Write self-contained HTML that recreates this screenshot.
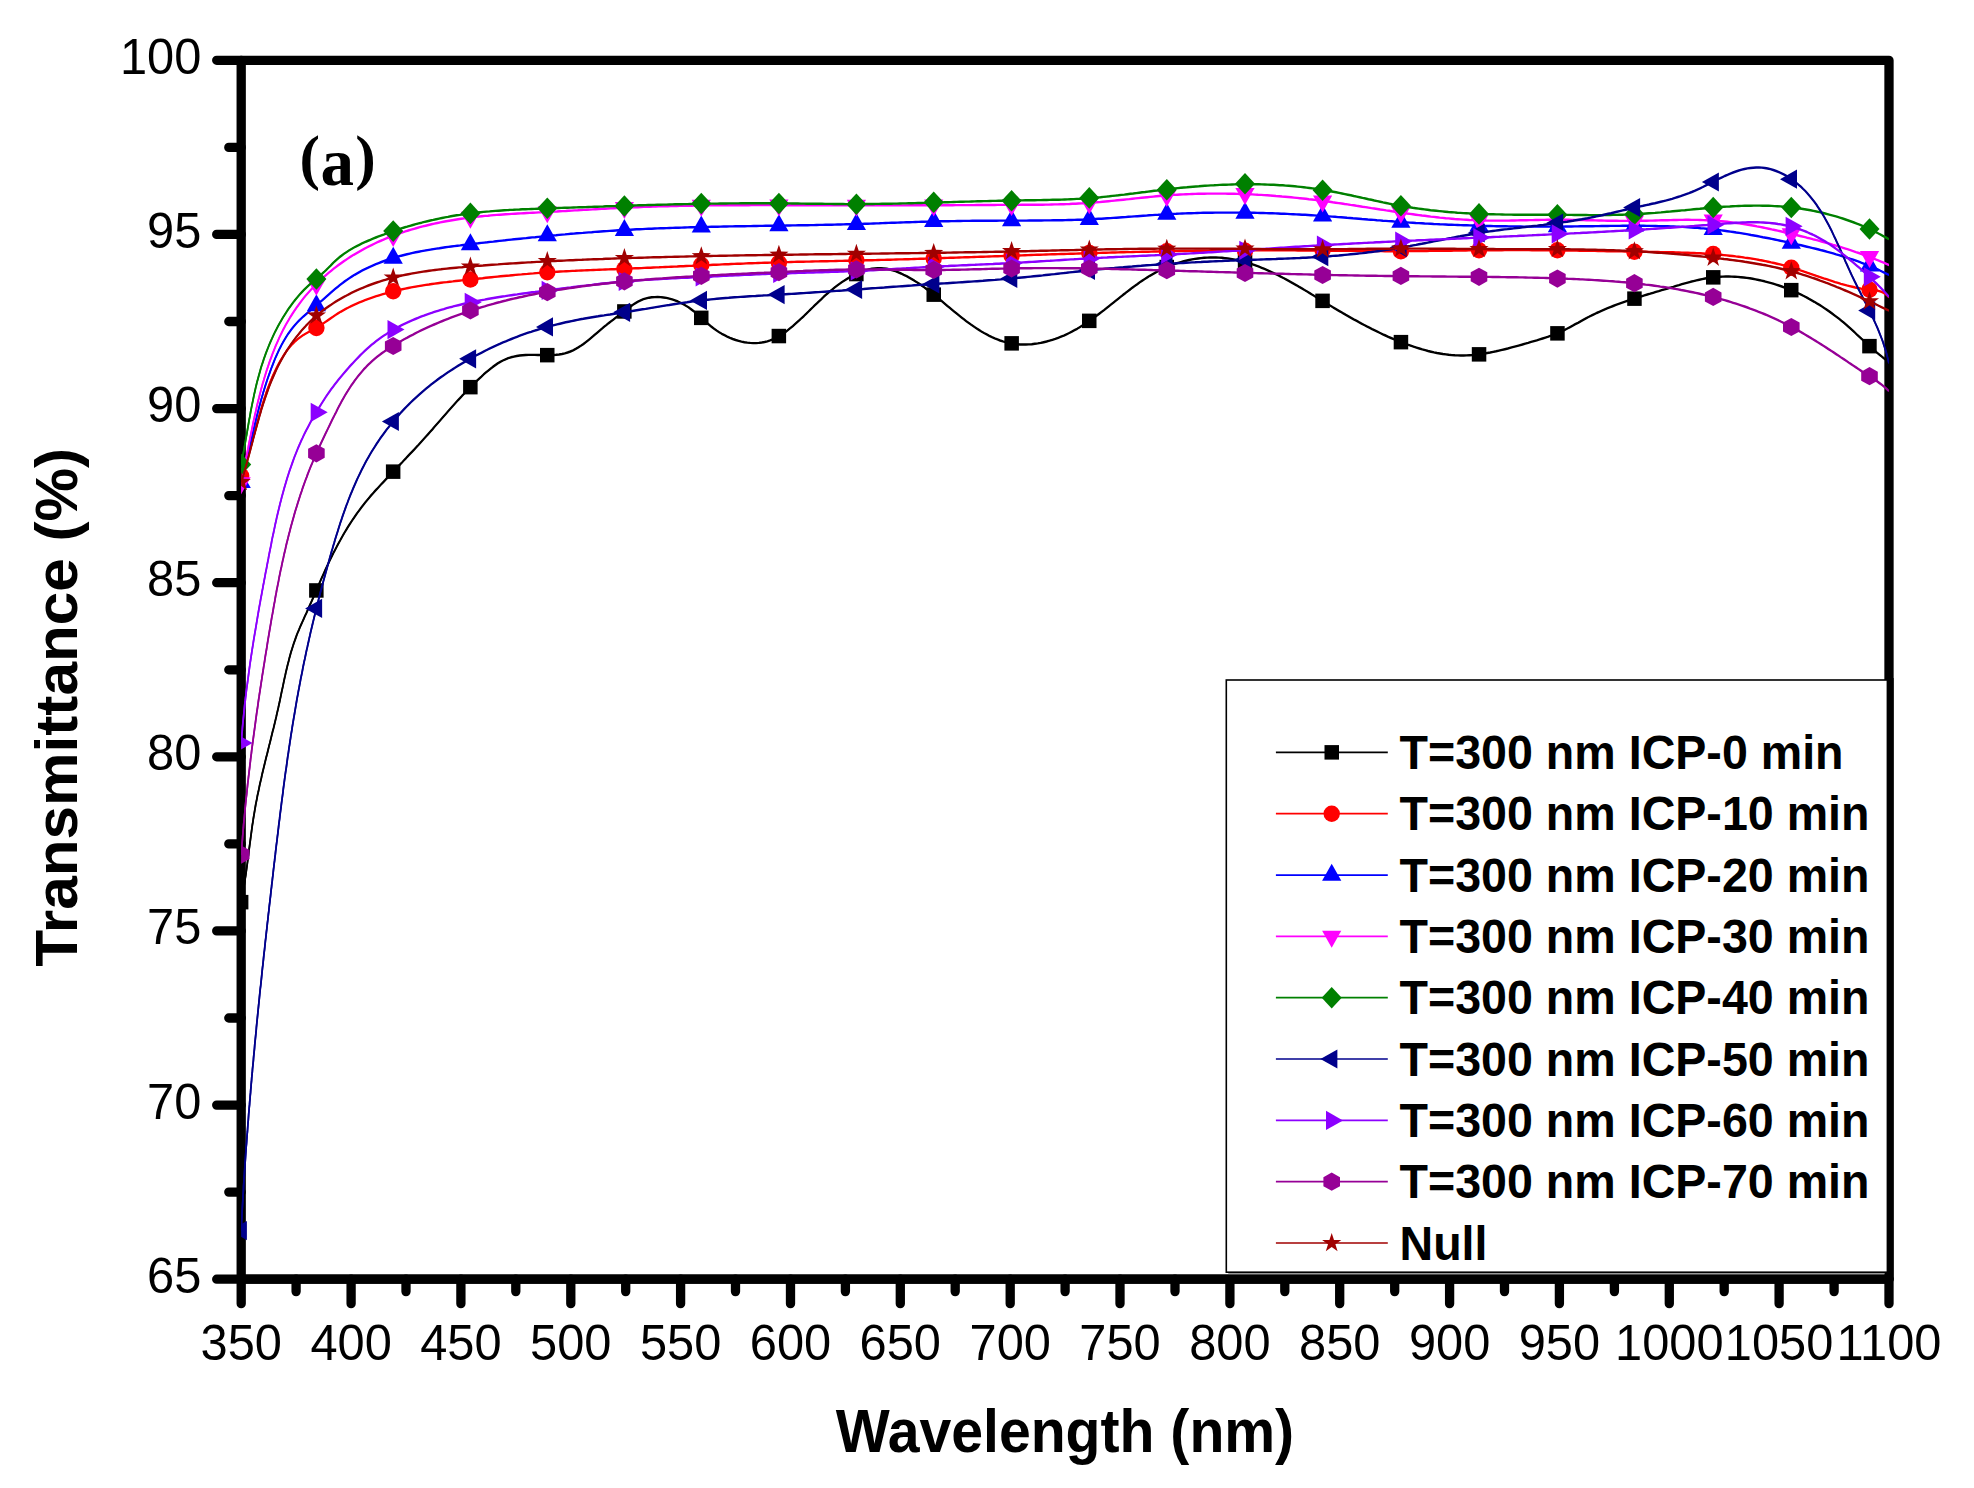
<!DOCTYPE html>
<html lang="en">
<head>
<meta charset="utf-8">
<title>Transmittance vs Wavelength (a)</title>
<style>
html,body{margin:0;padding:0;background:#fff;}
body{width:1974px;height:1488px;overflow:hidden;}
svg{display:block;}
</style>
</head>
<body>
<svg width="1974" height="1488" viewBox="0 0 1974 1488">
<rect width="1974" height="1488" fill="#fff"/>
<defs><clipPath id="cp"><rect x="241.1" y="60.3" width="1647.9" height="1218.9"/></clipPath></defs>
<g stroke="#000" stroke-width="9.3" stroke-linecap="round" fill="none">
<path d="M241.2,60.3 H1889 V1279.2 H241.2 Z" stroke-linejoin="round"/>
<path d="M241.2,60.3H216.7M241.2,147.4H228.8M241.2,234.4H216.7M241.2,321.5H228.8M241.2,408.6H216.7M241.2,495.6H228.8M241.2,582.7H216.7M241.2,669.8H228.8M241.2,756.8H216.7M241.2,843.9H228.8M241.2,930.9H216.7M241.2,1018H228.8M241.2,1105.1H216.7M241.2,1192.1H228.8M241.2,1279.2H216.7M241.2,1279.2V1303.7M296.1,1279.2V1291.6M351.1,1279.2V1303.7M406,1279.2V1291.6M460.9,1279.2V1303.7M515.8,1279.2V1291.6M570.8,1279.2V1303.7M625.7,1279.2V1291.6M680.6,1279.2V1303.7M735.5,1279.2V1291.6M790.5,1279.2V1303.7M845.4,1279.2V1291.6M900.3,1279.2V1303.7M955.2,1279.2V1291.6M1010.2,1279.2V1303.7M1065.1,1279.2V1291.6M1120,1279.2V1303.7M1175,1279.2V1291.6M1229.9,1279.2V1303.7M1284.8,1279.2V1291.6M1339.7,1279.2V1303.7M1394.7,1279.2V1291.6M1449.6,1279.2V1303.7M1504.5,1279.2V1291.6M1559.4,1279.2V1303.7M1614.4,1279.2V1291.6M1669.3,1279.2V1303.7M1724.2,1279.2V1291.6M1779.1,1279.2V1303.7M1834.1,1279.2V1291.6M1889,1279.2V1303.7"/>
</g>
<g font-family="'Liberation Sans', sans-serif" font-size="50" fill="#000">
<text transform="translate(201.3,73.8) scale(0.976,1)" text-anchor="end">100</text>
<text transform="translate(201.3,247.9) scale(0.976,1)" text-anchor="end">95</text>
<text transform="translate(201.3,422.1) scale(0.976,1)" text-anchor="end">90</text>
<text transform="translate(201.3,596.2) scale(0.976,1)" text-anchor="end">85</text>
<text transform="translate(201.3,770.3) scale(0.976,1)" text-anchor="end">80</text>
<text transform="translate(201.3,944.4) scale(0.976,1)" text-anchor="end">75</text>
<text transform="translate(201.3,1118.6) scale(0.976,1)" text-anchor="end">70</text>
<text transform="translate(201.3,1292.7) scale(0.976,1)" text-anchor="end">65</text>
<text transform="translate(241.2,1359.7) scale(0.976,1)" text-anchor="middle">350</text>
<text transform="translate(351.1,1359.7) scale(0.976,1)" text-anchor="middle">400</text>
<text transform="translate(460.9,1359.7) scale(0.976,1)" text-anchor="middle">450</text>
<text transform="translate(570.8,1359.7) scale(0.976,1)" text-anchor="middle">500</text>
<text transform="translate(680.6,1359.7) scale(0.976,1)" text-anchor="middle">550</text>
<text transform="translate(790.5,1359.7) scale(0.976,1)" text-anchor="middle">600</text>
<text transform="translate(900.3,1359.7) scale(0.976,1)" text-anchor="middle">650</text>
<text transform="translate(1010.2,1359.7) scale(0.976,1)" text-anchor="middle">700</text>
<text transform="translate(1120,1359.7) scale(0.976,1)" text-anchor="middle">750</text>
<text transform="translate(1229.9,1359.7) scale(0.976,1)" text-anchor="middle">800</text>
<text transform="translate(1339.7,1359.7) scale(0.976,1)" text-anchor="middle">850</text>
<text transform="translate(1449.6,1359.7) scale(0.976,1)" text-anchor="middle">900</text>
<text transform="translate(1559.4,1359.7) scale(0.976,1)" text-anchor="middle">950</text>
<text transform="translate(1669.3,1359.7) scale(0.976,1)" text-anchor="middle">1000</text>
<text transform="translate(1779.1,1359.7) scale(0.976,1)" text-anchor="middle">1050</text>
<text transform="translate(1889,1359.7) scale(0.976,1)" text-anchor="middle">1100</text>
</g>
<g font-family="'Liberation Sans', sans-serif" font-weight="bold" fill="#000">
<text transform="translate(1065,1452.2) scale(0.945,1)" text-anchor="middle" font-size="60.5">Wavelength (nm)</text>
<text transform="translate(77,707.3) rotate(-90) scale(1.004,1)" font-size="60" text-anchor="middle">Transmittance (%)</text>
</g>
<text font-family="'Liberation Serif', serif" font-weight="bold" fill="#000"><tspan x="299.6" y="177.8" font-size="61.5">(</tspan><tspan x="320.6" y="184.6" font-size="67">a</tspan><tspan x="355.3" y="177.8" font-size="61.5">)</tspan></text>
<g clip-path="url(#cp)">
<path d="M241.2,902.1L241.8,899.2L242.3,896.2L242.8,893.3L243.4,890.3L243.8,887.4L244.3,884.4L244.8,881.5L245.2,878.5L245.7,875.5L246.1,872.5L246.5,869.6L246.9,866.6L247.3,863.6L247.7,860.6L248.1,857.6L248.5,854.7L248.8,851.7L249.2,848.7L249.6,845.7L250,842.7L250.4,839.7L250.8,836.8L251.2,833.8L251.6,830.8L252,827.8L252.4,824.8L252.9,821.9L253.3,818.9L253.8,815.9L254.3,813L254.8,810L255.3,807.1L255.8,804.1L256.4,801.2L257,798.2L257.5,795.3L258.2,792.4L258.8,789.5L259.4,786.5L260,783.6L260.7,780.7L261.4,777.8L262,774.8L262.7,771.9L263.4,769L264.1,766.1L264.8,763.2L265.5,760.3L266.2,757.4L267,754.5L267.7,751.6L268.4,748.7L269.1,745.8L269.9,742.8L270.6,739.9L271.3,737L272,734.1L272.7,731.2L273.5,728.3L274.2,725.4L274.9,722.5L275.6,719.5L276.3,716.6L276.9,713.7L277.6,710.8L278.3,707.8L278.9,704.9L279.6,701.9L280.2,699L280.8,696.1L281.4,693.1L282,690.2L282.7,687.2L283.3,684.3L283.9,681.3L284.5,678.4L285.2,675.5L285.8,672.5L286.5,669.6L287.2,666.7L287.9,663.8L288.7,660.9L289.4,658L290.2,655.1L291,652.2L291.9,649.3L292.8,646.5L293.7,643.6L294.7,640.8L295.7,638L296.7,635.2L297.8,632.4L299,629.7L300.1,626.9L301.3,624.2L302.6,621.4L303.8,618.7L305,615.9L306.3,613.2L307.5,610.5L308.7,607.7L309.9,605L311.2,602.2L312.4,599.5L313.6,596.7L314.7,594L315.9,591.2L317.1,588.5L318.3,585.7L319.5,583L320.7,580.2L321.9,577.5L323.2,574.7L324.4,572L325.6,569.3L326.9,566.5L328.2,563.8L329.5,561.1L330.8,558.4L332.1,555.7L333.4,553L334.8,550.4L336.2,547.7L337.6,545.1L339,542.4L340.5,539.8L341.9,537.2L343.4,534.6L344.9,532L346.5,529.4L348,526.9L349.6,524.4L351.3,521.8L352.9,519.3L354.6,516.9L356.3,514.4L358,512L359.8,509.6L361.6,507.2L363.4,504.8L365.3,502.4L367.2,500.1L369.1,497.8L371,495.5L373,493.3L375,491L377.1,488.8L379.1,486.6L381.1,484.4L383.2,482.2L385.3,480L387.4,477.8L389.4,475.6L391.5,473.5L393.6,471.3L395.6,469.1L397.7,466.9L399.8,464.7L401.9,462.6L403.9,460.4L406,458.2L408,456L410.1,453.8L412.1,451.7L414.2,449.5L416.2,447.3L418.3,445.1L420.3,442.8L422.3,440.6L424.3,438.4L426.3,436.2L428.3,434L430.3,431.7L432.3,429.5L434.2,427.2L436.2,424.9L438.2,422.7L440.2,420.4L442.1,418.2L444.1,415.9L446.1,413.6L448,411.4L450,409.1L452,406.9L454,404.7L456,402.4L458,400.2L460.1,398L462.1,395.8L464.2,393.6L466.2,391.4L468.3,389.3L470.4,387.1L472.6,385L474.7,382.9L476.9,380.8L479.1,378.7L481.3,376.7L483.5,374.6L485.8,372.6L488.1,370.7L490.5,368.7L492.8,366.9L495.3,365.1L497.7,363.4L500.3,361.9L502.9,360.5L505.5,359.3L508.2,358.2L511,357.3L513.9,356.6L516.7,356L519.7,355.5L522.6,355.2L525.6,355L528.7,354.9L531.7,354.9L534.8,354.9L537.9,355L540.9,355L544,355.1L547.1,355.1L550.1,355.1L553.1,355L556.1,354.8L559.1,354.5L562,354L564.8,353.4L567.6,352.5L570.4,351.5L573.1,350.3L575.7,348.9L578.3,347.4L580.8,345.8L583.3,344.1L585.7,342.3L588,340.4L590.4,338.5L592.7,336.6L595,334.6L597.2,332.7L599.5,330.7L601.8,328.8L604.1,326.8L606.4,325L608.7,323.1L611.1,321.3L613.5,319.5L615.9,317.6L618.3,315.8L620.7,314L623.2,312.2L625.6,310.3L628,308.4L630.5,306.6L632.9,304.8L635.5,303.1L638,301.6L640.7,300.3L643.4,299.2L646.2,298.4L649,297.7L651.8,297.3L654.7,297.1L657.6,297L660.6,297.1L663.5,297.5L666.4,297.9L669.3,298.6L672.2,299.4L675,300.4L677.9,301.5L680.6,302.8L683.3,304.1L685.9,305.7L688.5,307.3L690.9,309.1L693.3,310.9L695.7,312.8L698,314.8L700.2,316.8L702.5,318.9L704.8,320.9L707.1,322.9L709.4,324.9L711.7,326.9L714.1,328.7L716.6,330.5L719.2,332.2L721.8,333.8L724.5,335.2L727.2,336.6L730,337.9L732.8,339L735.7,340L738.6,340.8L741.5,341.6L744.4,342.2L747.3,342.6L750.2,342.9L753.1,343.1L756,343.1L758.9,342.9L761.8,342.5L764.6,342L767.4,341.3L770.1,340.4L772.8,339.4L775.4,338.2L778,336.8L780.6,335.3L783.1,333.6L785.6,331.9L788,330L790.4,328.1L792.7,326.2L795.1,324.1L797.3,322.1L799.6,320L801.8,317.9L804,315.9L806.2,313.8L808.4,311.6L810.5,309.5L812.7,307.4L814.8,305.3L817,303.3L819.1,301.2L821.3,299.2L823.4,297.1L825.6,295.1L827.8,293.2L830,291.3L832.3,289.4L834.6,287.5L836.9,285.7L839.3,284L841.7,282.3L844.1,280.7L846.6,279.1L849.2,277.6L851.8,276.1L854.5,274.8L857.3,273.5L860.1,272.3L863,271.2L865.9,270.3L868.9,269.5L871.8,268.8L874.8,268.4L877.8,268.2L880.8,268.2L883.8,268.4L886.8,268.8L889.7,269.5L892.6,270.3L895.5,271.2L898.3,272.3L901.1,273.5L903.8,274.9L906.6,276.2L909.2,277.7L911.8,279.2L914.4,280.7L916.9,282.3L919.4,283.9L921.8,285.6L924.2,287.3L926.6,289.1L928.9,290.9L931.3,292.7L933.6,294.5L935.9,296.4L938.2,298.2L940.5,300.1L942.8,302L945.1,303.9L947.4,305.9L949.7,307.8L952,309.7L954.4,311.7L956.7,313.6L959.1,315.5L961.5,317.4L963.9,319.3L966.3,321.2L968.8,323L971.3,324.8L973.8,326.5L976.3,328.2L978.9,329.9L981.4,331.5L984,333L986.7,334.4L989.3,335.8L992,337.1L994.7,338.3L997.4,339.4L1000.1,340.5L1002.9,341.4L1005.7,342.2L1008.5,342.9L1011.4,343.5L1014.2,343.9L1017.1,344.2L1020,344.5L1023,344.5L1025.9,344.5L1028.9,344.4L1031.8,344.2L1034.8,343.8L1037.8,343.4L1040.7,342.9L1043.7,342.2L1046.6,341.5L1049.5,340.7L1052.4,339.8L1055.3,338.9L1058.2,337.8L1061,336.7L1063.8,335.6L1066.5,334.3L1069.2,333L1071.9,331.6L1074.5,330.2L1077.1,328.8L1079.7,327.2L1082.2,325.7L1084.8,324L1087.3,322.4L1089.7,320.7L1092.2,319L1094.6,317.2L1097,315.4L1099.4,313.6L1101.8,311.8L1104.2,310L1106.6,308.1L1108.9,306.2L1111.3,304.3L1113.6,302.5L1116,300.6L1118.3,298.7L1120.7,296.8L1123,294.9L1125.4,293.1L1127.8,291.2L1130.2,289.4L1132.5,287.6L1135,285.8L1137.4,284.1L1139.8,282.3L1142.3,280.6L1144.8,279L1147.3,277.4L1149.8,275.8L1152.4,274.3L1155,272.8L1157.6,271.4L1160.3,270L1163,268.7L1165.8,267.5L1168.5,266.3L1171.4,265.2L1174.2,264.1L1177.1,263.2L1180.1,262.3L1183,261.5L1186,260.7L1189,260L1192,259.4L1195,258.9L1198,258.5L1201,258.1L1204.1,257.8L1207.1,257.6L1210.1,257.5L1213.1,257.4L1216.1,257.5L1219,257.6L1222,257.8L1224.9,258.1L1227.8,258.4L1230.7,258.9L1233.6,259.4L1236.5,259.9L1239.3,260.6L1242.2,261.3L1245,262L1247.8,262.9L1250.6,263.7L1253.4,264.7L1256.2,265.7L1259,266.7L1261.7,267.8L1264.5,268.9L1267.2,270.1L1269.9,271.3L1272.6,272.6L1275.3,273.9L1278,275.2L1280.7,276.6L1283.4,278L1286,279.4L1288.7,280.9L1291.3,282.3L1294,283.8L1296.6,285.3L1299.2,286.9L1301.9,288.4L1304.5,290L1307.1,291.5L1309.7,293.1L1312.3,294.7L1314.9,296.3L1317.5,297.8L1320.1,299.4L1322.7,301L1325.2,302.6L1327.8,304.1L1330.4,305.7L1333,307.3L1335.6,308.8L1338.1,310.3L1340.7,311.8L1343.3,313.4L1345.9,314.9L1348.5,316.3L1351.1,317.8L1353.7,319.3L1356.3,320.7L1358.9,322.2L1361.5,323.6L1364.2,325L1366.8,326.4L1369.4,327.7L1372.1,329.1L1374.8,330.4L1377.4,331.7L1380.1,333L1382.8,334.3L1385.5,335.5L1388.3,336.8L1391,338L1393.8,339.2L1396.6,340.3L1399.4,341.4L1402.2,342.6L1405,343.6L1407.8,344.7L1410.7,345.7L1413.6,346.7L1416.5,347.6L1419.4,348.5L1422.3,349.4L1425.2,350.2L1428.1,351L1431.1,351.7L1434,352.4L1437,353L1439.9,353.5L1442.9,354L1445.9,354.4L1448.8,354.8L1451.8,355.1L1454.8,355.3L1457.8,355.4L1460.7,355.5L1463.7,355.5L1466.6,355.4L1469.6,355.2L1472.6,355L1475.5,354.7L1478.5,354.4L1481.4,354L1484.4,353.5L1487.3,353L1490.2,352.5L1493.2,351.9L1496.1,351.3L1499,350.6L1502,349.9L1504.9,349.2L1507.8,348.5L1510.7,347.7L1513.6,346.9L1516.6,346.1L1519.5,345.3L1522.4,344.5L1525.3,343.6L1528.2,342.8L1531.1,341.9L1534,341.1L1536.8,340.3L1539.7,339.4L1542.6,338.5L1545.4,337.6L1548.3,336.7L1551.1,335.7L1553.9,334.6L1556.6,333.5L1559.4,332.4L1562.1,331.1L1564.8,329.8L1567.4,328.5L1570.1,327.1L1572.7,325.7L1575.3,324.2L1578,322.8L1580.6,321.3L1583.2,319.9L1585.9,318.4L1588.5,317L1591.2,315.7L1593.9,314.3L1596.6,313L1599.3,311.8L1602,310.6L1604.8,309.4L1607.6,308.2L1610.3,307.1L1613.1,306L1615.9,304.9L1618.7,303.9L1621.5,302.9L1624.4,301.9L1627.2,300.9L1630.1,300L1632.9,299L1635.8,298.1L1638.7,297.2L1641.5,296.3L1644.4,295.4L1647.3,294.5L1650.2,293.7L1653.1,292.8L1655.9,291.9L1658.8,291.1L1661.7,290.2L1664.6,289.4L1667.5,288.5L1670.4,287.6L1673.3,286.8L1676.1,285.9L1679,285.1L1681.9,284.2L1684.8,283.4L1687.7,282.6L1690.6,281.8L1693.5,281.1L1696.4,280.4L1699.3,279.7L1702.2,279.1L1705.1,278.5L1708,278L1711,277.6L1713.9,277.2L1716.9,277L1719.9,276.7L1722.8,276.6L1725.8,276.5L1728.8,276.5L1731.8,276.6L1734.8,276.7L1737.8,276.9L1740.8,277.2L1743.8,277.5L1746.8,277.9L1749.8,278.3L1752.7,278.8L1755.7,279.4L1758.7,280L1761.6,280.6L1764.5,281.3L1767.4,282.1L1770.3,282.9L1773.2,283.7L1776.1,284.6L1778.9,285.5L1781.8,286.5L1784.6,287.6L1787.4,288.6L1790.2,289.8L1792.9,290.9L1795.7,292.2L1798.4,293.4L1801.1,294.7L1803.8,296L1806.5,297.4L1809.1,298.9L1811.7,300.3L1814.3,301.8L1816.9,303.4L1819.5,304.9L1822,306.5L1824.5,308.2L1827,309.9L1829.5,311.6L1831.9,313.4L1834.3,315.2L1836.7,317L1839.1,318.8L1841.4,320.7L1843.7,322.6L1846,324.6L1848.2,326.6L1850.5,328.6L1852.7,330.6L1854.9,332.6L1857.1,334.7L1859.3,336.7L1861.5,338.8L1863.7,340.8L1865.9,342.8L1868.1,344.9L1870.4,346.9L1872.6,348.9L1874.9,350.8L1877.1,352.8L1879.5,354.7L1881.8,356.6L1884.1,358.4L1886.5,360.2L1889,362" fill="none" stroke="#000000" stroke-width="1.7" stroke-linejoin="round" transform="translate(0,-0.35)"/>
<path d="M241.2,902.1L241.8,899.2L242.3,896.2L242.8,893.3L243.4,890.3L243.8,887.4L244.3,884.4L244.8,881.5L245.2,878.5L245.7,875.5L246.1,872.5L246.5,869.6L246.9,866.6L247.3,863.6L247.7,860.6L248.1,857.6L248.5,854.7L248.8,851.7L249.2,848.7L249.6,845.7L250,842.7L250.4,839.7L250.8,836.8L251.2,833.8L251.6,830.8L252,827.8L252.4,824.8L252.9,821.9L253.3,818.9L253.8,815.9L254.3,813L254.8,810L255.3,807.1L255.8,804.1L256.4,801.2L257,798.2L257.5,795.3L258.2,792.4L258.8,789.5L259.4,786.5L260,783.6L260.7,780.7L261.4,777.8L262,774.8L262.7,771.9L263.4,769L264.1,766.1L264.8,763.2L265.5,760.3L266.2,757.4L267,754.5L267.7,751.6L268.4,748.7L269.1,745.8L269.9,742.8L270.6,739.9L271.3,737L272,734.1L272.7,731.2L273.5,728.3L274.2,725.4L274.9,722.5L275.6,719.5L276.3,716.6L276.9,713.7L277.6,710.8L278.3,707.8L278.9,704.9L279.6,701.9L280.2,699L280.8,696.1L281.4,693.1L282,690.2L282.7,687.2L283.3,684.3L283.9,681.3L284.5,678.4L285.2,675.5L285.8,672.5L286.5,669.6L287.2,666.7L287.9,663.8L288.7,660.9L289.4,658L290.2,655.1L291,652.2L291.9,649.3L292.8,646.5L293.7,643.6L294.7,640.8L295.7,638L296.7,635.2L297.8,632.4L299,629.7L300.1,626.9L301.3,624.2L302.6,621.4L303.8,618.7L305,615.9L306.3,613.2L307.5,610.5L308.7,607.7L309.9,605L311.2,602.2L312.4,599.5L313.6,596.7L314.7,594L315.9,591.2L317.1,588.5L318.3,585.7L319.5,583L320.7,580.2L321.9,577.5L323.2,574.7L324.4,572L325.6,569.3L326.9,566.5L328.2,563.8L329.5,561.1L330.8,558.4L332.1,555.7L333.4,553L334.8,550.4L336.2,547.7L337.6,545.1L339,542.4L340.5,539.8L341.9,537.2L343.4,534.6L344.9,532L346.5,529.4L348,526.9L349.6,524.4L351.3,521.8L352.9,519.3L354.6,516.9L356.3,514.4L358,512L359.8,509.6L361.6,507.2L363.4,504.8L365.3,502.4L367.2,500.1L369.1,497.8L371,495.5L373,493.3L375,491L377.1,488.8L379.1,486.6L381.1,484.4L383.2,482.2L385.3,480L387.4,477.8L389.4,475.6L391.5,473.5L393.6,471.3L395.6,469.1L397.7,466.9L399.8,464.7L401.9,462.6L403.9,460.4L406,458.2L408,456L410.1,453.8L412.1,451.7L414.2,449.5L416.2,447.3L418.3,445.1L420.3,442.8L422.3,440.6L424.3,438.4L426.3,436.2L428.3,434L430.3,431.7L432.3,429.5L434.2,427.2L436.2,424.9L438.2,422.7L440.2,420.4L442.1,418.2L444.1,415.9L446.1,413.6L448,411.4L450,409.1L452,406.9L454,404.7L456,402.4L458,400.2L460.1,398L462.1,395.8L464.2,393.6L466.2,391.4L468.3,389.3L470.4,387.1L472.6,385L474.7,382.9L476.9,380.8L479.1,378.7L481.3,376.7L483.5,374.6L485.8,372.6L488.1,370.7L490.5,368.7L492.8,366.9L495.3,365.1L497.7,363.4L500.3,361.9L502.9,360.5L505.5,359.3L508.2,358.2L511,357.3L513.9,356.6L516.7,356L519.7,355.5L522.6,355.2L525.6,355L528.7,354.9L531.7,354.9L534.8,354.9L537.9,355L540.9,355L544,355.1L547.1,355.1L550.1,355.1L553.1,355L556.1,354.8L559.1,354.5L562,354L564.8,353.4L567.6,352.5L570.4,351.5L573.1,350.3L575.7,348.9L578.3,347.4L580.8,345.8L583.3,344.1L585.7,342.3L588,340.4L590.4,338.5L592.7,336.6L595,334.6L597.2,332.7L599.5,330.7L601.8,328.8L604.1,326.8L606.4,325L608.7,323.1L611.1,321.3L613.5,319.5L615.9,317.6L618.3,315.8L620.7,314L623.2,312.2L625.6,310.3L628,308.4L630.5,306.6L632.9,304.8L635.5,303.1L638,301.6L640.7,300.3L643.4,299.2L646.2,298.4L649,297.7L651.8,297.3L654.7,297.1L657.6,297L660.6,297.1L663.5,297.5L666.4,297.9L669.3,298.6L672.2,299.4L675,300.4L677.9,301.5L680.6,302.8L683.3,304.1L685.9,305.7L688.5,307.3L690.9,309.1L693.3,310.9L695.7,312.8L698,314.8L700.2,316.8L702.5,318.9L704.8,320.9L707.1,322.9L709.4,324.9L711.7,326.9L714.1,328.7L716.6,330.5L719.2,332.2L721.8,333.8L724.5,335.2L727.2,336.6L730,337.9L732.8,339L735.7,340L738.6,340.8L741.5,341.6L744.4,342.2L747.3,342.6L750.2,342.9L753.1,343.1L756,343.1L758.9,342.9L761.8,342.5L764.6,342L767.4,341.3L770.1,340.4L772.8,339.4L775.4,338.2L778,336.8L780.6,335.3L783.1,333.6L785.6,331.9L788,330L790.4,328.1L792.7,326.2L795.1,324.1L797.3,322.1L799.6,320L801.8,317.9L804,315.9L806.2,313.8L808.4,311.6L810.5,309.5L812.7,307.4L814.8,305.3L817,303.3L819.1,301.2L821.3,299.2L823.4,297.1L825.6,295.1L827.8,293.2L830,291.3L832.3,289.4L834.6,287.5L836.9,285.7L839.3,284L841.7,282.3L844.1,280.7L846.6,279.1L849.2,277.6L851.8,276.1L854.5,274.8L857.3,273.5L860.1,272.3L863,271.2L865.9,270.3L868.9,269.5L871.8,268.8L874.8,268.4L877.8,268.2L880.8,268.2L883.8,268.4L886.8,268.8L889.7,269.5L892.6,270.3L895.5,271.2L898.3,272.3L901.1,273.5L903.8,274.9L906.6,276.2L909.2,277.7L911.8,279.2L914.4,280.7L916.9,282.3L919.4,283.9L921.8,285.6L924.2,287.3L926.6,289.1L928.9,290.9L931.3,292.7L933.6,294.5L935.9,296.4L938.2,298.2L940.5,300.1L942.8,302L945.1,303.9L947.4,305.9L949.7,307.8L952,309.7L954.4,311.7L956.7,313.6L959.1,315.5L961.5,317.4L963.9,319.3L966.3,321.2L968.8,323L971.3,324.8L973.8,326.5L976.3,328.2L978.9,329.9L981.4,331.5L984,333L986.7,334.4L989.3,335.8L992,337.1L994.7,338.3L997.4,339.4L1000.1,340.5L1002.9,341.4L1005.7,342.2L1008.5,342.9L1011.4,343.5L1014.2,343.9L1017.1,344.2L1020,344.5L1023,344.5L1025.9,344.5L1028.9,344.4L1031.8,344.2L1034.8,343.8L1037.8,343.4L1040.7,342.9L1043.7,342.2L1046.6,341.5L1049.5,340.7L1052.4,339.8L1055.3,338.9L1058.2,337.8L1061,336.7L1063.8,335.6L1066.5,334.3L1069.2,333L1071.9,331.6L1074.5,330.2L1077.1,328.8L1079.7,327.2L1082.2,325.7L1084.8,324L1087.3,322.4L1089.7,320.7L1092.2,319L1094.6,317.2L1097,315.4L1099.4,313.6L1101.8,311.8L1104.2,310L1106.6,308.1L1108.9,306.2L1111.3,304.3L1113.6,302.5L1116,300.6L1118.3,298.7L1120.7,296.8L1123,294.9L1125.4,293.1L1127.8,291.2L1130.2,289.4L1132.5,287.6L1135,285.8L1137.4,284.1L1139.8,282.3L1142.3,280.6L1144.8,279L1147.3,277.4L1149.8,275.8L1152.4,274.3L1155,272.8L1157.6,271.4L1160.3,270L1163,268.7L1165.8,267.5L1168.5,266.3L1171.4,265.2L1174.2,264.1L1177.1,263.2L1180.1,262.3L1183,261.5L1186,260.7L1189,260L1192,259.4L1195,258.9L1198,258.5L1201,258.1L1204.1,257.8L1207.1,257.6L1210.1,257.5L1213.1,257.4L1216.1,257.5L1219,257.6L1222,257.8L1224.9,258.1L1227.8,258.4L1230.7,258.9L1233.6,259.4L1236.5,259.9L1239.3,260.6L1242.2,261.3L1245,262L1247.8,262.9L1250.6,263.7L1253.4,264.7L1256.2,265.7L1259,266.7L1261.7,267.8L1264.5,268.9L1267.2,270.1L1269.9,271.3L1272.6,272.6L1275.3,273.9L1278,275.2L1280.7,276.6L1283.4,278L1286,279.4L1288.7,280.9L1291.3,282.3L1294,283.8L1296.6,285.3L1299.2,286.9L1301.9,288.4L1304.5,290L1307.1,291.5L1309.7,293.1L1312.3,294.7L1314.9,296.3L1317.5,297.8L1320.1,299.4L1322.7,301L1325.2,302.6L1327.8,304.1L1330.4,305.7L1333,307.3L1335.6,308.8L1338.1,310.3L1340.7,311.8L1343.3,313.4L1345.9,314.9L1348.5,316.3L1351.1,317.8L1353.7,319.3L1356.3,320.7L1358.9,322.2L1361.5,323.6L1364.2,325L1366.8,326.4L1369.4,327.7L1372.1,329.1L1374.8,330.4L1377.4,331.7L1380.1,333L1382.8,334.3L1385.5,335.5L1388.3,336.8L1391,338L1393.8,339.2L1396.6,340.3L1399.4,341.4L1402.2,342.6L1405,343.6L1407.8,344.7L1410.7,345.7L1413.6,346.7L1416.5,347.6L1419.4,348.5L1422.3,349.4L1425.2,350.2L1428.1,351L1431.1,351.7L1434,352.4L1437,353L1439.9,353.5L1442.9,354L1445.9,354.4L1448.8,354.8L1451.8,355.1L1454.8,355.3L1457.8,355.4L1460.7,355.5L1463.7,355.5L1466.6,355.4L1469.6,355.2L1472.6,355L1475.5,354.7L1478.5,354.4L1481.4,354L1484.4,353.5L1487.3,353L1490.2,352.5L1493.2,351.9L1496.1,351.3L1499,350.6L1502,349.9L1504.9,349.2L1507.8,348.5L1510.7,347.7L1513.6,346.9L1516.6,346.1L1519.5,345.3L1522.4,344.5L1525.3,343.6L1528.2,342.8L1531.1,341.9L1534,341.1L1536.8,340.3L1539.7,339.4L1542.6,338.5L1545.4,337.6L1548.3,336.7L1551.1,335.7L1553.9,334.6L1556.6,333.5L1559.4,332.4L1562.1,331.1L1564.8,329.8L1567.4,328.5L1570.1,327.1L1572.7,325.7L1575.3,324.2L1578,322.8L1580.6,321.3L1583.2,319.9L1585.9,318.4L1588.5,317L1591.2,315.7L1593.9,314.3L1596.6,313L1599.3,311.8L1602,310.6L1604.8,309.4L1607.6,308.2L1610.3,307.1L1613.1,306L1615.9,304.9L1618.7,303.9L1621.5,302.9L1624.4,301.9L1627.2,300.9L1630.1,300L1632.9,299L1635.8,298.1L1638.7,297.2L1641.5,296.3L1644.4,295.4L1647.3,294.5L1650.2,293.7L1653.1,292.8L1655.9,291.9L1658.8,291.1L1661.7,290.2L1664.6,289.4L1667.5,288.5L1670.4,287.6L1673.3,286.8L1676.1,285.9L1679,285.1L1681.9,284.2L1684.8,283.4L1687.7,282.6L1690.6,281.8L1693.5,281.1L1696.4,280.4L1699.3,279.7L1702.2,279.1L1705.1,278.5L1708,278L1711,277.6L1713.9,277.2L1716.9,277L1719.9,276.7L1722.8,276.6L1725.8,276.5L1728.8,276.5L1731.8,276.6L1734.8,276.7L1737.8,276.9L1740.8,277.2L1743.8,277.5L1746.8,277.9L1749.8,278.3L1752.7,278.8L1755.7,279.4L1758.7,280L1761.6,280.6L1764.5,281.3L1767.4,282.1L1770.3,282.9L1773.2,283.7L1776.1,284.6L1778.9,285.5L1781.8,286.5L1784.6,287.6L1787.4,288.6L1790.2,289.8L1792.9,290.9L1795.7,292.2L1798.4,293.4L1801.1,294.7L1803.8,296L1806.5,297.4L1809.1,298.9L1811.7,300.3L1814.3,301.8L1816.9,303.4L1819.5,304.9L1822,306.5L1824.5,308.2L1827,309.9L1829.5,311.6L1831.9,313.4L1834.3,315.2L1836.7,317L1839.1,318.8L1841.4,320.7L1843.7,322.6L1846,324.6L1848.2,326.6L1850.5,328.6L1852.7,330.6L1854.9,332.6L1857.1,334.7L1859.3,336.7L1861.5,338.8L1863.7,340.8L1865.9,342.8L1868.1,344.9L1870.4,346.9L1872.6,348.9L1874.9,350.8L1877.1,352.8L1879.5,354.7L1881.8,356.6L1884.1,358.4L1886.5,360.2L1889,362" fill="none" stroke="#000000" stroke-width="1.7" stroke-linejoin="round" transform="translate(0,0.35)"/>
<rect x="233.9" y="894.9" width="14.5" height="14.5" fill="#000000"/>
<rect x="309.1" y="583.2" width="14.5" height="14.5" fill="#000000"/>
<rect x="385.9" y="464.4" width="14.5" height="14.5" fill="#000000"/>
<rect x="463.1" y="379.9" width="14.5" height="14.5" fill="#000000"/>
<rect x="540" y="347.9" width="14.5" height="14.5" fill="#000000"/>
<rect x="617.1" y="304.2" width="14.5" height="14.5" fill="#000000"/>
<rect x="694" y="310.6" width="14.5" height="14.5" fill="#000000"/>
<rect x="771.6" y="328.8" width="14.5" height="14.5" fill="#000000"/>
<rect x="849.1" y="266.8" width="14.5" height="14.5" fill="#000000"/>
<rect x="926.5" y="287.4" width="14.5" height="14.5" fill="#000000"/>
<rect x="1004.4" y="336.1" width="14.5" height="14.5" fill="#000000"/>
<rect x="1082" y="313.6" width="14.5" height="14.5" fill="#000000"/>
<rect x="1159.5" y="259.8" width="14.5" height="14.5" fill="#000000"/>
<rect x="1237.8" y="254.8" width="14.5" height="14.5" fill="#000000"/>
<rect x="1315.3" y="293.6" width="14.5" height="14.5" fill="#000000"/>
<rect x="1393.7" y="334.9" width="14.5" height="14.5" fill="#000000"/>
<rect x="1471.8" y="347.1" width="14.5" height="14.5" fill="#000000"/>
<rect x="1550.2" y="326.1" width="14.5" height="14.5" fill="#000000"/>
<rect x="1627.2" y="291.4" width="14.5" height="14.5" fill="#000000"/>
<rect x="1706" y="270.1" width="14.5" height="14.5" fill="#000000"/>
<rect x="1784" y="282.9" width="14.5" height="14.5" fill="#000000"/>
<rect x="1862.2" y="338.9" width="14.5" height="14.5" fill="#000000"/>
<path d="M241.2,476L242.3,473.2L243.3,470.4L244.3,467.6L245.3,464.7L246.2,461.9L247.1,459L248,456.2L248.8,453.3L249.7,450.4L250.5,447.5L251.3,444.6L252.1,441.8L252.9,438.9L253.7,436L254.5,433.1L255.3,430.2L256,427.3L256.8,424.4L257.6,421.5L258.4,418.6L259.2,415.7L260,412.8L260.8,409.9L261.7,407L262.5,404.1L263.4,401.3L264.3,398.4L265.3,395.6L266.2,392.7L267.2,389.9L268.2,387.1L269.3,384.3L270.4,381.5L271.6,378.7L272.7,376L274,373.2L275.3,370.5L276.6,367.8L278,365.1L279.4,362.4L280.9,359.8L282.5,357.2L284.1,354.6L285.8,352.1L287.6,349.7L289.5,347.4L291.4,345.1L293.5,343L295.6,340.9L297.8,339L300.2,337.2L302.6,335.5L305.1,334L307.7,332.5L310.4,331.1L313,329.7L315.7,328.2L318.2,326.7L320.8,325.1L323.2,323.5L325.7,321.8L328.1,320.1L330.6,318.4L333,316.7L335.5,315L338,313.4L340.6,311.8L343.2,310.3L345.8,308.9L348.5,307.5L351.2,306.2L353.9,304.9L356.7,303.6L359.4,302.4L362.2,301.3L365,300.2L367.8,299.1L370.7,298.1L373.5,297.1L376.3,296.2L379.2,295.3L382.1,294.4L384.9,293.6L387.8,292.8L390.7,292L393.6,291.3L396.5,290.6L399.4,289.9L402.3,289.2L405.3,288.6L408.2,288L411.2,287.4L414.1,286.9L417,286.4L420,285.9L423,285.4L425.9,284.9L428.9,284.5L431.9,284L434.8,283.6L437.8,283.2L440.8,282.8L443.8,282.4L446.8,282.1L449.8,281.7L452.8,281.4L455.7,281L458.7,280.7L461.7,280.4L464.7,280.1L467.7,279.7L470.7,279.4L473.7,279.1L476.7,278.8L479.7,278.5L482.7,278.2L485.7,277.8L488.6,277.5L491.6,277.2L494.6,276.9L497.6,276.6L500.6,276.3L503.6,276L506.6,275.7L509.5,275.5L512.5,275.2L515.5,274.9L518.5,274.6L521.5,274.4L524.5,274.1L527.4,273.9L530.4,273.6L533.4,273.4L536.4,273.1L539.4,272.9L542.4,272.7L545.4,272.5L548.4,272.3L551.4,272.1L554.3,271.9L557.3,271.7L560.3,271.5L563.3,271.4L566.3,271.2L569.3,271.1L572.3,270.9L575.3,270.8L578.3,270.6L581.3,270.5L584.3,270.4L587.3,270.2L590.3,270.1L593.3,270L596.3,269.9L599.3,269.7L602.3,269.6L605.3,269.5L608.3,269.4L611.3,269.3L614.3,269.2L617.3,269L620.3,268.9L623.3,268.8L626.3,268.7L629.3,268.6L632.3,268.4L635.3,268.3L638.3,268.2L641.3,268.1L644.3,267.9L647.3,267.8L650.3,267.7L653.3,267.5L656.3,267.4L659.2,267.3L662.2,267.1L665.2,267L668.2,266.9L671.2,266.7L674.2,266.6L677.2,266.5L680.2,266.3L683.2,266.2L686.2,266L689.2,265.9L692.2,265.8L695.2,265.6L698.2,265.5L701.2,265.4L704.2,265.2L707.2,265.1L710.2,265L713.2,264.8L716.2,264.7L719.2,264.6L722.2,264.4L725.2,264.3L728.2,264.2L731.2,264L734.2,263.9L737.2,263.8L740.2,263.7L743.2,263.6L746.2,263.4L749.1,263.3L752.1,263.2L755.1,263.1L758.1,263L761.1,262.9L764.1,262.8L767.1,262.7L770.1,262.6L773.1,262.5L776.1,262.4L779.1,262.3L782.1,262.2L785.1,262.1L788.1,262.1L791.1,262L794.1,261.9L797.1,261.8L800.1,261.8L803.1,261.7L806.1,261.6L809.1,261.6L812.1,261.5L815.1,261.4L818.1,261.4L821.1,261.3L824.1,261.2L827.1,261.2L830.1,261.1L833.1,261.1L836.1,261L839.1,260.9L842.1,260.9L845.1,260.8L848.1,260.7L851.1,260.7L854.1,260.6L857.1,260.5L860.1,260.5L863.1,260.4L866.1,260.3L869.1,260.3L872.1,260.2L875.1,260.1L878.1,260L881.1,259.9L884.1,259.9L887.1,259.8L890.1,259.7L893.1,259.6L896.1,259.5L899.1,259.4L902.1,259.4L905.1,259.3L908.1,259.2L911.1,259.1L914.1,259L917.1,258.9L920.1,258.8L923.1,258.7L926.1,258.6L929.1,258.5L932.1,258.4L935.1,258.3L938.1,258.2L941.1,258.1L944.1,258L947.1,257.9L950.1,257.8L953.1,257.7L956.1,257.6L959.1,257.5L962.1,257.4L965.1,257.3L968.1,257.2L971.1,257.1L974.1,257L977,256.9L980,256.8L983,256.7L986,256.6L989,256.5L992,256.4L995,256.3L998,256.2L1001,256.1L1004,256L1007,255.9L1010,255.8L1013,255.7L1016,255.6L1019,255.5L1022,255.4L1025,255.2L1028,255.1L1031,255L1034,254.9L1037,254.8L1040,254.7L1043,254.6L1046,254.5L1049,254.4L1052,254.3L1055,254.2L1058,254.1L1061,254L1064,254L1067,253.9L1070,253.8L1073,253.7L1076,253.6L1079,253.5L1082,253.4L1085,253.3L1088,253.2L1091,253.1L1094,253L1097,253L1100,252.9L1103,252.8L1106,252.7L1109,252.6L1112,252.5L1115,252.5L1118,252.4L1121,252.3L1124,252.2L1127,252.1L1130,252.1L1133,252L1136,251.9L1139,251.9L1142,251.8L1145,251.7L1148,251.7L1151,251.6L1154,251.5L1157,251.5L1159.9,251.4L1162.9,251.4L1165.9,251.3L1168.9,251.2L1171.9,251.2L1174.9,251.1L1177.9,251.1L1180.9,251L1183.9,251L1186.9,251L1189.9,250.9L1192.9,250.9L1195.9,250.8L1198.9,250.8L1201.9,250.8L1204.9,250.7L1207.9,250.7L1210.9,250.7L1213.9,250.6L1216.9,250.6L1219.9,250.6L1222.9,250.6L1225.9,250.5L1228.9,250.5L1231.9,250.5L1234.9,250.5L1237.9,250.5L1240.9,250.5L1243.9,250.4L1246.9,250.4L1249.9,250.4L1252.9,250.4L1255.9,250.4L1258.9,250.4L1261.9,250.4L1264.9,250.4L1267.9,250.4L1270.9,250.4L1273.9,250.4L1276.9,250.4L1279.9,250.4L1282.9,250.4L1285.9,250.4L1288.9,250.4L1291.9,250.4L1294.9,250.4L1297.9,250.5L1300.9,250.5L1303.9,250.5L1306.9,250.5L1309.9,250.5L1312.9,250.6L1315.9,250.6L1318.9,250.6L1321.9,250.6L1324.9,250.6L1327.9,250.7L1330.9,250.7L1333.9,250.7L1336.9,250.8L1339.9,250.8L1342.9,250.8L1345.9,250.9L1348.9,250.9L1351.9,250.9L1354.9,250.9L1357.9,251L1360.9,251L1363.9,251L1366.9,251L1369.9,251.1L1372.9,251.1L1375.9,251.1L1378.9,251.1L1381.9,251.1L1384.9,251.2L1387.9,251.2L1390.9,251.2L1393.9,251.2L1396.9,251.2L1399.9,251.2L1402.9,251.2L1405.9,251.1L1408.9,251.1L1411.9,251.1L1414.9,251.1L1417.9,251.1L1420.9,251L1423.9,251L1426.9,251L1429.9,250.9L1432.9,250.9L1435.9,250.9L1438.9,250.8L1441.9,250.8L1444.9,250.7L1447.9,250.7L1450.9,250.7L1453.9,250.6L1456.9,250.6L1459.9,250.5L1462.9,250.5L1465.9,250.5L1468.9,250.4L1471.9,250.4L1474.9,250.4L1477.9,250.3L1480.9,250.3L1483.9,250.3L1486.9,250.2L1489.9,250.2L1492.9,250.2L1495.9,250.2L1498.9,250.2L1501.9,250.2L1504.9,250.1L1507.9,250.1L1510.9,250.1L1513.9,250.1L1516.9,250.1L1519.9,250.1L1522.9,250.1L1525.9,250.1L1528.9,250.1L1531.9,250.2L1534.9,250.2L1537.9,250.2L1540.9,250.2L1543.9,250.2L1546.9,250.2L1549.9,250.3L1552.9,250.3L1555.9,250.3L1558.9,250.4L1561.9,250.4L1564.9,250.5L1567.9,250.5L1570.9,250.5L1573.9,250.6L1576.9,250.6L1579.9,250.7L1582.9,250.7L1585.9,250.8L1588.9,250.8L1591.9,250.9L1594.9,250.9L1597.9,251L1600.9,251.1L1603.9,251.1L1606.9,251.2L1609.9,251.2L1612.9,251.3L1615.9,251.3L1618.9,251.4L1621.9,251.4L1624.9,251.5L1627.9,251.5L1630.9,251.6L1633.9,251.6L1636.9,251.7L1639.9,251.7L1642.9,251.8L1645.9,251.8L1648.9,251.9L1651.9,251.9L1654.9,252L1657.9,252L1660.9,252.1L1663.9,252.1L1666.9,252.2L1669.9,252.2L1672.9,252.3L1675.9,252.4L1678.9,252.5L1681.9,252.6L1684.9,252.7L1687.9,252.8L1690.9,252.9L1693.9,253L1696.9,253.2L1699.9,253.3L1702.9,253.5L1705.9,253.7L1708.9,253.9L1711.9,254.1L1714.8,254.3L1717.8,254.6L1720.8,254.8L1723.8,255.1L1726.8,255.4L1729.7,255.7L1732.7,256L1735.7,256.4L1738.7,256.7L1741.6,257.1L1744.6,257.6L1747.5,258L1750.5,258.4L1753.5,258.9L1756.4,259.4L1759.4,260L1762.3,260.5L1765.3,261.1L1768.2,261.7L1771.2,262.4L1774.1,263L1777,263.7L1780,264.4L1782.9,265.2L1785.8,266L1788.8,266.8L1791.7,267.7L1794.6,268.5L1797.5,269.4L1800.4,270.4L1803.3,271.3L1806.2,272.3L1809.1,273.3L1812,274.3L1814.9,275.3L1817.8,276.3L1820.7,277.3L1823.6,278.3L1826.5,279.2L1829.4,280.2L1832.3,281.1L1835.1,282.1L1838,282.9L1840.9,283.8L1843.8,284.6L1846.7,285.4L1849.5,286.1L1852.4,286.8L1855.3,287.5L1858.1,288L1861,288.6L1863.9,289L1866.8,289.4L1869.6,289.7L1872.5,290L1875.4,290.3L1878.2,290.8L1881,291.7L1883.7,292.9L1886.4,294.8L1889,297.3" fill="none" stroke="#ff0000" stroke-width="1.7" stroke-linejoin="round" transform="translate(0,-0.35)"/>
<path d="M241.2,476L242.3,473.2L243.3,470.4L244.3,467.6L245.3,464.7L246.2,461.9L247.1,459L248,456.2L248.8,453.3L249.7,450.4L250.5,447.5L251.3,444.6L252.1,441.8L252.9,438.9L253.7,436L254.5,433.1L255.3,430.2L256,427.3L256.8,424.4L257.6,421.5L258.4,418.6L259.2,415.7L260,412.8L260.8,409.9L261.7,407L262.5,404.1L263.4,401.3L264.3,398.4L265.3,395.6L266.2,392.7L267.2,389.9L268.2,387.1L269.3,384.3L270.4,381.5L271.6,378.7L272.7,376L274,373.2L275.3,370.5L276.6,367.8L278,365.1L279.4,362.4L280.9,359.8L282.5,357.2L284.1,354.6L285.8,352.1L287.6,349.7L289.5,347.4L291.4,345.1L293.5,343L295.6,340.9L297.8,339L300.2,337.2L302.6,335.5L305.1,334L307.7,332.5L310.4,331.1L313,329.7L315.7,328.2L318.2,326.7L320.8,325.1L323.2,323.5L325.7,321.8L328.1,320.1L330.6,318.4L333,316.7L335.5,315L338,313.4L340.6,311.8L343.2,310.3L345.8,308.9L348.5,307.5L351.2,306.2L353.9,304.9L356.7,303.6L359.4,302.4L362.2,301.3L365,300.2L367.8,299.1L370.7,298.1L373.5,297.1L376.3,296.2L379.2,295.3L382.1,294.4L384.9,293.6L387.8,292.8L390.7,292L393.6,291.3L396.5,290.6L399.4,289.9L402.3,289.2L405.3,288.6L408.2,288L411.2,287.4L414.1,286.9L417,286.4L420,285.9L423,285.4L425.9,284.9L428.9,284.5L431.9,284L434.8,283.6L437.8,283.2L440.8,282.8L443.8,282.4L446.8,282.1L449.8,281.7L452.8,281.4L455.7,281L458.7,280.7L461.7,280.4L464.7,280.1L467.7,279.7L470.7,279.4L473.7,279.1L476.7,278.8L479.7,278.5L482.7,278.2L485.7,277.8L488.6,277.5L491.6,277.2L494.6,276.9L497.6,276.6L500.6,276.3L503.6,276L506.6,275.7L509.5,275.5L512.5,275.2L515.5,274.9L518.5,274.6L521.5,274.4L524.5,274.1L527.4,273.9L530.4,273.6L533.4,273.4L536.4,273.1L539.4,272.9L542.4,272.7L545.4,272.5L548.4,272.3L551.4,272.1L554.3,271.9L557.3,271.7L560.3,271.5L563.3,271.4L566.3,271.2L569.3,271.1L572.3,270.9L575.3,270.8L578.3,270.6L581.3,270.5L584.3,270.4L587.3,270.2L590.3,270.1L593.3,270L596.3,269.9L599.3,269.7L602.3,269.6L605.3,269.5L608.3,269.4L611.3,269.3L614.3,269.2L617.3,269L620.3,268.9L623.3,268.8L626.3,268.7L629.3,268.6L632.3,268.4L635.3,268.3L638.3,268.2L641.3,268.1L644.3,267.9L647.3,267.8L650.3,267.7L653.3,267.5L656.3,267.4L659.2,267.3L662.2,267.1L665.2,267L668.2,266.9L671.2,266.7L674.2,266.6L677.2,266.5L680.2,266.3L683.2,266.2L686.2,266L689.2,265.9L692.2,265.8L695.2,265.6L698.2,265.5L701.2,265.4L704.2,265.2L707.2,265.1L710.2,265L713.2,264.8L716.2,264.7L719.2,264.6L722.2,264.4L725.2,264.3L728.2,264.2L731.2,264L734.2,263.9L737.2,263.8L740.2,263.7L743.2,263.6L746.2,263.4L749.1,263.3L752.1,263.2L755.1,263.1L758.1,263L761.1,262.9L764.1,262.8L767.1,262.7L770.1,262.6L773.1,262.5L776.1,262.4L779.1,262.3L782.1,262.2L785.1,262.1L788.1,262.1L791.1,262L794.1,261.9L797.1,261.8L800.1,261.8L803.1,261.7L806.1,261.6L809.1,261.6L812.1,261.5L815.1,261.4L818.1,261.4L821.1,261.3L824.1,261.2L827.1,261.2L830.1,261.1L833.1,261.1L836.1,261L839.1,260.9L842.1,260.9L845.1,260.8L848.1,260.7L851.1,260.7L854.1,260.6L857.1,260.5L860.1,260.5L863.1,260.4L866.1,260.3L869.1,260.3L872.1,260.2L875.1,260.1L878.1,260L881.1,259.9L884.1,259.9L887.1,259.8L890.1,259.7L893.1,259.6L896.1,259.5L899.1,259.4L902.1,259.4L905.1,259.3L908.1,259.2L911.1,259.1L914.1,259L917.1,258.9L920.1,258.8L923.1,258.7L926.1,258.6L929.1,258.5L932.1,258.4L935.1,258.3L938.1,258.2L941.1,258.1L944.1,258L947.1,257.9L950.1,257.8L953.1,257.7L956.1,257.6L959.1,257.5L962.1,257.4L965.1,257.3L968.1,257.2L971.1,257.1L974.1,257L977,256.9L980,256.8L983,256.7L986,256.6L989,256.5L992,256.4L995,256.3L998,256.2L1001,256.1L1004,256L1007,255.9L1010,255.8L1013,255.7L1016,255.6L1019,255.5L1022,255.4L1025,255.2L1028,255.1L1031,255L1034,254.9L1037,254.8L1040,254.7L1043,254.6L1046,254.5L1049,254.4L1052,254.3L1055,254.2L1058,254.1L1061,254L1064,254L1067,253.9L1070,253.8L1073,253.7L1076,253.6L1079,253.5L1082,253.4L1085,253.3L1088,253.2L1091,253.1L1094,253L1097,253L1100,252.9L1103,252.8L1106,252.7L1109,252.6L1112,252.5L1115,252.5L1118,252.4L1121,252.3L1124,252.2L1127,252.1L1130,252.1L1133,252L1136,251.9L1139,251.9L1142,251.8L1145,251.7L1148,251.7L1151,251.6L1154,251.5L1157,251.5L1159.9,251.4L1162.9,251.4L1165.9,251.3L1168.9,251.2L1171.9,251.2L1174.9,251.1L1177.9,251.1L1180.9,251L1183.9,251L1186.9,251L1189.9,250.9L1192.9,250.9L1195.9,250.8L1198.9,250.8L1201.9,250.8L1204.9,250.7L1207.9,250.7L1210.9,250.7L1213.9,250.6L1216.9,250.6L1219.9,250.6L1222.9,250.6L1225.9,250.5L1228.9,250.5L1231.9,250.5L1234.9,250.5L1237.9,250.5L1240.9,250.5L1243.9,250.4L1246.9,250.4L1249.9,250.4L1252.9,250.4L1255.9,250.4L1258.9,250.4L1261.9,250.4L1264.9,250.4L1267.9,250.4L1270.9,250.4L1273.9,250.4L1276.9,250.4L1279.9,250.4L1282.9,250.4L1285.9,250.4L1288.9,250.4L1291.9,250.4L1294.9,250.4L1297.9,250.5L1300.9,250.5L1303.9,250.5L1306.9,250.5L1309.9,250.5L1312.9,250.6L1315.9,250.6L1318.9,250.6L1321.9,250.6L1324.9,250.6L1327.9,250.7L1330.9,250.7L1333.9,250.7L1336.9,250.8L1339.9,250.8L1342.9,250.8L1345.9,250.9L1348.9,250.9L1351.9,250.9L1354.9,250.9L1357.9,251L1360.9,251L1363.9,251L1366.9,251L1369.9,251.1L1372.9,251.1L1375.9,251.1L1378.9,251.1L1381.9,251.1L1384.9,251.2L1387.9,251.2L1390.9,251.2L1393.9,251.2L1396.9,251.2L1399.9,251.2L1402.9,251.2L1405.9,251.1L1408.9,251.1L1411.9,251.1L1414.9,251.1L1417.9,251.1L1420.9,251L1423.9,251L1426.9,251L1429.9,250.9L1432.9,250.9L1435.9,250.9L1438.9,250.8L1441.9,250.8L1444.9,250.7L1447.9,250.7L1450.9,250.7L1453.9,250.6L1456.9,250.6L1459.9,250.5L1462.9,250.5L1465.9,250.5L1468.9,250.4L1471.9,250.4L1474.9,250.4L1477.9,250.3L1480.9,250.3L1483.9,250.3L1486.9,250.2L1489.9,250.2L1492.9,250.2L1495.9,250.2L1498.9,250.2L1501.9,250.2L1504.9,250.1L1507.9,250.1L1510.9,250.1L1513.9,250.1L1516.9,250.1L1519.9,250.1L1522.9,250.1L1525.9,250.1L1528.9,250.1L1531.9,250.2L1534.9,250.2L1537.9,250.2L1540.9,250.2L1543.9,250.2L1546.9,250.2L1549.9,250.3L1552.9,250.3L1555.9,250.3L1558.9,250.4L1561.9,250.4L1564.9,250.5L1567.9,250.5L1570.9,250.5L1573.9,250.6L1576.9,250.6L1579.9,250.7L1582.9,250.7L1585.9,250.8L1588.9,250.8L1591.9,250.9L1594.9,250.9L1597.9,251L1600.9,251.1L1603.9,251.1L1606.9,251.2L1609.9,251.2L1612.9,251.3L1615.9,251.3L1618.9,251.4L1621.9,251.4L1624.9,251.5L1627.9,251.5L1630.9,251.6L1633.9,251.6L1636.9,251.7L1639.9,251.7L1642.9,251.8L1645.9,251.8L1648.9,251.9L1651.9,251.9L1654.9,252L1657.9,252L1660.9,252.1L1663.9,252.1L1666.9,252.2L1669.9,252.2L1672.9,252.3L1675.9,252.4L1678.9,252.5L1681.9,252.6L1684.9,252.7L1687.9,252.8L1690.9,252.9L1693.9,253L1696.9,253.2L1699.9,253.3L1702.9,253.5L1705.9,253.7L1708.9,253.9L1711.9,254.1L1714.8,254.3L1717.8,254.6L1720.8,254.8L1723.8,255.1L1726.8,255.4L1729.7,255.7L1732.7,256L1735.7,256.4L1738.7,256.7L1741.6,257.1L1744.6,257.6L1747.5,258L1750.5,258.4L1753.5,258.9L1756.4,259.4L1759.4,260L1762.3,260.5L1765.3,261.1L1768.2,261.7L1771.2,262.4L1774.1,263L1777,263.7L1780,264.4L1782.9,265.2L1785.8,266L1788.8,266.8L1791.7,267.7L1794.6,268.5L1797.5,269.4L1800.4,270.4L1803.3,271.3L1806.2,272.3L1809.1,273.3L1812,274.3L1814.9,275.3L1817.8,276.3L1820.7,277.3L1823.6,278.3L1826.5,279.2L1829.4,280.2L1832.3,281.1L1835.1,282.1L1838,282.9L1840.9,283.8L1843.8,284.6L1846.7,285.4L1849.5,286.1L1852.4,286.8L1855.3,287.5L1858.1,288L1861,288.6L1863.9,289L1866.8,289.4L1869.6,289.7L1872.5,290L1875.4,290.3L1878.2,290.8L1881,291.7L1883.7,292.9L1886.4,294.8L1889,297.3" fill="none" stroke="#ff0000" stroke-width="1.7" stroke-linejoin="round" transform="translate(0,0.35)"/>
<circle cx="241.2" cy="476" r="8.2" fill="#ff0000"/>
<circle cx="316.4" cy="328" r="8.2" fill="#ff0000"/>
<circle cx="393.2" cy="291.3" r="8.2" fill="#ff0000"/>
<circle cx="470.4" cy="279.5" r="8.2" fill="#ff0000"/>
<circle cx="547.3" cy="272.2" r="8.2" fill="#ff0000"/>
<circle cx="624.4" cy="269.1" r="8.2" fill="#ff0000"/>
<circle cx="701.3" cy="264.9" r="8.2" fill="#ff0000"/>
<circle cx="778.9" cy="262.7" r="8.2" fill="#ff0000"/>
<circle cx="856.4" cy="260.3" r="8.2" fill="#ff0000"/>
<circle cx="933.7" cy="258.5" r="8.2" fill="#ff0000"/>
<circle cx="1011.6" cy="255.8" r="8.2" fill="#ff0000"/>
<circle cx="1089.3" cy="253" r="8.2" fill="#ff0000"/>
<circle cx="1166.8" cy="251.2" r="8.2" fill="#ff0000"/>
<circle cx="1245" cy="250.8" r="8.2" fill="#ff0000"/>
<circle cx="1322.6" cy="250.3" r="8.2" fill="#ff0000"/>
<circle cx="1400.9" cy="251.3" r="8.2" fill="#ff0000"/>
<circle cx="1479" cy="250.3" r="8.2" fill="#ff0000"/>
<circle cx="1557.4" cy="250.3" r="8.2" fill="#ff0000"/>
<circle cx="1634.4" cy="251.8" r="8.2" fill="#ff0000"/>
<circle cx="1713.2" cy="254" r="8.2" fill="#ff0000"/>
<circle cx="1791.3" cy="267.7" r="8.2" fill="#ff0000"/>
<circle cx="1869.5" cy="289.6" r="8.2" fill="#ff0000"/>
<path d="M241.2,482.3L241.9,479.4L242.6,476.5L243.4,473.6L244.1,470.7L244.8,467.8L245.5,464.9L246.1,462L246.8,459L247.5,456.1L248.2,453.2L248.8,450.3L249.5,447.3L250.2,444.4L250.8,441.5L251.5,438.6L252.2,435.6L252.9,432.7L253.6,429.8L254.3,426.8L255,423.9L255.7,421L256.4,418.1L257.1,415.2L257.9,412.2L258.6,409.3L259.4,406.4L260.2,403.5L260.9,400.6L261.8,397.7L262.6,394.8L263.4,392L264.3,389.1L265.2,386.2L266.1,383.3L267,380.5L268,377.6L269,374.8L270,372L271,369.1L272.1,366.3L273.2,363.5L274.3,360.7L275.4,357.9L276.6,355.2L277.9,352.4L279.1,349.7L280.5,347.1L281.8,344.4L283.3,341.8L284.8,339.2L286.3,336.7L287.9,334.2L289.6,331.8L291.4,329.4L293.2,327.1L295.1,324.8L297.1,322.6L299.1,320.5L301.3,318.4L303.4,316.4L305.7,314.4L308,312.4L310.2,310.5L312.6,308.5L314.9,306.6L317.2,304.6L319.4,302.6L321.7,300.7L324,298.7L326.2,296.7L328.5,294.7L330.7,292.7L333,290.7L335.3,288.8L337.6,286.9L339.9,285L342.3,283.2L344.7,281.4L347.1,279.7L349.6,278L352.1,276.4L354.6,274.8L357.2,273.3L359.8,271.8L362.4,270.4L365,269.1L367.7,267.8L370.4,266.6L373.2,265.4L375.9,264.2L378.7,263.1L381.4,262L384.2,261L387,260L389.8,259.1L392.7,258.2L395.5,257.4L398.4,256.5L401.2,255.7L404.1,255L407,254.3L409.9,253.6L412.8,252.9L415.7,252.3L418.7,251.7L421.6,251.1L424.6,250.6L427.5,250.1L430.5,249.6L433.4,249.1L436.4,248.6L439.4,248.2L442.4,247.7L445.4,247.3L448.3,246.9L451.3,246.5L454.3,246.1L457.3,245.7L460.3,245.4L463.3,245L466.3,244.7L469.3,244.3L472.3,244L475.3,243.6L478.3,243.3L481.3,242.9L484.3,242.6L487.3,242.3L490.3,241.9L493.3,241.6L496.3,241.2L499.3,240.9L502.3,240.6L505.3,240.3L508.2,239.9L511.2,239.6L514.2,239.3L517.2,239L520.2,238.7L523.2,238.4L526.2,238.1L529.2,237.7L532.1,237.4L535.1,237.2L538.1,236.9L541.1,236.6L544.1,236.3L547.1,236L550,235.7L553,235.4L556,235.2L559,234.9L562,234.6L565,234.4L567.9,234.1L570.9,233.8L573.9,233.6L576.9,233.3L579.9,233.1L582.9,232.9L585.9,232.6L588.8,232.4L591.8,232.2L594.8,231.9L597.8,231.7L600.8,231.5L603.8,231.3L606.7,231.1L609.7,230.9L612.7,230.7L615.7,230.5L618.7,230.3L621.7,230.2L624.7,230L627.7,229.8L630.7,229.7L633.6,229.5L636.6,229.3L639.6,229.2L642.6,229.1L645.6,228.9L648.6,228.8L651.6,228.7L654.6,228.5L657.6,228.4L660.6,228.3L663.6,228.2L666.6,228.1L669.6,228L672.6,227.9L675.6,227.8L678.6,227.7L681.6,227.6L684.6,227.5L687.6,227.4L690.6,227.3L693.6,227.2L696.5,227.1L699.5,227.1L702.5,227L705.5,226.9L708.5,226.9L711.5,226.8L714.5,226.7L717.5,226.7L720.5,226.6L723.6,226.5L726.6,226.5L729.6,226.4L732.6,226.4L735.6,226.3L738.6,226.3L741.6,226.2L744.6,226.2L747.6,226.1L750.6,226.1L753.6,226L756.6,226L759.6,225.9L762.6,225.9L765.6,225.8L768.6,225.8L771.6,225.7L774.6,225.7L777.6,225.7L780.6,225.6L783.6,225.6L786.6,225.5L789.6,225.5L792.6,225.4L795.6,225.4L798.6,225.3L801.6,225.3L804.6,225.2L807.6,225.2L810.6,225.1L813.6,225.1L816.6,225L819.6,224.9L822.6,224.9L825.6,224.8L828.6,224.7L831.6,224.7L834.6,224.6L837.6,224.5L840.6,224.5L843.6,224.4L846.6,224.3L849.6,224.2L852.6,224.1L855.6,224L858.6,224L861.6,223.9L864.6,223.8L867.6,223.7L870.6,223.6L873.5,223.5L876.5,223.4L879.5,223.3L882.5,223.1L885.5,223L888.5,222.9L891.5,222.8L894.5,222.7L897.5,222.6L900.5,222.5L903.5,222.4L906.5,222.3L909.5,222.2L912.5,222.1L915.5,222L918.5,221.9L921.5,221.8L924.4,221.7L927.4,221.6L930.4,221.6L933.4,221.5L936.4,221.4L939.4,221.3L942.4,221.3L945.4,221.2L948.4,221.2L951.4,221.1L954.4,221.1L957.4,221L960.4,221L963.4,220.9L966.4,220.9L969.4,220.9L972.4,220.8L975.4,220.8L978.4,220.8L981.4,220.8L984.4,220.7L987.4,220.7L990.4,220.7L993.4,220.7L996.4,220.7L999.4,220.6L1002.4,220.6L1005.4,220.6L1008.4,220.6L1011.4,220.6L1014.4,220.6L1017.4,220.6L1020.4,220.6L1023.4,220.6L1026.4,220.6L1029.4,220.5L1032.4,220.5L1035.4,220.5L1038.4,220.5L1041.4,220.5L1044.4,220.4L1047.4,220.4L1050.4,220.4L1053.4,220.3L1056.4,220.3L1059.4,220.2L1062.4,220.2L1065.4,220.1L1068.4,220L1071.4,220L1074.4,219.9L1077.4,219.8L1080.4,219.7L1083.4,219.6L1086.4,219.4L1089.4,219.3L1092.4,219.2L1095.4,219L1098.4,218.8L1101.4,218.7L1104.4,218.5L1107.4,218.3L1110.3,218.1L1113.3,217.9L1116.3,217.7L1119.3,217.5L1122.3,217.3L1125.3,217.1L1128.3,216.8L1131.3,216.6L1134.3,216.4L1137.3,216.2L1140.3,216L1143.2,215.8L1146.2,215.6L1149.2,215.3L1152.2,215.1L1155.2,214.9L1158.2,214.8L1161.2,214.6L1164.2,214.4L1167.2,214.2L1170.2,214.1L1173.2,213.9L1176.2,213.8L1179.2,213.6L1182.2,213.5L1185.2,213.4L1188.2,213.3L1191.2,213.2L1194.2,213.1L1197.2,213L1200.2,212.9L1203.2,212.8L1206.2,212.8L1209.1,212.7L1212.1,212.7L1215.1,212.6L1218.1,212.6L1221.1,212.6L1224.1,212.6L1227.1,212.6L1230.1,212.6L1233.2,212.6L1236.2,212.6L1239.2,212.6L1242.2,212.6L1245.2,212.7L1248.2,212.7L1251.2,212.8L1254.2,212.8L1257.2,212.9L1260.2,213L1263.2,213L1266.2,213.1L1269.2,213.2L1272.2,213.3L1275.2,213.4L1278.1,213.5L1281.1,213.7L1284.1,213.8L1287.1,213.9L1290.1,214.1L1293.1,214.2L1296.1,214.4L1299.1,214.5L1302.1,214.7L1305.1,214.8L1308.1,215L1311.1,215.2L1314.1,215.4L1317.1,215.6L1320.1,215.8L1323.1,216L1326.1,216.2L1329.1,216.4L1332.1,216.6L1335,216.8L1338,217.1L1341,217.3L1344,217.5L1347,217.8L1350,218L1353,218.3L1356,218.5L1359,218.7L1361.9,219L1364.9,219.2L1367.9,219.5L1370.9,219.7L1373.9,219.9L1376.9,220.2L1379.9,220.4L1382.9,220.7L1385.8,220.9L1388.8,221.1L1391.8,221.3L1394.8,221.6L1397.8,221.8L1400.8,222L1403.8,222.2L1406.8,222.4L1409.8,222.6L1412.8,222.8L1415.8,223L1418.8,223.1L1421.7,223.3L1424.7,223.5L1427.7,223.6L1430.7,223.8L1433.7,224L1436.7,224.1L1439.7,224.3L1442.7,224.4L1445.7,224.5L1448.7,224.7L1451.7,224.8L1454.7,224.9L1457.7,225L1460.7,225.1L1463.7,225.2L1466.7,225.3L1469.7,225.4L1472.7,225.5L1475.7,225.6L1478.7,225.7L1481.7,225.8L1484.7,225.9L1487.7,226L1490.7,226L1493.7,226.1L1496.7,226.2L1499.7,226.2L1502.7,226.3L1505.7,226.3L1508.7,226.4L1511.7,226.4L1514.7,226.5L1517.7,226.5L1520.7,226.5L1523.7,226.6L1526.7,226.6L1529.7,226.6L1532.7,226.6L1535.7,226.6L1538.7,226.6L1541.7,226.6L1544.7,226.6L1547.7,226.6L1550.7,226.6L1553.7,226.6L1556.7,226.6L1559.7,226.6L1562.7,226.6L1565.7,226.5L1568.7,226.5L1571.6,226.5L1574.6,226.4L1577.6,226.4L1580.6,226.3L1583.6,226.3L1586.6,226.3L1589.6,226.2L1592.6,226.2L1595.6,226.1L1598.6,226.1L1601.6,226L1604.6,226L1607.6,226L1610.6,225.9L1613.6,225.9L1616.6,225.9L1619.6,225.9L1622.6,225.8L1625.6,225.8L1628.6,225.8L1631.6,225.8L1634.6,225.8L1637.6,225.8L1640.6,225.8L1643.6,225.8L1646.6,225.9L1649.6,225.9L1652.7,225.9L1655.7,226L1658.7,226.1L1661.7,226.1L1664.7,226.2L1667.7,226.3L1670.7,226.4L1673.7,226.5L1676.7,226.6L1679.7,226.8L1682.7,226.9L1685.6,227.1L1688.6,227.3L1691.6,227.5L1694.6,227.7L1697.6,227.9L1700.6,228.2L1703.6,228.4L1706.6,228.7L1709.6,229L1712.5,229.3L1715.5,229.7L1718.5,230L1721.5,230.4L1724.4,230.8L1727.4,231.2L1730.4,231.6L1733.3,232L1736.3,232.5L1739.2,232.9L1742.2,233.4L1745.2,233.9L1748.1,234.4L1751.1,235L1754,235.5L1757,236L1759.9,236.6L1762.9,237.2L1765.8,237.7L1768.8,238.3L1771.7,238.9L1774.6,239.5L1777.6,240.1L1780.5,240.8L1783.5,241.4L1786.4,242L1789.3,242.7L1792.3,243.3L1795.2,244L1798.2,244.6L1801.1,245.3L1804,246L1807,246.7L1809.9,247.4L1812.8,248.1L1815.7,248.8L1818.7,249.5L1821.6,250.3L1824.5,251L1827.4,251.8L1830.3,252.6L1833.2,253.4L1836.1,254.3L1838.9,255.1L1841.8,256L1844.7,256.9L1847.5,257.8L1850.4,258.8L1853.2,259.7L1856,260.7L1858.8,261.7L1861.6,262.8L1864.4,263.9L1867.2,265L1870,266.1L1872.7,267.3L1875.5,268.5L1878.2,269.7L1880.9,271L1883.6,272.3L1886.3,273.6L1889,275" fill="none" stroke="#0000ff" stroke-width="1.7" stroke-linejoin="round" transform="translate(0,-0.35)"/>
<path d="M241.2,482.3L241.9,479.4L242.6,476.5L243.4,473.6L244.1,470.7L244.8,467.8L245.5,464.9L246.1,462L246.8,459L247.5,456.1L248.2,453.2L248.8,450.3L249.5,447.3L250.2,444.4L250.8,441.5L251.5,438.6L252.2,435.6L252.9,432.7L253.6,429.8L254.3,426.8L255,423.9L255.7,421L256.4,418.1L257.1,415.2L257.9,412.2L258.6,409.3L259.4,406.4L260.2,403.5L260.9,400.6L261.8,397.7L262.6,394.8L263.4,392L264.3,389.1L265.2,386.2L266.1,383.3L267,380.5L268,377.6L269,374.8L270,372L271,369.1L272.1,366.3L273.2,363.5L274.3,360.7L275.4,357.9L276.6,355.2L277.9,352.4L279.1,349.7L280.5,347.1L281.8,344.4L283.3,341.8L284.8,339.2L286.3,336.7L287.9,334.2L289.6,331.8L291.4,329.4L293.2,327.1L295.1,324.8L297.1,322.6L299.1,320.5L301.3,318.4L303.4,316.4L305.7,314.4L308,312.4L310.2,310.5L312.6,308.5L314.9,306.6L317.2,304.6L319.4,302.6L321.7,300.7L324,298.7L326.2,296.7L328.5,294.7L330.7,292.7L333,290.7L335.3,288.8L337.6,286.9L339.9,285L342.3,283.2L344.7,281.4L347.1,279.7L349.6,278L352.1,276.4L354.6,274.8L357.2,273.3L359.8,271.8L362.4,270.4L365,269.1L367.7,267.8L370.4,266.6L373.2,265.4L375.9,264.2L378.7,263.1L381.4,262L384.2,261L387,260L389.8,259.1L392.7,258.2L395.5,257.4L398.4,256.5L401.2,255.7L404.1,255L407,254.3L409.9,253.6L412.8,252.9L415.7,252.3L418.7,251.7L421.6,251.1L424.6,250.6L427.5,250.1L430.5,249.6L433.4,249.1L436.4,248.6L439.4,248.2L442.4,247.7L445.4,247.3L448.3,246.9L451.3,246.5L454.3,246.1L457.3,245.7L460.3,245.4L463.3,245L466.3,244.7L469.3,244.3L472.3,244L475.3,243.6L478.3,243.3L481.3,242.9L484.3,242.6L487.3,242.3L490.3,241.9L493.3,241.6L496.3,241.2L499.3,240.9L502.3,240.6L505.3,240.3L508.2,239.9L511.2,239.6L514.2,239.3L517.2,239L520.2,238.7L523.2,238.4L526.2,238.1L529.2,237.7L532.1,237.4L535.1,237.2L538.1,236.9L541.1,236.6L544.1,236.3L547.1,236L550,235.7L553,235.4L556,235.2L559,234.9L562,234.6L565,234.4L567.9,234.1L570.9,233.8L573.9,233.6L576.9,233.3L579.9,233.1L582.9,232.9L585.9,232.6L588.8,232.4L591.8,232.2L594.8,231.9L597.8,231.7L600.8,231.5L603.8,231.3L606.7,231.1L609.7,230.9L612.7,230.7L615.7,230.5L618.7,230.3L621.7,230.2L624.7,230L627.7,229.8L630.7,229.7L633.6,229.5L636.6,229.3L639.6,229.2L642.6,229.1L645.6,228.9L648.6,228.8L651.6,228.7L654.6,228.5L657.6,228.4L660.6,228.3L663.6,228.2L666.6,228.1L669.6,228L672.6,227.9L675.6,227.8L678.6,227.7L681.6,227.6L684.6,227.5L687.6,227.4L690.6,227.3L693.6,227.2L696.5,227.1L699.5,227.1L702.5,227L705.5,226.9L708.5,226.9L711.5,226.8L714.5,226.7L717.5,226.7L720.5,226.6L723.6,226.5L726.6,226.5L729.6,226.4L732.6,226.4L735.6,226.3L738.6,226.3L741.6,226.2L744.6,226.2L747.6,226.1L750.6,226.1L753.6,226L756.6,226L759.6,225.9L762.6,225.9L765.6,225.8L768.6,225.8L771.6,225.7L774.6,225.7L777.6,225.7L780.6,225.6L783.6,225.6L786.6,225.5L789.6,225.5L792.6,225.4L795.6,225.4L798.6,225.3L801.6,225.3L804.6,225.2L807.6,225.2L810.6,225.1L813.6,225.1L816.6,225L819.6,224.9L822.6,224.9L825.6,224.8L828.6,224.7L831.6,224.7L834.6,224.6L837.6,224.5L840.6,224.5L843.6,224.4L846.6,224.3L849.6,224.2L852.6,224.1L855.6,224L858.6,224L861.6,223.9L864.6,223.8L867.6,223.7L870.6,223.6L873.5,223.5L876.5,223.4L879.5,223.3L882.5,223.1L885.5,223L888.5,222.9L891.5,222.8L894.5,222.7L897.5,222.6L900.5,222.5L903.5,222.4L906.5,222.3L909.5,222.2L912.5,222.1L915.5,222L918.5,221.9L921.5,221.8L924.4,221.7L927.4,221.6L930.4,221.6L933.4,221.5L936.4,221.4L939.4,221.3L942.4,221.3L945.4,221.2L948.4,221.2L951.4,221.1L954.4,221.1L957.4,221L960.4,221L963.4,220.9L966.4,220.9L969.4,220.9L972.4,220.8L975.4,220.8L978.4,220.8L981.4,220.8L984.4,220.7L987.4,220.7L990.4,220.7L993.4,220.7L996.4,220.7L999.4,220.6L1002.4,220.6L1005.4,220.6L1008.4,220.6L1011.4,220.6L1014.4,220.6L1017.4,220.6L1020.4,220.6L1023.4,220.6L1026.4,220.6L1029.4,220.5L1032.4,220.5L1035.4,220.5L1038.4,220.5L1041.4,220.5L1044.4,220.4L1047.4,220.4L1050.4,220.4L1053.4,220.3L1056.4,220.3L1059.4,220.2L1062.4,220.2L1065.4,220.1L1068.4,220L1071.4,220L1074.4,219.9L1077.4,219.8L1080.4,219.7L1083.4,219.6L1086.4,219.4L1089.4,219.3L1092.4,219.2L1095.4,219L1098.4,218.8L1101.4,218.7L1104.4,218.5L1107.4,218.3L1110.3,218.1L1113.3,217.9L1116.3,217.7L1119.3,217.5L1122.3,217.3L1125.3,217.1L1128.3,216.8L1131.3,216.6L1134.3,216.4L1137.3,216.2L1140.3,216L1143.2,215.8L1146.2,215.6L1149.2,215.3L1152.2,215.1L1155.2,214.9L1158.2,214.8L1161.2,214.6L1164.2,214.4L1167.2,214.2L1170.2,214.1L1173.2,213.9L1176.2,213.8L1179.2,213.6L1182.2,213.5L1185.2,213.4L1188.2,213.3L1191.2,213.2L1194.2,213.1L1197.2,213L1200.2,212.9L1203.2,212.8L1206.2,212.8L1209.1,212.7L1212.1,212.7L1215.1,212.6L1218.1,212.6L1221.1,212.6L1224.1,212.6L1227.1,212.6L1230.1,212.6L1233.2,212.6L1236.2,212.6L1239.2,212.6L1242.2,212.6L1245.2,212.7L1248.2,212.7L1251.2,212.8L1254.2,212.8L1257.2,212.9L1260.2,213L1263.2,213L1266.2,213.1L1269.2,213.2L1272.2,213.3L1275.2,213.4L1278.1,213.5L1281.1,213.7L1284.1,213.8L1287.1,213.9L1290.1,214.1L1293.1,214.2L1296.1,214.4L1299.1,214.5L1302.1,214.7L1305.1,214.8L1308.1,215L1311.1,215.2L1314.1,215.4L1317.1,215.6L1320.1,215.8L1323.1,216L1326.1,216.2L1329.1,216.4L1332.1,216.6L1335,216.8L1338,217.1L1341,217.3L1344,217.5L1347,217.8L1350,218L1353,218.3L1356,218.5L1359,218.7L1361.9,219L1364.9,219.2L1367.9,219.5L1370.9,219.7L1373.9,219.9L1376.9,220.2L1379.9,220.4L1382.9,220.7L1385.8,220.9L1388.8,221.1L1391.8,221.3L1394.8,221.6L1397.8,221.8L1400.8,222L1403.8,222.2L1406.8,222.4L1409.8,222.6L1412.8,222.8L1415.8,223L1418.8,223.1L1421.7,223.3L1424.7,223.5L1427.7,223.6L1430.7,223.8L1433.7,224L1436.7,224.1L1439.7,224.3L1442.7,224.4L1445.7,224.5L1448.7,224.7L1451.7,224.8L1454.7,224.9L1457.7,225L1460.7,225.1L1463.7,225.2L1466.7,225.3L1469.7,225.4L1472.7,225.5L1475.7,225.6L1478.7,225.7L1481.7,225.8L1484.7,225.9L1487.7,226L1490.7,226L1493.7,226.1L1496.7,226.2L1499.7,226.2L1502.7,226.3L1505.7,226.3L1508.7,226.4L1511.7,226.4L1514.7,226.5L1517.7,226.5L1520.7,226.5L1523.7,226.6L1526.7,226.6L1529.7,226.6L1532.7,226.6L1535.7,226.6L1538.7,226.6L1541.7,226.6L1544.7,226.6L1547.7,226.6L1550.7,226.6L1553.7,226.6L1556.7,226.6L1559.7,226.6L1562.7,226.6L1565.7,226.5L1568.7,226.5L1571.6,226.5L1574.6,226.4L1577.6,226.4L1580.6,226.3L1583.6,226.3L1586.6,226.3L1589.6,226.2L1592.6,226.2L1595.6,226.1L1598.6,226.1L1601.6,226L1604.6,226L1607.6,226L1610.6,225.9L1613.6,225.9L1616.6,225.9L1619.6,225.9L1622.6,225.8L1625.6,225.8L1628.6,225.8L1631.6,225.8L1634.6,225.8L1637.6,225.8L1640.6,225.8L1643.6,225.8L1646.6,225.9L1649.6,225.9L1652.7,225.9L1655.7,226L1658.7,226.1L1661.7,226.1L1664.7,226.2L1667.7,226.3L1670.7,226.4L1673.7,226.5L1676.7,226.6L1679.7,226.8L1682.7,226.9L1685.6,227.1L1688.6,227.3L1691.6,227.5L1694.6,227.7L1697.6,227.9L1700.6,228.2L1703.6,228.4L1706.6,228.7L1709.6,229L1712.5,229.3L1715.5,229.7L1718.5,230L1721.5,230.4L1724.4,230.8L1727.4,231.2L1730.4,231.6L1733.3,232L1736.3,232.5L1739.2,232.9L1742.2,233.4L1745.2,233.9L1748.1,234.4L1751.1,235L1754,235.5L1757,236L1759.9,236.6L1762.9,237.2L1765.8,237.7L1768.8,238.3L1771.7,238.9L1774.6,239.5L1777.6,240.1L1780.5,240.8L1783.5,241.4L1786.4,242L1789.3,242.7L1792.3,243.3L1795.2,244L1798.2,244.6L1801.1,245.3L1804,246L1807,246.7L1809.9,247.4L1812.8,248.1L1815.7,248.8L1818.7,249.5L1821.6,250.3L1824.5,251L1827.4,251.8L1830.3,252.6L1833.2,253.4L1836.1,254.3L1838.9,255.1L1841.8,256L1844.7,256.9L1847.5,257.8L1850.4,258.8L1853.2,259.7L1856,260.7L1858.8,261.7L1861.6,262.8L1864.4,263.9L1867.2,265L1870,266.1L1872.7,267.3L1875.5,268.5L1878.2,269.7L1880.9,271L1883.6,272.3L1886.3,273.6L1889,275" fill="none" stroke="#0000ff" stroke-width="1.7" stroke-linejoin="round" transform="translate(0,0.35)"/>
<polygon points="241.2,471 250.8,488 231.6,488" fill="#0000ff"/>
<polygon points="316.4,294.2 326,311.2 306.8,311.2" fill="#0000ff"/>
<polygon points="393.2,246.7 402.8,263.7 383.6,263.7" fill="#0000ff"/>
<polygon points="470.4,233.2 480,250.2 460.8,250.2" fill="#0000ff"/>
<polygon points="547.3,224.2 556.9,241.2 537.7,241.2" fill="#0000ff"/>
<polygon points="624.4,219.1 634,236.1 614.8,236.1" fill="#0000ff"/>
<polygon points="701.3,215.6 710.9,232.6 691.7,232.6" fill="#0000ff"/>
<polygon points="778.9,214.2 788.5,231.2 769.3,231.2" fill="#0000ff"/>
<polygon points="856.4,212.9 866,229.9 846.8,229.9" fill="#0000ff"/>
<polygon points="933.7,210.1 943.3,227.1 924.1,227.1" fill="#0000ff"/>
<polygon points="1011.6,209.3 1021.2,226.3 1002,226.3" fill="#0000ff"/>
<polygon points="1089.3,208.1 1098.9,225.1 1079.7,225.1" fill="#0000ff"/>
<polygon points="1166.8,202.7 1176.4,219.7 1157.2,219.7" fill="#0000ff"/>
<polygon points="1245,201.7 1254.6,218.7 1235.4,218.7" fill="#0000ff"/>
<polygon points="1322.6,204.4 1332.2,221.4 1313,221.4" fill="#0000ff"/>
<polygon points="1400.9,210.8 1410.5,227.8 1391.3,227.8" fill="#0000ff"/>
<polygon points="1479,214.4 1488.6,231.4 1469.4,231.4" fill="#0000ff"/>
<polygon points="1557.4,215.3 1567,232.3 1547.8,232.3" fill="#0000ff"/>
<polygon points="1634.4,214.5 1644,231.5 1624.8,231.5" fill="#0000ff"/>
<polygon points="1713.2,218.1 1722.8,235.1 1703.6,235.1" fill="#0000ff"/>
<polygon points="1791.3,231.8 1800.9,248.8 1781.7,248.8" fill="#0000ff"/>
<polygon points="1869.5,254.6 1879.1,271.6 1859.9,271.6" fill="#0000ff"/>
<path d="M241.2,483L241.8,480.1L242.4,477.2L242.9,474.3L243.5,471.3L244.1,468.4L244.7,465.5L245.3,462.6L245.9,459.6L246.4,456.7L247,453.8L247.6,450.8L248.2,447.9L248.7,444.9L249.3,442L249.9,439L250.5,436.1L251.1,433.1L251.7,430.2L252.3,427.2L252.9,424.2L253.5,421.3L254.2,418.3L254.8,415.4L255.5,412.5L256.2,409.5L256.8,406.6L257.5,403.6L258.2,400.7L259,397.8L259.7,394.9L260.5,391.9L261.2,389L262,386.1L262.8,383.2L263.7,380.3L264.5,377.5L265.4,374.6L266.3,371.7L267.2,368.8L268.2,366L269.1,363.2L270.1,360.3L271.2,357.5L272.2,354.7L273.3,351.9L274.4,349.1L275.5,346.3L276.7,343.6L277.9,340.9L279.1,338.1L280.4,335.4L281.7,332.8L283,330.1L284.4,327.4L285.8,324.8L287.3,322.2L288.8,319.7L290.3,317.1L291.9,314.6L293.5,312.1L295.2,309.6L296.9,307.2L298.6,304.8L300.4,302.4L302.2,300L304,297.7L305.9,295.4L307.9,293.2L309.9,290.9L311.9,288.7L313.9,286.6L316,284.4L318.1,282.3L320.3,280.3L322.5,278.2L324.7,276.2L327,274.2L329.3,272.3L331.6,270.4L333.9,268.5L336.3,266.7L338.7,264.9L341.2,263.1L343.6,261.4L346.1,259.7L348.6,258L351.1,256.4L353.7,254.8L356.3,253.3L358.9,251.8L361.5,250.3L364.1,248.9L366.7,247.5L369.4,246.1L372.1,244.8L374.8,243.5L377.5,242.2L380.2,241L383,239.8L385.7,238.6L388.5,237.5L391.3,236.4L394.1,235.3L396.9,234.3L399.7,233.3L402.6,232.4L405.4,231.4L408.3,230.5L411.1,229.6L414,228.8L416.9,228L419.8,227.2L422.7,226.4L425.6,225.7L428.6,225L431.5,224.3L434.4,223.6L437.4,223L440.3,222.4L443.3,221.8L446.2,221.2L449.2,220.7L452.2,220.2L455.1,219.7L458.1,219.2L461.1,218.8L464.1,218.4L467.1,218L470,217.6L473,217.2L476,216.9L479,216.5L482,216.2L485,215.9L488,215.7L490.9,215.4L493.9,215.1L496.9,214.9L499.9,214.7L502.9,214.5L505.9,214.3L508.9,214.1L511.9,213.9L514.9,213.7L517.9,213.5L520.9,213.4L523.9,213.2L526.9,213L529.9,212.9L532.8,212.7L535.8,212.6L538.8,212.4L541.8,212.3L544.8,212.1L547.8,212L550.8,211.8L553.8,211.6L556.8,211.5L559.8,211.3L562.8,211.1L565.8,211L568.8,210.8L571.8,210.6L574.8,210.4L577.8,210.3L580.8,210.1L583.8,209.9L586.8,209.7L589.8,209.6L592.7,209.4L595.7,209.2L598.7,209.1L601.7,208.9L604.7,208.7L607.7,208.6L610.7,208.4L613.7,208.2L616.7,208.1L619.7,207.9L622.7,207.8L625.7,207.7L628.7,207.5L631.7,207.4L634.7,207.3L637.7,207.2L640.7,207L643.7,206.9L646.7,206.8L649.7,206.7L652.7,206.6L655.7,206.5L658.7,206.4L661.7,206.3L664.7,206.3L667.7,206.2L670.7,206.1L673.7,206L676.7,206L679.7,205.9L682.7,205.8L685.7,205.8L688.7,205.7L691.6,205.7L694.6,205.6L697.6,205.6L700.6,205.5L703.6,205.5L706.6,205.4L709.6,205.4L712.6,205.4L715.6,205.3L718.6,205.3L721.6,205.3L724.6,205.3L727.6,205.2L730.6,205.2L733.6,205.2L736.6,205.2L739.6,205.2L742.6,205.2L745.6,205.2L748.6,205.2L751.6,205.1L754.6,205.1L757.6,205.1L760.6,205.1L763.6,205.1L766.6,205.1L769.6,205.1L772.6,205.1L775.6,205.2L778.6,205.2L781.6,205.2L784.6,205.2L787.6,205.2L790.6,205.2L793.6,205.2L796.6,205.2L799.6,205.2L802.6,205.2L805.6,205.2L808.6,205.3L811.6,205.3L814.6,205.3L817.6,205.3L820.6,205.3L823.6,205.3L826.6,205.3L829.6,205.3L832.6,205.3L835.6,205.4L838.6,205.4L841.6,205.4L844.6,205.4L847.6,205.4L850.6,205.4L853.6,205.4L856.6,205.4L859.6,205.4L862.6,205.4L865.6,205.4L868.6,205.4L871.6,205.4L874.6,205.4L877.6,205.4L880.6,205.4L883.6,205.4L886.6,205.4L889.6,205.4L892.6,205.4L895.6,205.4L898.6,205.4L901.6,205.4L904.6,205.4L907.6,205.4L910.6,205.3L913.6,205.3L916.6,205.3L919.6,205.3L922.6,205.3L925.6,205.3L928.6,205.3L931.6,205.3L934.6,205.2L937.6,205.2L940.6,205.2L943.6,205.2L946.6,205.2L949.6,205.2L952.6,205.2L955.6,205.1L958.6,205.1L961.6,205.1L964.6,205.1L967.6,205.1L970.6,205.1L973.6,205.1L976.6,205L979.6,205L982.6,205L985.6,205L988.6,205L991.6,205L994.6,205L997.6,204.9L1000.6,204.9L1003.6,204.9L1006.6,204.9L1009.6,204.9L1012.6,204.9L1015.6,204.9L1018.6,204.9L1021.6,204.8L1024.6,204.8L1027.6,204.8L1030.6,204.8L1033.6,204.8L1036.6,204.7L1039.6,204.7L1042.6,204.7L1045.6,204.6L1048.6,204.6L1051.6,204.5L1054.6,204.4L1057.6,204.4L1060.6,204.3L1063.6,204.2L1066.6,204.1L1069.6,204L1072.6,203.8L1075.6,203.7L1078.6,203.5L1081.6,203.4L1084.5,203.2L1087.5,203L1090.5,202.8L1093.5,202.6L1096.5,202.3L1099.5,202.1L1102.5,201.8L1105.5,201.5L1108.5,201.2L1111.5,200.9L1114.5,200.6L1117.4,200.3L1120.4,200L1123.4,199.7L1126.4,199.4L1129.4,199.1L1132.4,198.7L1135.4,198.4L1138.4,198.1L1141.4,197.8L1144.3,197.5L1147.3,197.2L1150.3,196.9L1153.3,196.6L1156.3,196.3L1159.3,196L1162.3,195.8L1165.3,195.5L1168.3,195.3L1171.3,195.1L1174.2,194.9L1177.2,194.7L1180.2,194.5L1183.2,194.4L1186.2,194.2L1189.2,194.1L1192.2,194L1195.2,193.9L1198.2,193.8L1201.2,193.7L1204.2,193.7L1207.2,193.6L1210.2,193.6L1213.2,193.6L1216.2,193.6L1219.2,193.6L1222.2,193.6L1225.2,193.6L1228.1,193.7L1231.1,193.7L1234.1,193.8L1237.1,193.9L1240.1,194L1243.1,194.1L1246.1,194.2L1249.1,194.3L1252.1,194.4L1255.1,194.6L1258.1,194.8L1261.1,194.9L1264.1,195.1L1267.1,195.3L1270.1,195.5L1273,195.7L1276,196L1279,196.2L1282,196.5L1285,196.7L1288,197L1291,197.3L1294,197.6L1297,197.9L1299.9,198.2L1302.9,198.5L1305.9,198.8L1308.9,199.2L1311.9,199.5L1314.9,199.9L1317.8,200.3L1320.8,200.6L1323.8,201L1326.8,201.4L1329.8,201.8L1332.7,202.3L1335.7,202.7L1338.7,203.1L1341.7,203.5L1344.6,204L1347.6,204.4L1350.6,204.9L1353.5,205.3L1356.5,205.8L1359.5,206.2L1362.5,206.7L1365.4,207.1L1368.4,207.6L1371.4,208.1L1374.3,208.5L1377.3,209L1380.3,209.5L1383.2,209.9L1386.2,210.4L1389.2,210.8L1392.1,211.3L1395.1,211.7L1398.1,212.2L1401.1,212.6L1404,213L1407,213.5L1410,213.9L1412.9,214.3L1415.9,214.7L1418.9,215.1L1421.9,215.5L1424.8,215.8L1427.8,216.2L1430.8,216.6L1433.8,216.9L1436.7,217.2L1439.7,217.6L1442.7,217.9L1445.7,218.2L1448.6,218.4L1451.6,218.7L1454.6,219L1457.6,219.2L1460.6,219.4L1463.6,219.6L1466.5,219.8L1469.5,220L1472.5,220.1L1475.5,220.2L1478.5,220.4L1481.5,220.4L1484.5,220.5L1487.5,220.6L1490.5,220.6L1493.5,220.6L1496.5,220.6L1499.5,220.6L1502.5,220.6L1505.5,220.6L1508.5,220.6L1511.5,220.5L1514.5,220.5L1517.5,220.4L1520.5,220.3L1523.5,220.3L1526.5,220.2L1529.5,220.1L1532.5,220.1L1535.5,220L1538.5,220L1541.5,219.9L1544.5,219.9L1547.5,219.8L1550.6,219.8L1553.6,219.8L1556.6,219.8L1559.6,219.8L1562.6,219.8L1565.6,219.8L1568.6,219.8L1571.6,219.9L1574.6,219.9L1577.6,220L1580.6,220L1583.6,220.1L1586.6,220.2L1589.5,220.2L1592.5,220.3L1595.5,220.4L1598.5,220.5L1601.5,220.5L1604.5,220.6L1607.5,220.7L1610.5,220.7L1613.5,220.8L1616.5,220.8L1619.5,220.9L1622.5,220.9L1625.5,220.9L1628.5,220.9L1631.5,220.9L1634.5,220.9L1637.5,220.9L1640.5,220.8L1643.5,220.8L1646.5,220.7L1649.5,220.6L1652.5,220.6L1655.5,220.5L1658.6,220.4L1661.6,220.3L1664.6,220.2L1667.6,220.2L1670.6,220.1L1673.6,220L1676.6,220L1679.6,219.9L1682.6,219.9L1685.6,219.8L1688.6,219.8L1691.6,219.9L1694.5,219.9L1697.5,219.9L1700.5,220L1703.5,220.1L1706.5,220.2L1709.5,220.4L1712.5,220.5L1715.5,220.7L1718.4,221L1721.4,221.2L1724.4,221.5L1727.4,221.8L1730.3,222.2L1733.3,222.6L1736.3,223L1739.2,223.4L1742.2,223.8L1745.2,224.3L1748.1,224.8L1751.1,225.3L1754,225.8L1757,226.4L1759.9,226.9L1762.9,227.5L1765.8,228.1L1768.8,228.7L1771.7,229.4L1774.7,230L1777.6,230.6L1780.5,231.3L1783.5,232L1786.4,232.7L1789.4,233.3L1792.3,234L1795.2,234.8L1798.2,235.5L1801.1,236.2L1804,236.9L1806.9,237.7L1809.9,238.4L1812.8,239.2L1815.7,239.9L1818.6,240.7L1821.5,241.5L1824.4,242.3L1827.3,243.1L1830.2,243.9L1833.1,244.8L1836,245.6L1838.8,246.5L1841.7,247.4L1844.6,248.3L1847.4,249.2L1850.3,250.1L1853.1,251.1L1855.9,252.1L1858.8,253L1861.6,254L1864.4,255L1867.2,256.1L1870,257.1L1872.7,258.2L1875.5,259.3L1878.2,260.4L1881,261.6L1883.7,262.7L1886.4,263.9L1889.1,265.1" fill="none" stroke="#ff00ff" stroke-width="1.7" stroke-linejoin="round" transform="translate(0,-0.35)"/>
<path d="M241.2,483L241.8,480.1L242.4,477.2L242.9,474.3L243.5,471.3L244.1,468.4L244.7,465.5L245.3,462.6L245.9,459.6L246.4,456.7L247,453.8L247.6,450.8L248.2,447.9L248.7,444.9L249.3,442L249.9,439L250.5,436.1L251.1,433.1L251.7,430.2L252.3,427.2L252.9,424.2L253.5,421.3L254.2,418.3L254.8,415.4L255.5,412.5L256.2,409.5L256.8,406.6L257.5,403.6L258.2,400.7L259,397.8L259.7,394.9L260.5,391.9L261.2,389L262,386.1L262.8,383.2L263.7,380.3L264.5,377.5L265.4,374.6L266.3,371.7L267.2,368.8L268.2,366L269.1,363.2L270.1,360.3L271.2,357.5L272.2,354.7L273.3,351.9L274.4,349.1L275.5,346.3L276.7,343.6L277.9,340.9L279.1,338.1L280.4,335.4L281.7,332.8L283,330.1L284.4,327.4L285.8,324.8L287.3,322.2L288.8,319.7L290.3,317.1L291.9,314.6L293.5,312.1L295.2,309.6L296.9,307.2L298.6,304.8L300.4,302.4L302.2,300L304,297.7L305.9,295.4L307.9,293.2L309.9,290.9L311.9,288.7L313.9,286.6L316,284.4L318.1,282.3L320.3,280.3L322.5,278.2L324.7,276.2L327,274.2L329.3,272.3L331.6,270.4L333.9,268.5L336.3,266.7L338.7,264.9L341.2,263.1L343.6,261.4L346.1,259.7L348.6,258L351.1,256.4L353.7,254.8L356.3,253.3L358.9,251.8L361.5,250.3L364.1,248.9L366.7,247.5L369.4,246.1L372.1,244.8L374.8,243.5L377.5,242.2L380.2,241L383,239.8L385.7,238.6L388.5,237.5L391.3,236.4L394.1,235.3L396.9,234.3L399.7,233.3L402.6,232.4L405.4,231.4L408.3,230.5L411.1,229.6L414,228.8L416.9,228L419.8,227.2L422.7,226.4L425.6,225.7L428.6,225L431.5,224.3L434.4,223.6L437.4,223L440.3,222.4L443.3,221.8L446.2,221.2L449.2,220.7L452.2,220.2L455.1,219.7L458.1,219.2L461.1,218.8L464.1,218.4L467.1,218L470,217.6L473,217.2L476,216.9L479,216.5L482,216.2L485,215.9L488,215.7L490.9,215.4L493.9,215.1L496.9,214.9L499.9,214.7L502.9,214.5L505.9,214.3L508.9,214.1L511.9,213.9L514.9,213.7L517.9,213.5L520.9,213.4L523.9,213.2L526.9,213L529.9,212.9L532.8,212.7L535.8,212.6L538.8,212.4L541.8,212.3L544.8,212.1L547.8,212L550.8,211.8L553.8,211.6L556.8,211.5L559.8,211.3L562.8,211.1L565.8,211L568.8,210.8L571.8,210.6L574.8,210.4L577.8,210.3L580.8,210.1L583.8,209.9L586.8,209.7L589.8,209.6L592.7,209.4L595.7,209.2L598.7,209.1L601.7,208.9L604.7,208.7L607.7,208.6L610.7,208.4L613.7,208.2L616.7,208.1L619.7,207.9L622.7,207.8L625.7,207.7L628.7,207.5L631.7,207.4L634.7,207.3L637.7,207.2L640.7,207L643.7,206.9L646.7,206.8L649.7,206.7L652.7,206.6L655.7,206.5L658.7,206.4L661.7,206.3L664.7,206.3L667.7,206.2L670.7,206.1L673.7,206L676.7,206L679.7,205.9L682.7,205.8L685.7,205.8L688.7,205.7L691.6,205.7L694.6,205.6L697.6,205.6L700.6,205.5L703.6,205.5L706.6,205.4L709.6,205.4L712.6,205.4L715.6,205.3L718.6,205.3L721.6,205.3L724.6,205.3L727.6,205.2L730.6,205.2L733.6,205.2L736.6,205.2L739.6,205.2L742.6,205.2L745.6,205.2L748.6,205.2L751.6,205.1L754.6,205.1L757.6,205.1L760.6,205.1L763.6,205.1L766.6,205.1L769.6,205.1L772.6,205.1L775.6,205.2L778.6,205.2L781.6,205.2L784.6,205.2L787.6,205.2L790.6,205.2L793.6,205.2L796.6,205.2L799.6,205.2L802.6,205.2L805.6,205.2L808.6,205.3L811.6,205.3L814.6,205.3L817.6,205.3L820.6,205.3L823.6,205.3L826.6,205.3L829.6,205.3L832.6,205.3L835.6,205.4L838.6,205.4L841.6,205.4L844.6,205.4L847.6,205.4L850.6,205.4L853.6,205.4L856.6,205.4L859.6,205.4L862.6,205.4L865.6,205.4L868.6,205.4L871.6,205.4L874.6,205.4L877.6,205.4L880.6,205.4L883.6,205.4L886.6,205.4L889.6,205.4L892.6,205.4L895.6,205.4L898.6,205.4L901.6,205.4L904.6,205.4L907.6,205.4L910.6,205.3L913.6,205.3L916.6,205.3L919.6,205.3L922.6,205.3L925.6,205.3L928.6,205.3L931.6,205.3L934.6,205.2L937.6,205.2L940.6,205.2L943.6,205.2L946.6,205.2L949.6,205.2L952.6,205.2L955.6,205.1L958.6,205.1L961.6,205.1L964.6,205.1L967.6,205.1L970.6,205.1L973.6,205.1L976.6,205L979.6,205L982.6,205L985.6,205L988.6,205L991.6,205L994.6,205L997.6,204.9L1000.6,204.9L1003.6,204.9L1006.6,204.9L1009.6,204.9L1012.6,204.9L1015.6,204.9L1018.6,204.9L1021.6,204.8L1024.6,204.8L1027.6,204.8L1030.6,204.8L1033.6,204.8L1036.6,204.7L1039.6,204.7L1042.6,204.7L1045.6,204.6L1048.6,204.6L1051.6,204.5L1054.6,204.4L1057.6,204.4L1060.6,204.3L1063.6,204.2L1066.6,204.1L1069.6,204L1072.6,203.8L1075.6,203.7L1078.6,203.5L1081.6,203.4L1084.5,203.2L1087.5,203L1090.5,202.8L1093.5,202.6L1096.5,202.3L1099.5,202.1L1102.5,201.8L1105.5,201.5L1108.5,201.2L1111.5,200.9L1114.5,200.6L1117.4,200.3L1120.4,200L1123.4,199.7L1126.4,199.4L1129.4,199.1L1132.4,198.7L1135.4,198.4L1138.4,198.1L1141.4,197.8L1144.3,197.5L1147.3,197.2L1150.3,196.9L1153.3,196.6L1156.3,196.3L1159.3,196L1162.3,195.8L1165.3,195.5L1168.3,195.3L1171.3,195.1L1174.2,194.9L1177.2,194.7L1180.2,194.5L1183.2,194.4L1186.2,194.2L1189.2,194.1L1192.2,194L1195.2,193.9L1198.2,193.8L1201.2,193.7L1204.2,193.7L1207.2,193.6L1210.2,193.6L1213.2,193.6L1216.2,193.6L1219.2,193.6L1222.2,193.6L1225.2,193.6L1228.1,193.7L1231.1,193.7L1234.1,193.8L1237.1,193.9L1240.1,194L1243.1,194.1L1246.1,194.2L1249.1,194.3L1252.1,194.4L1255.1,194.6L1258.1,194.8L1261.1,194.9L1264.1,195.1L1267.1,195.3L1270.1,195.5L1273,195.7L1276,196L1279,196.2L1282,196.5L1285,196.7L1288,197L1291,197.3L1294,197.6L1297,197.9L1299.9,198.2L1302.9,198.5L1305.9,198.8L1308.9,199.2L1311.9,199.5L1314.9,199.9L1317.8,200.3L1320.8,200.6L1323.8,201L1326.8,201.4L1329.8,201.8L1332.7,202.3L1335.7,202.7L1338.7,203.1L1341.7,203.5L1344.6,204L1347.6,204.4L1350.6,204.9L1353.5,205.3L1356.5,205.8L1359.5,206.2L1362.5,206.7L1365.4,207.1L1368.4,207.6L1371.4,208.1L1374.3,208.5L1377.3,209L1380.3,209.5L1383.2,209.9L1386.2,210.4L1389.2,210.8L1392.1,211.3L1395.1,211.7L1398.1,212.2L1401.1,212.6L1404,213L1407,213.5L1410,213.9L1412.9,214.3L1415.9,214.7L1418.9,215.1L1421.9,215.5L1424.8,215.8L1427.8,216.2L1430.8,216.6L1433.8,216.9L1436.7,217.2L1439.7,217.6L1442.7,217.9L1445.7,218.2L1448.6,218.4L1451.6,218.7L1454.6,219L1457.6,219.2L1460.6,219.4L1463.6,219.6L1466.5,219.8L1469.5,220L1472.5,220.1L1475.5,220.2L1478.5,220.4L1481.5,220.4L1484.5,220.5L1487.5,220.6L1490.5,220.6L1493.5,220.6L1496.5,220.6L1499.5,220.6L1502.5,220.6L1505.5,220.6L1508.5,220.6L1511.5,220.5L1514.5,220.5L1517.5,220.4L1520.5,220.3L1523.5,220.3L1526.5,220.2L1529.5,220.1L1532.5,220.1L1535.5,220L1538.5,220L1541.5,219.9L1544.5,219.9L1547.5,219.8L1550.6,219.8L1553.6,219.8L1556.6,219.8L1559.6,219.8L1562.6,219.8L1565.6,219.8L1568.6,219.8L1571.6,219.9L1574.6,219.9L1577.6,220L1580.6,220L1583.6,220.1L1586.6,220.2L1589.5,220.2L1592.5,220.3L1595.5,220.4L1598.5,220.5L1601.5,220.5L1604.5,220.6L1607.5,220.7L1610.5,220.7L1613.5,220.8L1616.5,220.8L1619.5,220.9L1622.5,220.9L1625.5,220.9L1628.5,220.9L1631.5,220.9L1634.5,220.9L1637.5,220.9L1640.5,220.8L1643.5,220.8L1646.5,220.7L1649.5,220.6L1652.5,220.6L1655.5,220.5L1658.6,220.4L1661.6,220.3L1664.6,220.2L1667.6,220.2L1670.6,220.1L1673.6,220L1676.6,220L1679.6,219.9L1682.6,219.9L1685.6,219.8L1688.6,219.8L1691.6,219.9L1694.5,219.9L1697.5,219.9L1700.5,220L1703.5,220.1L1706.5,220.2L1709.5,220.4L1712.5,220.5L1715.5,220.7L1718.4,221L1721.4,221.2L1724.4,221.5L1727.4,221.8L1730.3,222.2L1733.3,222.6L1736.3,223L1739.2,223.4L1742.2,223.8L1745.2,224.3L1748.1,224.8L1751.1,225.3L1754,225.8L1757,226.4L1759.9,226.9L1762.9,227.5L1765.8,228.1L1768.8,228.7L1771.7,229.4L1774.7,230L1777.6,230.6L1780.5,231.3L1783.5,232L1786.4,232.7L1789.4,233.3L1792.3,234L1795.2,234.8L1798.2,235.5L1801.1,236.2L1804,236.9L1806.9,237.7L1809.9,238.4L1812.8,239.2L1815.7,239.9L1818.6,240.7L1821.5,241.5L1824.4,242.3L1827.3,243.1L1830.2,243.9L1833.1,244.8L1836,245.6L1838.8,246.5L1841.7,247.4L1844.6,248.3L1847.4,249.2L1850.3,250.1L1853.1,251.1L1855.9,252.1L1858.8,253L1861.6,254L1864.4,255L1867.2,256.1L1870,257.1L1872.7,258.2L1875.5,259.3L1878.2,260.4L1881,261.6L1883.7,262.7L1886.4,263.9L1889.1,265.1" fill="none" stroke="#ff00ff" stroke-width="1.7" stroke-linejoin="round" transform="translate(0,0.35)"/>
<polygon points="241.2,494.3 250.8,477.3 231.6,477.3" fill="#ff00ff"/>
<polygon points="316.4,295.8 326,278.8 306.8,278.8" fill="#ff00ff"/>
<polygon points="393.2,247 402.8,230 383.6,230" fill="#ff00ff"/>
<polygon points="470.4,228.8 480,211.8 460.8,211.8" fill="#ff00ff"/>
<polygon points="547.3,223.3 556.9,206.3 537.7,206.3" fill="#ff00ff"/>
<polygon points="624.4,219.1 634,202.1 614.8,202.1" fill="#ff00ff"/>
<polygon points="701.3,216.7 710.9,199.7 691.7,199.7" fill="#ff00ff"/>
<polygon points="778.9,216.5 788.5,199.5 769.3,199.5" fill="#ff00ff"/>
<polygon points="856.4,216.7 866,199.7 846.8,199.7" fill="#ff00ff"/>
<polygon points="933.7,216.6 943.3,199.6 924.1,199.6" fill="#ff00ff"/>
<polygon points="1011.6,216.1 1021.2,199.1 1002,199.1" fill="#ff00ff"/>
<polygon points="1089.3,214.2 1098.9,197.2 1079.7,197.2" fill="#ff00ff"/>
<polygon points="1166.8,206.9 1176.4,189.9 1157.2,189.9" fill="#ff00ff"/>
<polygon points="1245,205.1 1254.6,188.1 1235.4,188.1" fill="#ff00ff"/>
<polygon points="1322.6,212.4 1332.2,195.4 1313,195.4" fill="#ff00ff"/>
<polygon points="1400.9,223.8 1410.5,206.8 1391.3,206.8" fill="#ff00ff"/>
<polygon points="1479,231.8 1488.6,214.8 1469.4,214.8" fill="#ff00ff"/>
<polygon points="1557.4,230.8 1567,213.8 1547.8,213.8" fill="#ff00ff"/>
<polygon points="1634.4,232.5 1644,215.5 1624.8,215.5" fill="#ff00ff"/>
<polygon points="1713.2,231.6 1722.8,214.6 1703.6,214.6" fill="#ff00ff"/>
<polygon points="1791.3,245.3 1800.9,228.3 1781.7,228.3" fill="#ff00ff"/>
<polygon points="1869.5,268.1 1879.1,251.1 1859.9,251.1" fill="#ff00ff"/>
<path d="M241.2,464.5L241.7,461.6L242.3,458.6L242.9,455.7L243.4,452.7L244,449.8L244.5,446.8L245,443.9L245.5,440.9L246,438L246.6,435L247.1,432.1L247.6,429.1L248.1,426.2L248.6,423.2L249.1,420.3L249.7,417.3L250.2,414.4L250.7,411.4L251.3,408.5L251.9,405.5L252.5,402.6L253.1,399.7L253.7,396.7L254.3,393.8L255,390.9L255.6,388L256.3,385.1L257,382.2L257.8,379.3L258.6,376.4L259.4,373.5L260.2,370.6L261,367.7L261.9,364.9L262.9,362L263.8,359.2L264.8,356.3L265.8,353.5L266.9,350.7L268,347.9L269.1,345.1L270.3,342.3L271.5,339.6L272.7,336.9L274,334.1L275.3,331.4L276.7,328.8L278.1,326.1L279.5,323.5L281,320.9L282.5,318.3L284.1,315.7L285.7,313.2L287.3,310.7L289,308.2L290.7,305.8L292.5,303.4L294.3,301L296.2,298.7L298.1,296.4L300,294.2L302,292L304.1,289.8L306.2,287.7L308.3,285.7L310.5,283.7L312.8,281.8L315,279.9L317.3,277.9L319.5,276L321.8,274.1L324,272.1L326.2,270L328.3,267.9L330.5,265.7L332.6,263.5L334.7,261.4L336.9,259.4L339.2,257.4L341.6,255.6L344,253.8L346.4,252.2L348.9,250.5L351.5,249L354,247.5L356.7,246.1L359.3,244.8L362,243.4L364.8,242.2L367.5,241L370.3,239.8L373,238.6L375.8,237.5L378.6,236.4L381.5,235.3L384.3,234.3L387.1,233.2L389.9,232.2L392.8,231.3L395.6,230.3L398.5,229.4L401.3,228.4L404.2,227.5L407.1,226.7L410,225.8L412.9,225L415.8,224.2L418.7,223.4L421.6,222.7L424.5,221.9L427.4,221.2L430.3,220.5L433.2,219.9L436.2,219.2L439.1,218.6L442,218L445,217.4L447.9,216.9L450.9,216.3L453.8,215.8L456.8,215.3L459.8,214.9L462.7,214.4L465.7,214L468.7,213.6L471.6,213.2L474.6,212.9L477.6,212.5L480.6,212.2L483.5,211.9L486.5,211.6L489.5,211.4L492.5,211.1L495.5,210.9L498.5,210.7L501.5,210.5L504.4,210.3L507.4,210.1L510.4,209.9L513.4,209.8L516.4,209.6L519.4,209.5L522.4,209.3L525.4,209.2L528.4,209.1L531.4,209L534.4,208.9L537.4,208.7L540.4,208.6L543.4,208.5L546.4,208.4L549.4,208.3L552.4,208.2L555.4,208.1L558.4,208L561.4,207.9L564.4,207.8L567.4,207.7L570.4,207.6L573.4,207.5L576.4,207.4L579.3,207.3L582.3,207.2L585.3,207.1L588.3,207L591.3,206.9L594.3,206.8L597.3,206.7L600.3,206.6L603.3,206.5L606.3,206.3L609.3,206.2L612.3,206.1L615.3,206.1L618.3,206L621.3,205.9L624.3,205.8L627.3,205.7L630.3,205.6L633.3,205.5L636.2,205.4L639.2,205.3L642.2,205.2L645.2,205.1L648.2,205L651.2,205L654.2,204.9L657.2,204.8L660.2,204.7L663.2,204.6L666.2,204.6L669.2,204.5L672.2,204.4L675.2,204.3L678.2,204.3L681.2,204.2L684.2,204.1L687.2,204.1L690.2,204L693.2,204L696.1,203.9L699.1,203.8L702.1,203.8L705.1,203.7L708.1,203.7L711.1,203.6L714.1,203.6L717.1,203.6L720.1,203.5L723.1,203.5L726.1,203.5L729.1,203.4L732.1,203.4L735.1,203.4L738.1,203.4L741.1,203.3L744.1,203.3L747.1,203.3L750.1,203.3L753.1,203.3L756.1,203.3L759.1,203.3L762.1,203.3L765.1,203.3L768.1,203.3L771.1,203.3L774,203.3L777,203.3L780,203.4L783,203.4L786,203.4L789,203.4L792,203.5L795,203.5L798,203.5L801,203.6L804,203.6L807,203.7L810,203.7L813,203.7L816,203.8L819,203.8L822,203.8L825,203.9L828,203.9L831,203.9L834,204L837,204L840,204L843,204L846,204.1L849,204.1L852,204.1L855,204.1L858,204.1L861,204L864,204L867,204L869.9,204L872.9,204L875.9,203.9L878.9,203.9L881.9,203.8L884.9,203.8L887.9,203.7L890.9,203.7L893.9,203.6L896.9,203.6L899.9,203.5L902.9,203.4L905.9,203.4L908.9,203.3L911.9,203.2L914.9,203.1L917.9,203L920.9,203L923.8,202.9L926.8,202.8L929.8,202.7L932.8,202.6L935.8,202.5L938.8,202.4L941.8,202.4L944.8,202.3L947.8,202.2L950.8,202.1L953.8,202L956.8,201.9L959.8,201.8L962.8,201.7L965.8,201.6L968.8,201.6L971.8,201.5L974.8,201.4L977.8,201.3L980.8,201.2L983.8,201.1L986.8,201.1L989.8,201L992.8,200.9L995.7,200.9L998.7,200.8L1001.7,200.7L1004.7,200.7L1007.7,200.6L1010.7,200.5L1013.7,200.5L1016.7,200.5L1019.7,200.4L1022.7,200.4L1025.7,200.3L1028.7,200.3L1031.7,200.2L1034.7,200.2L1037.7,200.1L1040.7,200.1L1043.7,200L1046.7,200L1049.7,199.9L1052.7,199.8L1055.7,199.8L1058.7,199.7L1061.7,199.6L1064.7,199.5L1067.7,199.4L1070.7,199.2L1073.7,199.1L1076.7,198.9L1079.7,198.8L1082.7,198.6L1085.6,198.4L1088.6,198.2L1091.6,198L1094.6,197.7L1097.6,197.4L1100.5,197.2L1103.5,196.9L1106.5,196.6L1109.5,196.3L1112.5,195.9L1115.4,195.6L1118.4,195.3L1121.4,194.9L1124.3,194.6L1127.3,194.2L1130.3,193.8L1133.3,193.5L1136.2,193.1L1139.2,192.7L1142.2,192.3L1145.2,192L1148.1,191.6L1151.1,191.2L1154.1,190.8L1157.1,190.5L1160,190.1L1163,189.8L1166,189.4L1169,189.1L1172,188.8L1175,188.4L1178,188.1L1180.9,187.8L1183.9,187.5L1186.9,187.3L1189.9,187L1192.9,186.7L1195.9,186.5L1198.9,186.3L1201.9,186L1204.9,185.8L1207.9,185.6L1210.9,185.4L1213.9,185.3L1216.9,185.1L1219.9,184.9L1222.9,184.8L1225.9,184.7L1228.9,184.6L1231.9,184.5L1234.9,184.4L1237.9,184.3L1240.9,184.3L1243.9,184.3L1246.9,184.2L1249.8,184.2L1252.8,184.3L1255.8,184.3L1258.8,184.3L1261.8,184.4L1264.8,184.5L1267.8,184.6L1270.8,184.7L1273.8,184.8L1276.8,185L1279.8,185.2L1282.7,185.3L1285.7,185.6L1288.7,185.8L1291.7,186L1294.7,186.3L1297.6,186.6L1300.6,186.9L1303.6,187.2L1306.5,187.6L1309.5,188L1312.5,188.4L1315.4,188.8L1318.4,189.2L1321.4,189.7L1324.3,190.2L1327.3,190.7L1330.2,191.2L1333.2,191.7L1336.1,192.3L1339.1,192.9L1342,193.5L1344.9,194.1L1347.9,194.7L1350.8,195.3L1353.8,196L1356.7,196.6L1359.6,197.2L1362.6,197.9L1365.5,198.5L1368.4,199.2L1371.4,199.8L1374.3,200.5L1377.3,201.1L1380.2,201.7L1383.1,202.4L1386.1,203L1389,203.6L1392,204.2L1394.9,204.7L1397.9,205.3L1400.8,205.8L1403.8,206.3L1406.7,206.8L1409.7,207.3L1412.7,207.8L1415.6,208.2L1418.6,208.6L1421.6,209L1424.5,209.4L1427.5,209.8L1430.5,210.2L1433.5,210.5L1436.4,210.8L1439.4,211.1L1442.4,211.4L1445.4,211.7L1448.4,212L1451.3,212.2L1454.3,212.4L1457.3,212.7L1460.3,212.9L1463.3,213.1L1466.3,213.2L1469.3,213.4L1472.3,213.6L1475.3,213.7L1478.3,213.8L1481.3,213.9L1484.3,214.1L1487.3,214.1L1490.2,214.2L1493.2,214.3L1496.2,214.4L1499.2,214.4L1502.2,214.5L1505.2,214.6L1508.2,214.6L1511.2,214.6L1514.2,214.7L1517.2,214.7L1520.2,214.7L1523.2,214.7L1526.2,214.7L1529.2,214.7L1532.2,214.8L1535.2,214.8L1538.2,214.8L1541.2,214.8L1544.2,214.8L1547.2,214.8L1550.2,214.8L1553.2,214.8L1556.2,214.8L1559.2,214.9L1562.2,214.9L1565.2,214.9L1568.2,214.9L1571.2,214.9L1574.2,215L1577.2,215L1580.2,215L1583.2,215L1586.2,215L1589.2,215.1L1592.1,215.1L1595.1,215.1L1598.1,215.1L1601.1,215.1L1604.1,215L1607.1,215L1610.1,215L1613.1,214.9L1616.1,214.9L1619.1,214.8L1622.1,214.7L1625.1,214.6L1628,214.5L1631,214.4L1634,214.2L1637,214.1L1640,213.9L1643,213.7L1646,213.5L1649,213.3L1652,213.1L1655,212.9L1658,212.6L1661,212.4L1663.9,212.1L1666.9,211.8L1669.9,211.6L1672.9,211.3L1675.9,211L1678.9,210.7L1681.9,210.4L1684.9,210.2L1687.9,209.9L1690.9,209.6L1693.9,209.3L1696.8,209L1699.8,208.8L1702.8,208.5L1705.8,208.2L1708.8,208L1711.8,207.7L1714.8,207.5L1717.8,207.3L1720.8,207L1723.8,206.8L1726.8,206.6L1729.7,206.5L1732.7,206.3L1735.7,206.1L1738.7,206L1741.7,205.9L1744.7,205.8L1747.7,205.7L1750.7,205.7L1753.7,205.6L1756.7,205.6L1759.7,205.6L1762.6,205.7L1765.6,205.7L1768.6,205.8L1771.6,205.9L1774.6,206.1L1777.6,206.2L1780.6,206.4L1783.6,206.7L1786.6,206.9L1789.6,207.2L1792.6,207.6L1795.5,207.9L1798.5,208.3L1801.5,208.8L1804.5,209.3L1807.5,209.8L1810.5,210.3L1813.4,210.9L1816.4,211.5L1819.4,212.1L1822.3,212.8L1825.2,213.5L1828.2,214.3L1831.1,215.1L1834,215.9L1836.9,216.7L1839.8,217.6L1842.7,218.5L1845.5,219.5L1848.4,220.5L1851.2,221.5L1854,222.5L1856.8,223.6L1859.6,224.7L1862.4,225.9L1865.1,227.1L1867.9,228.3L1870.6,229.5L1873.2,230.8L1875.9,232.1L1878.5,233.5L1881.1,234.8L1883.7,236.3L1886.3,237.7L1888.8,239.2" fill="none" stroke="#008000" stroke-width="1.7" stroke-linejoin="round" transform="translate(0,-0.35)"/>
<path d="M241.2,464.5L241.7,461.6L242.3,458.6L242.9,455.7L243.4,452.7L244,449.8L244.5,446.8L245,443.9L245.5,440.9L246,438L246.6,435L247.1,432.1L247.6,429.1L248.1,426.2L248.6,423.2L249.1,420.3L249.7,417.3L250.2,414.4L250.7,411.4L251.3,408.5L251.9,405.5L252.5,402.6L253.1,399.7L253.7,396.7L254.3,393.8L255,390.9L255.6,388L256.3,385.1L257,382.2L257.8,379.3L258.6,376.4L259.4,373.5L260.2,370.6L261,367.7L261.9,364.9L262.9,362L263.8,359.2L264.8,356.3L265.8,353.5L266.9,350.7L268,347.9L269.1,345.1L270.3,342.3L271.5,339.6L272.7,336.9L274,334.1L275.3,331.4L276.7,328.8L278.1,326.1L279.5,323.5L281,320.9L282.5,318.3L284.1,315.7L285.7,313.2L287.3,310.7L289,308.2L290.7,305.8L292.5,303.4L294.3,301L296.2,298.7L298.1,296.4L300,294.2L302,292L304.1,289.8L306.2,287.7L308.3,285.7L310.5,283.7L312.8,281.8L315,279.9L317.3,277.9L319.5,276L321.8,274.1L324,272.1L326.2,270L328.3,267.9L330.5,265.7L332.6,263.5L334.7,261.4L336.9,259.4L339.2,257.4L341.6,255.6L344,253.8L346.4,252.2L348.9,250.5L351.5,249L354,247.5L356.7,246.1L359.3,244.8L362,243.4L364.8,242.2L367.5,241L370.3,239.8L373,238.6L375.8,237.5L378.6,236.4L381.5,235.3L384.3,234.3L387.1,233.2L389.9,232.2L392.8,231.3L395.6,230.3L398.5,229.4L401.3,228.4L404.2,227.5L407.1,226.7L410,225.8L412.9,225L415.8,224.2L418.7,223.4L421.6,222.7L424.5,221.9L427.4,221.2L430.3,220.5L433.2,219.9L436.2,219.2L439.1,218.6L442,218L445,217.4L447.9,216.9L450.9,216.3L453.8,215.8L456.8,215.3L459.8,214.9L462.7,214.4L465.7,214L468.7,213.6L471.6,213.2L474.6,212.9L477.6,212.5L480.6,212.2L483.5,211.9L486.5,211.6L489.5,211.4L492.5,211.1L495.5,210.9L498.5,210.7L501.5,210.5L504.4,210.3L507.4,210.1L510.4,209.9L513.4,209.8L516.4,209.6L519.4,209.5L522.4,209.3L525.4,209.2L528.4,209.1L531.4,209L534.4,208.9L537.4,208.7L540.4,208.6L543.4,208.5L546.4,208.4L549.4,208.3L552.4,208.2L555.4,208.1L558.4,208L561.4,207.9L564.4,207.8L567.4,207.7L570.4,207.6L573.4,207.5L576.4,207.4L579.3,207.3L582.3,207.2L585.3,207.1L588.3,207L591.3,206.9L594.3,206.8L597.3,206.7L600.3,206.6L603.3,206.5L606.3,206.3L609.3,206.2L612.3,206.1L615.3,206.1L618.3,206L621.3,205.9L624.3,205.8L627.3,205.7L630.3,205.6L633.3,205.5L636.2,205.4L639.2,205.3L642.2,205.2L645.2,205.1L648.2,205L651.2,205L654.2,204.9L657.2,204.8L660.2,204.7L663.2,204.6L666.2,204.6L669.2,204.5L672.2,204.4L675.2,204.3L678.2,204.3L681.2,204.2L684.2,204.1L687.2,204.1L690.2,204L693.2,204L696.1,203.9L699.1,203.8L702.1,203.8L705.1,203.7L708.1,203.7L711.1,203.6L714.1,203.6L717.1,203.6L720.1,203.5L723.1,203.5L726.1,203.5L729.1,203.4L732.1,203.4L735.1,203.4L738.1,203.4L741.1,203.3L744.1,203.3L747.1,203.3L750.1,203.3L753.1,203.3L756.1,203.3L759.1,203.3L762.1,203.3L765.1,203.3L768.1,203.3L771.1,203.3L774,203.3L777,203.3L780,203.4L783,203.4L786,203.4L789,203.4L792,203.5L795,203.5L798,203.5L801,203.6L804,203.6L807,203.7L810,203.7L813,203.7L816,203.8L819,203.8L822,203.8L825,203.9L828,203.9L831,203.9L834,204L837,204L840,204L843,204L846,204.1L849,204.1L852,204.1L855,204.1L858,204.1L861,204L864,204L867,204L869.9,204L872.9,204L875.9,203.9L878.9,203.9L881.9,203.8L884.9,203.8L887.9,203.7L890.9,203.7L893.9,203.6L896.9,203.6L899.9,203.5L902.9,203.4L905.9,203.4L908.9,203.3L911.9,203.2L914.9,203.1L917.9,203L920.9,203L923.8,202.9L926.8,202.8L929.8,202.7L932.8,202.6L935.8,202.5L938.8,202.4L941.8,202.4L944.8,202.3L947.8,202.2L950.8,202.1L953.8,202L956.8,201.9L959.8,201.8L962.8,201.7L965.8,201.6L968.8,201.6L971.8,201.5L974.8,201.4L977.8,201.3L980.8,201.2L983.8,201.1L986.8,201.1L989.8,201L992.8,200.9L995.7,200.9L998.7,200.8L1001.7,200.7L1004.7,200.7L1007.7,200.6L1010.7,200.5L1013.7,200.5L1016.7,200.5L1019.7,200.4L1022.7,200.4L1025.7,200.3L1028.7,200.3L1031.7,200.2L1034.7,200.2L1037.7,200.1L1040.7,200.1L1043.7,200L1046.7,200L1049.7,199.9L1052.7,199.8L1055.7,199.8L1058.7,199.7L1061.7,199.6L1064.7,199.5L1067.7,199.4L1070.7,199.2L1073.7,199.1L1076.7,198.9L1079.7,198.8L1082.7,198.6L1085.6,198.4L1088.6,198.2L1091.6,198L1094.6,197.7L1097.6,197.4L1100.5,197.2L1103.5,196.9L1106.5,196.6L1109.5,196.3L1112.5,195.9L1115.4,195.6L1118.4,195.3L1121.4,194.9L1124.3,194.6L1127.3,194.2L1130.3,193.8L1133.3,193.5L1136.2,193.1L1139.2,192.7L1142.2,192.3L1145.2,192L1148.1,191.6L1151.1,191.2L1154.1,190.8L1157.1,190.5L1160,190.1L1163,189.8L1166,189.4L1169,189.1L1172,188.8L1175,188.4L1178,188.1L1180.9,187.8L1183.9,187.5L1186.9,187.3L1189.9,187L1192.9,186.7L1195.9,186.5L1198.9,186.3L1201.9,186L1204.9,185.8L1207.9,185.6L1210.9,185.4L1213.9,185.3L1216.9,185.1L1219.9,184.9L1222.9,184.8L1225.9,184.7L1228.9,184.6L1231.9,184.5L1234.9,184.4L1237.9,184.3L1240.9,184.3L1243.9,184.3L1246.9,184.2L1249.8,184.2L1252.8,184.3L1255.8,184.3L1258.8,184.3L1261.8,184.4L1264.8,184.5L1267.8,184.6L1270.8,184.7L1273.8,184.8L1276.8,185L1279.8,185.2L1282.7,185.3L1285.7,185.6L1288.7,185.8L1291.7,186L1294.7,186.3L1297.6,186.6L1300.6,186.9L1303.6,187.2L1306.5,187.6L1309.5,188L1312.5,188.4L1315.4,188.8L1318.4,189.2L1321.4,189.7L1324.3,190.2L1327.3,190.7L1330.2,191.2L1333.2,191.7L1336.1,192.3L1339.1,192.9L1342,193.5L1344.9,194.1L1347.9,194.7L1350.8,195.3L1353.8,196L1356.7,196.6L1359.6,197.2L1362.6,197.9L1365.5,198.5L1368.4,199.2L1371.4,199.8L1374.3,200.5L1377.3,201.1L1380.2,201.7L1383.1,202.4L1386.1,203L1389,203.6L1392,204.2L1394.9,204.7L1397.9,205.3L1400.8,205.8L1403.8,206.3L1406.7,206.8L1409.7,207.3L1412.7,207.8L1415.6,208.2L1418.6,208.6L1421.6,209L1424.5,209.4L1427.5,209.8L1430.5,210.2L1433.5,210.5L1436.4,210.8L1439.4,211.1L1442.4,211.4L1445.4,211.7L1448.4,212L1451.3,212.2L1454.3,212.4L1457.3,212.7L1460.3,212.9L1463.3,213.1L1466.3,213.2L1469.3,213.4L1472.3,213.6L1475.3,213.7L1478.3,213.8L1481.3,213.9L1484.3,214.1L1487.3,214.1L1490.2,214.2L1493.2,214.3L1496.2,214.4L1499.2,214.4L1502.2,214.5L1505.2,214.6L1508.2,214.6L1511.2,214.6L1514.2,214.7L1517.2,214.7L1520.2,214.7L1523.2,214.7L1526.2,214.7L1529.2,214.7L1532.2,214.8L1535.2,214.8L1538.2,214.8L1541.2,214.8L1544.2,214.8L1547.2,214.8L1550.2,214.8L1553.2,214.8L1556.2,214.8L1559.2,214.9L1562.2,214.9L1565.2,214.9L1568.2,214.9L1571.2,214.9L1574.2,215L1577.2,215L1580.2,215L1583.2,215L1586.2,215L1589.2,215.1L1592.1,215.1L1595.1,215.1L1598.1,215.1L1601.1,215.1L1604.1,215L1607.1,215L1610.1,215L1613.1,214.9L1616.1,214.9L1619.1,214.8L1622.1,214.7L1625.1,214.6L1628,214.5L1631,214.4L1634,214.2L1637,214.1L1640,213.9L1643,213.7L1646,213.5L1649,213.3L1652,213.1L1655,212.9L1658,212.6L1661,212.4L1663.9,212.1L1666.9,211.8L1669.9,211.6L1672.9,211.3L1675.9,211L1678.9,210.7L1681.9,210.4L1684.9,210.2L1687.9,209.9L1690.9,209.6L1693.9,209.3L1696.8,209L1699.8,208.8L1702.8,208.5L1705.8,208.2L1708.8,208L1711.8,207.7L1714.8,207.5L1717.8,207.3L1720.8,207L1723.8,206.8L1726.8,206.6L1729.7,206.5L1732.7,206.3L1735.7,206.1L1738.7,206L1741.7,205.9L1744.7,205.8L1747.7,205.7L1750.7,205.7L1753.7,205.6L1756.7,205.6L1759.7,205.6L1762.6,205.7L1765.6,205.7L1768.6,205.8L1771.6,205.9L1774.6,206.1L1777.6,206.2L1780.6,206.4L1783.6,206.7L1786.6,206.9L1789.6,207.2L1792.6,207.6L1795.5,207.9L1798.5,208.3L1801.5,208.8L1804.5,209.3L1807.5,209.8L1810.5,210.3L1813.4,210.9L1816.4,211.5L1819.4,212.1L1822.3,212.8L1825.2,213.5L1828.2,214.3L1831.1,215.1L1834,215.9L1836.9,216.7L1839.8,217.6L1842.7,218.5L1845.5,219.5L1848.4,220.5L1851.2,221.5L1854,222.5L1856.8,223.6L1859.6,224.7L1862.4,225.9L1865.1,227.1L1867.9,228.3L1870.6,229.5L1873.2,230.8L1875.9,232.1L1878.5,233.5L1881.1,234.8L1883.7,236.3L1886.3,237.7L1888.8,239.2" fill="none" stroke="#008000" stroke-width="1.7" stroke-linejoin="round" transform="translate(0,0.35)"/>
<polygon points="241.2,453.7 251.2,464.5 241.2,475.3 231.2,464.5" fill="#008000"/>
<polygon points="316.4,268.2 326.4,279 316.4,289.8 306.4,279" fill="#008000"/>
<polygon points="393.2,220.3 403.2,231.1 393.2,241.9 383.2,231.1" fill="#008000"/>
<polygon points="470.4,202.6 480.4,213.4 470.4,224.2 460.4,213.4" fill="#008000"/>
<polygon points="547.3,197.5 557.3,208.3 547.3,219.1 537.3,208.3" fill="#008000"/>
<polygon points="624.4,195.2 634.4,206 624.4,216.8 614.4,206" fill="#008000"/>
<polygon points="701.3,192.7 711.3,203.5 701.3,214.3 691.3,203.5" fill="#008000"/>
<polygon points="778.9,192.7 788.9,203.5 778.9,214.3 768.9,203.5" fill="#008000"/>
<polygon points="856.4,193.4 866.4,204.2 856.4,215 846.4,204.2" fill="#008000"/>
<polygon points="933.7,191.5 943.7,202.3 933.7,213.1 923.7,202.3" fill="#008000"/>
<polygon points="1011.6,190 1021.6,200.8 1011.6,211.6 1001.6,200.8" fill="#008000"/>
<polygon points="1089.3,187.1 1099.3,197.9 1089.3,208.7 1079.3,197.9" fill="#008000"/>
<polygon points="1166.8,178.9 1176.8,189.7 1166.8,200.5 1156.8,189.7" fill="#008000"/>
<polygon points="1245,173 1255,183.8 1245,194.6 1235,183.8" fill="#008000"/>
<polygon points="1322.6,179.4 1332.6,190.2 1322.6,201 1312.6,190.2" fill="#008000"/>
<polygon points="1400.9,194.9 1410.9,205.7 1400.9,216.5 1390.9,205.7" fill="#008000"/>
<polygon points="1479,203.1 1489,213.9 1479,224.7 1469,213.9" fill="#008000"/>
<polygon points="1557.4,204 1567.4,214.8 1557.4,225.6 1547.4,214.8" fill="#008000"/>
<polygon points="1634.4,203.5 1644.4,214.3 1634.4,225.1 1624.4,214.3" fill="#008000"/>
<polygon points="1713.2,196.7 1723.2,207.5 1713.2,218.3 1703.2,207.5" fill="#008000"/>
<polygon points="1791.3,196.7 1801.3,207.5 1791.3,218.3 1781.3,207.5" fill="#008000"/>
<polygon points="1869.5,218.2 1879.5,229 1869.5,239.8 1859.5,229" fill="#008000"/>
<path d="M241.2,1230.6L241.3,1227.6L241.5,1224.6L241.6,1221.6L241.8,1218.6L241.9,1215.6L242.1,1212.6L242.2,1209.6L242.4,1206.6L242.6,1203.6L242.8,1200.6L242.9,1197.7L243.1,1194.7L243.3,1191.7L243.5,1188.7L243.6,1185.7L243.8,1182.7L244,1179.7L244.2,1176.7L244.4,1173.7L244.6,1170.7L244.8,1167.7L245,1164.7L245.2,1161.7L245.4,1158.8L245.6,1155.8L245.8,1152.8L246,1149.8L246.2,1146.8L246.5,1143.8L246.7,1140.8L246.9,1137.8L247.1,1134.8L247.4,1131.8L247.6,1128.9L247.8,1125.9L248,1122.9L248.3,1119.9L248.5,1116.9L248.7,1113.9L249,1110.9L249.2,1107.9L249.5,1105L249.7,1102L250,1099L250.2,1096L250.5,1093L250.7,1090L251,1087L251.2,1084.1L251.5,1081.1L251.7,1078.1L252,1075.1L252.3,1072.1L252.5,1069.1L252.8,1066.2L253.1,1063.2L253.4,1060.2L253.6,1057.2L253.9,1054.2L254.2,1051.2L254.5,1048.2L254.7,1045.3L255,1042.3L255.3,1039.3L255.6,1036.3L255.9,1033.3L256.2,1030.4L256.4,1027.4L256.7,1024.4L257,1021.4L257.3,1018.4L257.6,1015.4L257.9,1012.5L258.2,1009.5L258.5,1006.5L258.8,1003.5L259.1,1000.5L259.4,997.6L259.7,994.6L260,991.6L260.3,988.6L260.7,985.6L261,982.6L261.3,979.7L261.6,976.7L261.9,973.7L262.2,970.7L262.5,967.7L262.9,964.8L263.2,961.8L263.5,958.8L263.8,955.8L264.1,952.8L264.5,949.9L264.8,946.9L265.1,943.9L265.4,940.9L265.8,937.9L266.1,935L266.4,932L266.8,929L267.1,926L267.4,923L267.8,920.1L268.1,917.1L268.4,914.1L268.8,911.1L269.1,908.1L269.4,905.2L269.8,902.2L270.1,899.2L270.5,896.2L270.8,893.2L271.1,890.3L271.5,887.3L271.8,884.3L272.2,881.3L272.5,878.3L272.9,875.4L273.2,872.4L273.5,869.4L273.9,866.4L274.2,863.4L274.6,860.5L274.9,857.5L275.3,854.5L275.6,851.5L276,848.5L276.3,845.6L276.7,842.6L277.1,839.6L277.4,836.6L277.8,833.7L278.1,830.7L278.5,827.7L278.8,824.7L279.2,821.7L279.6,818.8L279.9,815.8L280.3,812.8L280.7,809.8L281.1,806.8L281.4,803.9L281.8,800.9L282.2,797.9L282.6,794.9L283,792L283.3,789L283.7,786L284.1,783.1L284.5,780.1L284.9,777.1L285.3,774.1L285.7,771.2L286.2,768.2L286.6,765.2L287,762.3L287.4,759.3L287.8,756.3L288.3,753.4L288.7,750.4L289.1,747.4L289.6,744.5L290,741.5L290.5,738.5L290.9,735.6L291.4,732.6L291.9,729.7L292.3,726.7L292.8,723.7L293.3,720.8L293.8,717.8L294.3,714.9L294.8,711.9L295.3,709L295.8,706L296.3,703.1L296.8,700.1L297.3,697.2L297.9,694.2L298.4,691.3L299,688.3L299.5,685.4L300.1,682.5L300.6,679.5L301.2,676.6L301.8,673.7L302.4,670.7L302.9,667.8L303.5,664.9L304.1,661.9L304.8,659L305.4,656.1L306,653.1L306.6,650.2L307.3,647.3L307.9,644.4L308.6,641.4L309.2,638.5L309.9,635.6L310.5,632.7L311.2,629.8L311.9,626.9L312.6,623.9L313.3,621L314,618.1L314.7,615.2L315.4,612.3L316.1,609.4L316.8,606.5L317.6,603.6L318.3,600.7L319,597.8L319.8,594.9L320.5,592L321.3,589.1L322.1,586.2L322.8,583.3L323.6,580.4L324.4,577.5L325.2,574.6L326,571.7L326.8,568.8L327.6,565.9L328.4,563L329.2,560.1L330,557.2L330.8,554.3L331.6,551.4L332.5,548.5L333.3,545.6L334.2,542.8L335,539.9L335.9,537L336.8,534.1L337.7,531.3L338.6,528.4L339.5,525.5L340.4,522.7L341.4,519.8L342.3,517L343.3,514.2L344.3,511.3L345.3,508.5L346.3,505.7L347.4,502.9L348.4,500.1L349.5,497.3L350.6,494.5L351.8,491.8L352.9,489L354.1,486.3L355.3,483.5L356.5,480.8L357.7,478.1L359,475.4L360.3,472.7L361.6,470L362.9,467.4L364.3,464.7L365.7,462.1L367.1,459.5L368.6,456.9L370.1,454.3L371.6,451.7L373.2,449.2L374.8,446.7L376.4,444.1L378.1,441.6L379.7,439.2L381.5,436.7L383.2,434.3L385,431.8L386.8,429.4L388.7,427.1L390.6,424.7L392.5,422.4L394.4,420L396.4,417.7L398.4,415.5L400.4,413.2L402.4,411L404.5,408.8L406.6,406.6L408.7,404.5L410.8,402.4L413,400.3L415.2,398.2L417.4,396.2L419.6,394.2L421.9,392.2L424.2,390.2L426.5,388.3L428.8,386.4L431.1,384.5L433.5,382.7L435.8,380.9L438.2,379.1L440.6,377.4L443.1,375.7L445.5,374L448,372.3L450.4,370.7L452.9,369.1L455.4,367.5L457.9,365.9L460.5,364.4L463,362.9L465.6,361.4L468.2,359.9L470.8,358.4L473.4,357L476,355.5L478.7,354.1L481.3,352.8L484,351.4L486.7,350L489.4,348.7L492.1,347.4L494.8,346.1L497.5,344.9L500.3,343.7L503,342.4L505.8,341.3L508.6,340.1L511.4,339L514.2,337.9L517,336.8L519.8,335.7L522.6,334.7L525.4,333.7L528.2,332.7L531.1,331.8L533.9,330.8L536.8,330L539.7,329.1L542.5,328.2L545.4,327.4L548.3,326.6L551.2,325.9L554.1,325.1L557,324.4L559.9,323.7L562.8,323L565.7,322.3L568.6,321.7L571.6,321.1L574.5,320.5L577.4,319.9L580.4,319.3L583.3,318.8L586.3,318.2L589.2,317.7L592.2,317.2L595.2,316.7L598.1,316.3L601.1,315.8L604.1,315.4L607,314.9L610,314.5L613,314L615.9,313.6L618.9,313.1L621.9,312.7L624.8,312.2L627.8,311.7L630.8,311.3L633.7,310.8L636.7,310.3L639.7,309.8L642.6,309.3L645.6,308.9L648.6,308.4L651.5,307.9L654.5,307.4L657.4,306.9L660.4,306.4L663.3,305.9L666.3,305.4L669.3,305L672.2,304.5L675.2,304L678.1,303.6L681.1,303.1L684.1,302.7L687,302.3L690,301.8L693,301.4L695.9,301.1L698.9,300.7L701.9,300.3L704.9,300L707.8,299.7L710.8,299.4L713.8,299.1L716.8,298.8L719.8,298.5L722.7,298.2L725.7,298L728.7,297.8L731.7,297.5L734.7,297.3L737.7,297.1L740.7,296.9L743.7,296.7L746.7,296.5L749.7,296.3L752.6,296.1L755.6,296L758.6,295.8L761.6,295.6L764.6,295.4L767.6,295.3L770.6,295.1L773.6,294.9L776.6,294.8L779.6,294.6L782.6,294.4L785.6,294.2L788.6,294L791.6,293.9L794.6,293.7L797.6,293.5L800.6,293.3L803.6,293.1L806.5,292.9L809.5,292.7L812.5,292.5L815.5,292.3L818.5,292.1L821.5,291.9L824.5,291.7L827.5,291.5L830.5,291.3L833.5,291.1L836.5,290.9L839.4,290.7L842.4,290.5L845.4,290.2L848.4,290L851.4,289.8L854.4,289.6L857.4,289.4L860.4,289.2L863.4,289L866.4,288.7L869.3,288.5L872.3,288.3L875.3,288.1L878.3,287.9L881.3,287.7L884.3,287.5L887.3,287.2L890.3,287L893.3,286.8L896.3,286.6L899.2,286.4L902.2,286.2L905.2,286L908.2,285.8L911.2,285.6L914.2,285.3L917.2,285.1L920.2,284.9L923.2,284.7L926.2,284.5L929.1,284.3L932.1,284.1L935.1,283.9L938.1,283.7L941.1,283.5L944.1,283.4L947.1,283.2L950.1,283L953.1,282.8L956.1,282.6L959.1,282.4L962.1,282.2L965,282L968,281.8L971,281.6L974,281.4L977,281.2L980,281L983,280.8L986,280.5L989,280.3L992,280.1L995,279.9L997.9,279.6L1000.9,279.4L1003.9,279.1L1006.9,278.9L1009.9,278.6L1012.9,278.4L1015.9,278.1L1018.8,277.8L1021.8,277.5L1024.8,277.2L1027.8,276.9L1030.8,276.6L1033.8,276.3L1036.7,276L1039.7,275.7L1042.7,275.4L1045.7,275L1048.7,274.7L1051.6,274.4L1054.6,274.1L1057.6,273.7L1060.6,273.4L1063.6,273.1L1066.5,272.8L1069.5,272.4L1072.5,272.1L1075.5,271.8L1078.5,271.5L1081.4,271.2L1084.4,270.8L1087.4,270.5L1090.4,270.2L1093.4,269.9L1096.4,269.6L1099.3,269.3L1102.3,269.1L1105.3,268.8L1108.3,268.5L1111.3,268.2L1114.3,268L1117.3,267.7L1120.2,267.4L1123.2,267.2L1126.2,266.9L1129.2,266.7L1132.2,266.5L1135.2,266.2L1138.2,266L1141.2,265.8L1144.1,265.5L1147.1,265.3L1150.1,265.1L1153.1,264.9L1156.1,264.7L1159.1,264.5L1162.1,264.3L1165.1,264.1L1168.1,263.9L1171.1,263.7L1174.1,263.5L1177,263.3L1180,263.1L1183,263L1186,262.8L1189,262.6L1192,262.4L1195,262.3L1198,262.1L1201,262L1204,261.8L1207,261.7L1210,261.5L1213,261.4L1216,261.2L1219,261.1L1222,261L1225,260.8L1228,260.7L1230.9,260.6L1233.9,260.5L1236.9,260.3L1239.9,260.2L1242.9,260.1L1245.9,260L1248.9,259.9L1251.9,259.8L1254.9,259.7L1257.9,259.6L1260.9,259.5L1263.9,259.4L1266.9,259.3L1269.9,259.2L1272.9,259.1L1275.9,259L1278.9,258.8L1281.9,258.7L1284.9,258.6L1287.9,258.5L1290.9,258.4L1293.9,258.2L1296.9,258.1L1299.8,258L1302.8,257.8L1305.8,257.7L1308.8,257.5L1311.8,257.4L1314.8,257.2L1317.8,257L1320.8,256.8L1323.8,256.6L1326.8,256.4L1329.8,256.2L1332.8,255.9L1335.8,255.7L1338.7,255.5L1341.7,255.2L1344.7,254.9L1347.7,254.6L1350.7,254.3L1353.7,254L1356.7,253.7L1359.6,253.4L1362.6,253.1L1365.6,252.7L1368.6,252.3L1371.5,252L1374.5,251.6L1377.5,251.2L1380.5,250.8L1383.4,250.3L1386.4,249.9L1389.4,249.5L1392.3,249L1395.3,248.5L1398.2,248L1401.2,247.5L1404.2,247L1407.1,246.5L1410.1,246L1413,245.4L1416,244.9L1418.9,244.3L1421.8,243.8L1424.8,243.2L1427.7,242.6L1430.7,242L1433.6,241.4L1436.6,240.9L1439.5,240.3L1442.4,239.7L1445.4,239.1L1448.3,238.5L1451.3,238L1454.2,237.4L1457.2,236.8L1460.1,236.3L1463,235.7L1466,235.2L1468.9,234.7L1471.9,234.2L1474.9,233.7L1477.8,233.2L1480.8,232.7L1483.7,232.3L1486.7,231.8L1489.7,231.4L1492.6,231L1495.6,230.6L1498.6,230.2L1501.6,229.8L1504.5,229.4L1507.5,229.1L1510.5,228.7L1513.5,228.4L1516.5,228L1519.4,227.7L1522.4,227.3L1525.4,227L1528.4,226.6L1531.4,226.3L1534.3,225.9L1537.3,225.6L1540.3,225.2L1543.3,224.9L1546.2,224.5L1549.2,224.1L1552.2,223.7L1555.1,223.3L1558.1,222.9L1561.1,222.5L1564,222.1L1567,221.7L1569.9,221.2L1572.9,220.8L1575.8,220.3L1578.8,219.8L1581.7,219.3L1584.7,218.7L1587.6,218.2L1590.6,217.6L1593.5,217L1596.4,216.4L1599.4,215.8L1602.3,215.2L1605.2,214.5L1608.1,213.8L1611,213.2L1614,212.5L1616.9,211.8L1619.8,211.1L1622.7,210.4L1625.6,209.7L1628.6,209L1631.5,208.3L1634.4,207.7L1637.3,207L1640.3,206.4L1643.2,205.8L1646.1,205.1L1649.1,204.5L1652,203.8L1654.9,203.2L1657.8,202.5L1660.7,201.8L1663.6,201.1L1666.4,200.4L1669.3,199.6L1672.1,198.8L1675,197.9L1677.8,197L1680.6,196.1L1683.4,195.1L1686.2,194.1L1689,193.1L1691.8,192L1694.6,190.8L1697.3,189.6L1700.1,188.3L1702.8,187L1705.5,185.6L1708.3,184.2L1711,182.8L1713.7,181.4L1716.5,180L1719.2,178.7L1722,177.3L1724.7,176L1727.5,174.8L1730.3,173.6L1733.1,172.5L1735.9,171.5L1738.8,170.5L1741.7,169.7L1744.5,169L1747.4,168.4L1750.3,168L1753.2,167.7L1756.1,167.5L1759,167.5L1761.9,167.6L1764.8,168L1767.7,168.5L1770.5,169.2L1773.3,170L1776.1,171L1778.9,172.1L1781.6,173.4L1784.2,174.7L1786.8,176.2L1789.4,177.8L1791.8,179.5L1794.2,181.2L1796.5,183L1798.8,184.9L1801,186.8L1803.1,188.9L1805.2,190.9L1807.2,193.1L1809.1,195.3L1811,197.6L1812.8,199.9L1814.6,202.2L1816.4,204.6L1818,207.1L1819.7,209.6L1821.3,212.1L1822.9,214.7L1824.4,217.3L1825.9,220L1827.3,222.6L1828.8,225.3L1830.2,228.1L1831.6,230.8L1832.9,233.6L1834.2,236.4L1835.6,239.2L1836.8,242L1838.1,244.8L1839.4,247.6L1840.7,250.4L1841.9,253.2L1843.2,256.1L1844.4,258.9L1845.6,261.7L1846.9,264.5L1848.1,267.3L1849.4,270.1L1850.6,272.8L1851.9,275.6L1853.2,278.3L1854.5,281L1855.8,283.6L1857.1,286.3L1858.4,288.9L1859.8,291.6L1861.1,294.2L1862.4,296.8L1863.7,299.4L1865.1,302L1866.4,304.6L1867.7,307.2L1869,309.8L1870.3,312.4L1871.5,315L1872.8,317.6L1874,320.3L1875.2,322.9L1876.4,325.6L1877.6,328.3L1878.7,331L1879.8,333.8L1880.9,336.6L1882,339.4L1883,342.2L1883.9,345.1L1884.9,348L1885.8,350.9L1886.6,353.9L1887.4,357L1888.2,360.1L1888.9,363.2" fill="none" stroke="#00008c" stroke-width="1.7" stroke-linejoin="round" transform="translate(0,-0.35)"/>
<path d="M241.2,1230.6L241.3,1227.6L241.5,1224.6L241.6,1221.6L241.8,1218.6L241.9,1215.6L242.1,1212.6L242.2,1209.6L242.4,1206.6L242.6,1203.6L242.8,1200.6L242.9,1197.7L243.1,1194.7L243.3,1191.7L243.5,1188.7L243.6,1185.7L243.8,1182.7L244,1179.7L244.2,1176.7L244.4,1173.7L244.6,1170.7L244.8,1167.7L245,1164.7L245.2,1161.7L245.4,1158.8L245.6,1155.8L245.8,1152.8L246,1149.8L246.2,1146.8L246.5,1143.8L246.7,1140.8L246.9,1137.8L247.1,1134.8L247.4,1131.8L247.6,1128.9L247.8,1125.9L248,1122.9L248.3,1119.9L248.5,1116.9L248.7,1113.9L249,1110.9L249.2,1107.9L249.5,1105L249.7,1102L250,1099L250.2,1096L250.5,1093L250.7,1090L251,1087L251.2,1084.1L251.5,1081.1L251.7,1078.1L252,1075.1L252.3,1072.1L252.5,1069.1L252.8,1066.2L253.1,1063.2L253.4,1060.2L253.6,1057.2L253.9,1054.2L254.2,1051.2L254.5,1048.2L254.7,1045.3L255,1042.3L255.3,1039.3L255.6,1036.3L255.9,1033.3L256.2,1030.4L256.4,1027.4L256.7,1024.4L257,1021.4L257.3,1018.4L257.6,1015.4L257.9,1012.5L258.2,1009.5L258.5,1006.5L258.8,1003.5L259.1,1000.5L259.4,997.6L259.7,994.6L260,991.6L260.3,988.6L260.7,985.6L261,982.6L261.3,979.7L261.6,976.7L261.9,973.7L262.2,970.7L262.5,967.7L262.9,964.8L263.2,961.8L263.5,958.8L263.8,955.8L264.1,952.8L264.5,949.9L264.8,946.9L265.1,943.9L265.4,940.9L265.8,937.9L266.1,935L266.4,932L266.8,929L267.1,926L267.4,923L267.8,920.1L268.1,917.1L268.4,914.1L268.8,911.1L269.1,908.1L269.4,905.2L269.8,902.2L270.1,899.2L270.5,896.2L270.8,893.2L271.1,890.3L271.5,887.3L271.8,884.3L272.2,881.3L272.5,878.3L272.9,875.4L273.2,872.4L273.5,869.4L273.9,866.4L274.2,863.4L274.6,860.5L274.9,857.5L275.3,854.5L275.6,851.5L276,848.5L276.3,845.6L276.7,842.6L277.1,839.6L277.4,836.6L277.8,833.7L278.1,830.7L278.5,827.7L278.8,824.7L279.2,821.7L279.6,818.8L279.9,815.8L280.3,812.8L280.7,809.8L281.1,806.8L281.4,803.9L281.8,800.9L282.2,797.9L282.6,794.9L283,792L283.3,789L283.7,786L284.1,783.1L284.5,780.1L284.9,777.1L285.3,774.1L285.7,771.2L286.2,768.2L286.6,765.2L287,762.3L287.4,759.3L287.8,756.3L288.3,753.4L288.7,750.4L289.1,747.4L289.6,744.5L290,741.5L290.5,738.5L290.9,735.6L291.4,732.6L291.9,729.7L292.3,726.7L292.8,723.7L293.3,720.8L293.8,717.8L294.3,714.9L294.8,711.9L295.3,709L295.8,706L296.3,703.1L296.8,700.1L297.3,697.2L297.9,694.2L298.4,691.3L299,688.3L299.5,685.4L300.1,682.5L300.6,679.5L301.2,676.6L301.8,673.7L302.4,670.7L302.9,667.8L303.5,664.9L304.1,661.9L304.8,659L305.4,656.1L306,653.1L306.6,650.2L307.3,647.3L307.9,644.4L308.6,641.4L309.2,638.5L309.9,635.6L310.5,632.7L311.2,629.8L311.9,626.9L312.6,623.9L313.3,621L314,618.1L314.7,615.2L315.4,612.3L316.1,609.4L316.8,606.5L317.6,603.6L318.3,600.7L319,597.8L319.8,594.9L320.5,592L321.3,589.1L322.1,586.2L322.8,583.3L323.6,580.4L324.4,577.5L325.2,574.6L326,571.7L326.8,568.8L327.6,565.9L328.4,563L329.2,560.1L330,557.2L330.8,554.3L331.6,551.4L332.5,548.5L333.3,545.6L334.2,542.8L335,539.9L335.9,537L336.8,534.1L337.7,531.3L338.6,528.4L339.5,525.5L340.4,522.7L341.4,519.8L342.3,517L343.3,514.2L344.3,511.3L345.3,508.5L346.3,505.7L347.4,502.9L348.4,500.1L349.5,497.3L350.6,494.5L351.8,491.8L352.9,489L354.1,486.3L355.3,483.5L356.5,480.8L357.7,478.1L359,475.4L360.3,472.7L361.6,470L362.9,467.4L364.3,464.7L365.7,462.1L367.1,459.5L368.6,456.9L370.1,454.3L371.6,451.7L373.2,449.2L374.8,446.7L376.4,444.1L378.1,441.6L379.7,439.2L381.5,436.7L383.2,434.3L385,431.8L386.8,429.4L388.7,427.1L390.6,424.7L392.5,422.4L394.4,420L396.4,417.7L398.4,415.5L400.4,413.2L402.4,411L404.5,408.8L406.6,406.6L408.7,404.5L410.8,402.4L413,400.3L415.2,398.2L417.4,396.2L419.6,394.2L421.9,392.2L424.2,390.2L426.5,388.3L428.8,386.4L431.1,384.5L433.5,382.7L435.8,380.9L438.2,379.1L440.6,377.4L443.1,375.7L445.5,374L448,372.3L450.4,370.7L452.9,369.1L455.4,367.5L457.9,365.9L460.5,364.4L463,362.9L465.6,361.4L468.2,359.9L470.8,358.4L473.4,357L476,355.5L478.7,354.1L481.3,352.8L484,351.4L486.7,350L489.4,348.7L492.1,347.4L494.8,346.1L497.5,344.9L500.3,343.7L503,342.4L505.8,341.3L508.6,340.1L511.4,339L514.2,337.9L517,336.8L519.8,335.7L522.6,334.7L525.4,333.7L528.2,332.7L531.1,331.8L533.9,330.8L536.8,330L539.7,329.1L542.5,328.2L545.4,327.4L548.3,326.6L551.2,325.9L554.1,325.1L557,324.4L559.9,323.7L562.8,323L565.7,322.3L568.6,321.7L571.6,321.1L574.5,320.5L577.4,319.9L580.4,319.3L583.3,318.8L586.3,318.2L589.2,317.7L592.2,317.2L595.2,316.7L598.1,316.3L601.1,315.8L604.1,315.4L607,314.9L610,314.5L613,314L615.9,313.6L618.9,313.1L621.9,312.7L624.8,312.2L627.8,311.7L630.8,311.3L633.7,310.8L636.7,310.3L639.7,309.8L642.6,309.3L645.6,308.9L648.6,308.4L651.5,307.9L654.5,307.4L657.4,306.9L660.4,306.4L663.3,305.9L666.3,305.4L669.3,305L672.2,304.5L675.2,304L678.1,303.6L681.1,303.1L684.1,302.7L687,302.3L690,301.8L693,301.4L695.9,301.1L698.9,300.7L701.9,300.3L704.9,300L707.8,299.7L710.8,299.4L713.8,299.1L716.8,298.8L719.8,298.5L722.7,298.2L725.7,298L728.7,297.8L731.7,297.5L734.7,297.3L737.7,297.1L740.7,296.9L743.7,296.7L746.7,296.5L749.7,296.3L752.6,296.1L755.6,296L758.6,295.8L761.6,295.6L764.6,295.4L767.6,295.3L770.6,295.1L773.6,294.9L776.6,294.8L779.6,294.6L782.6,294.4L785.6,294.2L788.6,294L791.6,293.9L794.6,293.7L797.6,293.5L800.6,293.3L803.6,293.1L806.5,292.9L809.5,292.7L812.5,292.5L815.5,292.3L818.5,292.1L821.5,291.9L824.5,291.7L827.5,291.5L830.5,291.3L833.5,291.1L836.5,290.9L839.4,290.7L842.4,290.5L845.4,290.2L848.4,290L851.4,289.8L854.4,289.6L857.4,289.4L860.4,289.2L863.4,289L866.4,288.7L869.3,288.5L872.3,288.3L875.3,288.1L878.3,287.9L881.3,287.7L884.3,287.5L887.3,287.2L890.3,287L893.3,286.8L896.3,286.6L899.2,286.4L902.2,286.2L905.2,286L908.2,285.8L911.2,285.6L914.2,285.3L917.2,285.1L920.2,284.9L923.2,284.7L926.2,284.5L929.1,284.3L932.1,284.1L935.1,283.9L938.1,283.7L941.1,283.5L944.1,283.4L947.1,283.2L950.1,283L953.1,282.8L956.1,282.6L959.1,282.4L962.1,282.2L965,282L968,281.8L971,281.6L974,281.4L977,281.2L980,281L983,280.8L986,280.5L989,280.3L992,280.1L995,279.9L997.9,279.6L1000.9,279.4L1003.9,279.1L1006.9,278.9L1009.9,278.6L1012.9,278.4L1015.9,278.1L1018.8,277.8L1021.8,277.5L1024.8,277.2L1027.8,276.9L1030.8,276.6L1033.8,276.3L1036.7,276L1039.7,275.7L1042.7,275.4L1045.7,275L1048.7,274.7L1051.6,274.4L1054.6,274.1L1057.6,273.7L1060.6,273.4L1063.6,273.1L1066.5,272.8L1069.5,272.4L1072.5,272.1L1075.5,271.8L1078.5,271.5L1081.4,271.2L1084.4,270.8L1087.4,270.5L1090.4,270.2L1093.4,269.9L1096.4,269.6L1099.3,269.3L1102.3,269.1L1105.3,268.8L1108.3,268.5L1111.3,268.2L1114.3,268L1117.3,267.7L1120.2,267.4L1123.2,267.2L1126.2,266.9L1129.2,266.7L1132.2,266.5L1135.2,266.2L1138.2,266L1141.2,265.8L1144.1,265.5L1147.1,265.3L1150.1,265.1L1153.1,264.9L1156.1,264.7L1159.1,264.5L1162.1,264.3L1165.1,264.1L1168.1,263.9L1171.1,263.7L1174.1,263.5L1177,263.3L1180,263.1L1183,263L1186,262.8L1189,262.6L1192,262.4L1195,262.3L1198,262.1L1201,262L1204,261.8L1207,261.7L1210,261.5L1213,261.4L1216,261.2L1219,261.1L1222,261L1225,260.8L1228,260.7L1230.9,260.6L1233.9,260.5L1236.9,260.3L1239.9,260.2L1242.9,260.1L1245.9,260L1248.9,259.9L1251.9,259.8L1254.9,259.7L1257.9,259.6L1260.9,259.5L1263.9,259.4L1266.9,259.3L1269.9,259.2L1272.9,259.1L1275.9,259L1278.9,258.8L1281.9,258.7L1284.9,258.6L1287.9,258.5L1290.9,258.4L1293.9,258.2L1296.9,258.1L1299.8,258L1302.8,257.8L1305.8,257.7L1308.8,257.5L1311.8,257.4L1314.8,257.2L1317.8,257L1320.8,256.8L1323.8,256.6L1326.8,256.4L1329.8,256.2L1332.8,255.9L1335.8,255.7L1338.7,255.5L1341.7,255.2L1344.7,254.9L1347.7,254.6L1350.7,254.3L1353.7,254L1356.7,253.7L1359.6,253.4L1362.6,253.1L1365.6,252.7L1368.6,252.3L1371.5,252L1374.5,251.6L1377.5,251.2L1380.5,250.8L1383.4,250.3L1386.4,249.9L1389.4,249.5L1392.3,249L1395.3,248.5L1398.2,248L1401.2,247.5L1404.2,247L1407.1,246.5L1410.1,246L1413,245.4L1416,244.9L1418.9,244.3L1421.8,243.8L1424.8,243.2L1427.7,242.6L1430.7,242L1433.6,241.4L1436.6,240.9L1439.5,240.3L1442.4,239.7L1445.4,239.1L1448.3,238.5L1451.3,238L1454.2,237.4L1457.2,236.8L1460.1,236.3L1463,235.7L1466,235.2L1468.9,234.7L1471.9,234.2L1474.9,233.7L1477.8,233.2L1480.8,232.7L1483.7,232.3L1486.7,231.8L1489.7,231.4L1492.6,231L1495.6,230.6L1498.6,230.2L1501.6,229.8L1504.5,229.4L1507.5,229.1L1510.5,228.7L1513.5,228.4L1516.5,228L1519.4,227.7L1522.4,227.3L1525.4,227L1528.4,226.6L1531.4,226.3L1534.3,225.9L1537.3,225.6L1540.3,225.2L1543.3,224.9L1546.2,224.5L1549.2,224.1L1552.2,223.7L1555.1,223.3L1558.1,222.9L1561.1,222.5L1564,222.1L1567,221.7L1569.9,221.2L1572.9,220.8L1575.8,220.3L1578.8,219.8L1581.7,219.3L1584.7,218.7L1587.6,218.2L1590.6,217.6L1593.5,217L1596.4,216.4L1599.4,215.8L1602.3,215.2L1605.2,214.5L1608.1,213.8L1611,213.2L1614,212.5L1616.9,211.8L1619.8,211.1L1622.7,210.4L1625.6,209.7L1628.6,209L1631.5,208.3L1634.4,207.7L1637.3,207L1640.3,206.4L1643.2,205.8L1646.1,205.1L1649.1,204.5L1652,203.8L1654.9,203.2L1657.8,202.5L1660.7,201.8L1663.6,201.1L1666.4,200.4L1669.3,199.6L1672.1,198.8L1675,197.9L1677.8,197L1680.6,196.1L1683.4,195.1L1686.2,194.1L1689,193.1L1691.8,192L1694.6,190.8L1697.3,189.6L1700.1,188.3L1702.8,187L1705.5,185.6L1708.3,184.2L1711,182.8L1713.7,181.4L1716.5,180L1719.2,178.7L1722,177.3L1724.7,176L1727.5,174.8L1730.3,173.6L1733.1,172.5L1735.9,171.5L1738.8,170.5L1741.7,169.7L1744.5,169L1747.4,168.4L1750.3,168L1753.2,167.7L1756.1,167.5L1759,167.5L1761.9,167.6L1764.8,168L1767.7,168.5L1770.5,169.2L1773.3,170L1776.1,171L1778.9,172.1L1781.6,173.4L1784.2,174.7L1786.8,176.2L1789.4,177.8L1791.8,179.5L1794.2,181.2L1796.5,183L1798.8,184.9L1801,186.8L1803.1,188.9L1805.2,190.9L1807.2,193.1L1809.1,195.3L1811,197.6L1812.8,199.9L1814.6,202.2L1816.4,204.6L1818,207.1L1819.7,209.6L1821.3,212.1L1822.9,214.7L1824.4,217.3L1825.9,220L1827.3,222.6L1828.8,225.3L1830.2,228.1L1831.6,230.8L1832.9,233.6L1834.2,236.4L1835.6,239.2L1836.8,242L1838.1,244.8L1839.4,247.6L1840.7,250.4L1841.9,253.2L1843.2,256.1L1844.4,258.9L1845.6,261.7L1846.9,264.5L1848.1,267.3L1849.4,270.1L1850.6,272.8L1851.9,275.6L1853.2,278.3L1854.5,281L1855.8,283.6L1857.1,286.3L1858.4,288.9L1859.8,291.6L1861.1,294.2L1862.4,296.8L1863.7,299.4L1865.1,302L1866.4,304.6L1867.7,307.2L1869,309.8L1870.3,312.4L1871.5,315L1872.8,317.6L1874,320.3L1875.2,322.9L1876.4,325.6L1877.6,328.3L1878.7,331L1879.8,333.8L1880.9,336.6L1882,339.4L1883,342.2L1883.9,345.1L1884.9,348L1885.8,350.9L1886.6,353.9L1887.4,357L1888.2,360.1L1888.9,363.2" fill="none" stroke="#00008c" stroke-width="1.7" stroke-linejoin="round" transform="translate(0,0.35)"/>
<polygon points="229.9,1230.6 246.9,1221 246.9,1240.2" fill="#00008c"/>
<polygon points="305.1,608.4 322.1,598.8 322.1,618" fill="#00008c"/>
<polygon points="381.9,421.5 398.9,411.9 398.9,431.1" fill="#00008c"/>
<polygon points="459.1,358.8 476.1,349.2 476.1,368.4" fill="#00008c"/>
<polygon points="536,326.9 553,317.3 553,336.5" fill="#00008c"/>
<polygon points="613.1,312.3 630.1,302.7 630.1,321.9" fill="#00008c"/>
<polygon points="690,300.4 707,290.8 707,310" fill="#00008c"/>
<polygon points="767.6,294.6 784.6,285 784.6,304.2" fill="#00008c"/>
<polygon points="845.1,289.5 862.1,279.9 862.1,299.1" fill="#00008c"/>
<polygon points="922.4,284 939.4,274.4 939.4,293.6" fill="#00008c"/>
<polygon points="1000.3,278.5 1017.3,268.9 1017.3,288.1" fill="#00008c"/>
<polygon points="1078,270.3 1095,260.7 1095,279.9" fill="#00008c"/>
<polygon points="1155.5,264 1172.5,254.4 1172.5,273.6" fill="#00008c"/>
<polygon points="1233.7,260 1250.7,250.4 1250.7,269.6" fill="#00008c"/>
<polygon points="1311.3,256.7 1328.3,247.1 1328.3,266.3" fill="#00008c"/>
<polygon points="1389.6,247.6 1406.6,238 1406.6,257.2" fill="#00008c"/>
<polygon points="1467.7,233 1484.7,223.4 1484.7,242.6" fill="#00008c"/>
<polygon points="1546.1,223 1563.1,213.4 1563.1,232.6" fill="#00008c"/>
<polygon points="1623.1,207.5 1640.1,197.9 1640.1,217.1" fill="#00008c"/>
<polygon points="1701.9,182 1718.9,172.4 1718.9,191.6" fill="#00008c"/>
<polygon points="1780,179.2 1797,169.6 1797,188.8" fill="#00008c"/>
<polygon points="1858.2,310.6 1875.2,301 1875.2,320.2" fill="#00008c"/>
<path d="M241.2,742.9L241.4,739.9L241.7,736.9L241.9,733.9L242.2,730.9L242.4,727.9L242.7,724.9L243,721.9L243.3,718.9L243.6,715.9L243.9,713L244.2,710L244.5,707L244.8,704L245.2,701L245.5,698L245.9,695.1L246.2,692.1L246.6,689.1L247,686.1L247.4,683.2L247.8,680.2L248.2,677.2L248.6,674.3L249,671.3L249.4,668.3L249.8,665.4L250.2,662.4L250.7,659.4L251.1,656.5L251.6,653.5L252,650.6L252.5,647.6L253,644.6L253.4,641.7L253.9,638.7L254.4,635.8L254.9,632.8L255.4,629.9L255.9,626.9L256.4,623.9L256.9,621L257.4,618L257.9,615.1L258.4,612.1L258.9,609.2L259.4,606.2L260,603.3L260.5,600.3L261,597.4L261.6,594.4L262.1,591.5L262.7,588.5L263.2,585.6L263.8,582.6L264.3,579.7L264.9,576.7L265.4,573.8L266,570.8L266.6,567.9L267.1,564.9L267.7,562L268.3,559L268.8,556.1L269.4,553.1L270,550.1L270.6,547.2L271.2,544.2L271.7,541.3L272.3,538.3L272.9,535.4L273.6,532.4L274.2,529.5L274.8,526.6L275.4,523.6L276.1,520.7L276.7,517.8L277.4,514.8L278.1,511.9L278.8,509L279.5,506.1L280.2,503.2L281,500.3L281.7,497.3L282.5,494.5L283.3,491.6L284.1,488.7L284.9,485.8L285.8,482.9L286.6,480.1L287.5,477.2L288.4,474.4L289.3,471.5L290.3,468.7L291.3,465.9L292.3,463L293.3,460.2L294.3,457.4L295.4,454.6L296.5,451.9L297.6,449.1L298.8,446.3L300,443.6L301.2,440.8L302.5,438.1L303.7,435.4L305,432.7L306.4,430L307.8,427.4L309.2,424.7L310.6,422.1L312.1,419.5L313.6,416.9L315.1,414.3L316.6,411.7L318.1,409.1L319.7,406.6L321.3,404L322.9,401.5L324.5,399L326.1,396.5L327.8,394L329.5,391.6L331.2,389.2L333,386.8L334.8,384.4L336.6,382.1L338.5,379.7L340.4,377.4L342.3,375.1L344.2,372.8L346.2,370.5L348.1,368.3L350.1,366L352.2,363.8L354.2,361.6L356.3,359.4L358.4,357.2L360.5,355L362.7,352.9L364.9,350.8L367.1,348.8L369.4,346.8L371.6,344.8L374,342.9L376.3,341.1L378.7,339.3L381.1,337.5L383.6,335.8L386.1,334.2L388.6,332.5L391.2,331L393.8,329.5L396.4,328L399,326.6L401.7,325.2L404.4,323.9L407.1,322.6L409.8,321.4L412.6,320.1L415.3,319L418.1,317.8L420.9,316.7L423.8,315.7L426.6,314.6L429.4,313.6L432.3,312.7L435.1,311.7L438,310.8L440.9,309.9L443.8,309.1L446.6,308.2L449.5,307.4L452.4,306.7L455.3,305.9L458.3,305.2L461.2,304.5L464.1,303.8L467,303.1L469.9,302.5L472.9,301.9L475.8,301.3L478.7,300.7L481.7,300.1L484.6,299.6L487.6,299L490.5,298.5L493.5,298L496.4,297.5L499.4,297L502.4,296.5L505.3,296.1L508.3,295.6L511.3,295.2L514.2,294.8L517.2,294.4L520.2,293.9L523.2,293.5L526.1,293.1L529.1,292.7L532.1,292.3L535.1,292L538.1,291.6L541,291.2L544,290.8L547,290.4L550,290L553,289.7L555.9,289.3L558.9,288.9L561.9,288.5L564.9,288.1L567.8,287.7L570.8,287.4L573.8,287L576.8,286.6L579.8,286.3L582.7,285.9L585.7,285.6L588.7,285.2L591.7,284.9L594.7,284.5L597.6,284.2L600.6,283.8L603.6,283.5L606.6,283.2L609.6,282.9L612.5,282.6L615.5,282.3L618.5,282L621.5,281.8L624.5,281.5L627.5,281.2L630.5,281L633.4,280.8L636.4,280.5L639.4,280.3L642.4,280.1L645.4,279.9L648.4,279.7L651.4,279.5L654.4,279.4L657.4,279.2L660.4,279L663.4,278.9L666.4,278.7L669.4,278.5L672.4,278.4L675.4,278.2L678.4,278.1L681.4,277.9L684.4,277.8L687.4,277.7L690.4,277.5L693.4,277.4L696.4,277.2L699.4,277.1L702.3,276.9L705.3,276.8L708.3,276.7L711.3,276.5L714.3,276.4L717.3,276.2L720.3,276.1L723.3,275.9L726.3,275.8L729.3,275.6L732.3,275.5L735.3,275.4L738.3,275.2L741.3,275.1L744.3,274.9L747.3,274.8L750.3,274.7L753.3,274.5L756.3,274.4L759.3,274.3L762.3,274.1L765.3,274L768.3,273.9L771.3,273.8L774.3,273.7L777.3,273.6L780.3,273.5L783.3,273.4L786.3,273.3L789.3,273.2L792.3,273.1L795.3,273L798.3,272.9L801.3,272.8L804.3,272.7L807.3,272.6L810.3,272.5L813.3,272.5L816.3,272.4L819.3,272.3L822.2,272.2L825.2,272.1L828.2,272L831.2,271.9L834.2,271.8L837.2,271.7L840.2,271.6L843.2,271.5L846.2,271.4L849.2,271.3L852.2,271.2L855.2,271.1L858.2,270.9L861.2,270.8L864.2,270.6L867.2,270.5L870.2,270.3L873.2,270.2L876.2,270L879.2,269.8L882.2,269.7L885.2,269.5L888.2,269.3L891.2,269.2L894.2,269L897.2,268.8L900.2,268.6L903.2,268.4L906.2,268.3L909.2,268.1L912.1,267.9L915.1,267.7L918.1,267.6L921.1,267.4L924.1,267.2L927.1,267L930.1,266.9L933.1,266.7L936.1,266.6L939.1,266.4L942.1,266.3L945.1,266.1L948.1,266L951.1,265.8L954.1,265.7L957.1,265.6L960.1,265.4L963.1,265.3L966.1,265.2L969.1,265L972.1,264.9L975.1,264.8L978,264.6L981,264.5L984,264.4L987,264.2L990,264.1L993,264L996,263.8L999,263.7L1002,263.5L1005,263.4L1008,263.2L1011,263.1L1014,262.9L1017,262.7L1020,262.6L1023,262.4L1026,262.2L1029,262L1032,261.9L1035,261.7L1038,261.5L1041,261.3L1044,261.1L1047,260.9L1050,260.8L1053,260.6L1056,260.4L1059,260.2L1062,260L1065,259.8L1067.9,259.6L1070.9,259.4L1073.9,259.3L1076.9,259.1L1079.9,258.9L1082.9,258.7L1085.9,258.6L1088.9,258.4L1091.9,258.2L1094.9,258.1L1097.9,257.9L1100.9,257.8L1103.9,257.6L1106.9,257.5L1109.9,257.3L1112.9,257.2L1115.9,257L1118.8,256.9L1121.8,256.8L1124.8,256.6L1127.8,256.5L1130.8,256.4L1133.8,256.2L1136.8,256.1L1139.8,255.9L1142.8,255.8L1145.8,255.7L1148.8,255.5L1151.8,255.4L1154.8,255.3L1157.7,255.1L1160.7,255L1163.7,254.8L1166.7,254.7L1169.7,254.5L1172.7,254.4L1175.7,254.2L1178.7,254L1181.7,253.9L1184.7,253.7L1187.7,253.6L1190.7,253.4L1193.7,253.2L1196.7,253L1199.7,252.9L1202.7,252.7L1205.7,252.5L1208.7,252.3L1211.7,252.2L1214.7,252L1217.7,251.8L1220.7,251.6L1223.7,251.4L1226.7,251.2L1229.7,251.1L1232.7,250.9L1235.7,250.7L1238.6,250.5L1241.6,250.3L1244.6,250.1L1247.6,249.9L1250.6,249.7L1253.6,249.5L1256.6,249.3L1259.6,249.1L1262.6,248.9L1265.6,248.8L1268.6,248.6L1271.6,248.4L1274.6,248.2L1277.6,248L1280.6,247.8L1283.6,247.6L1286.6,247.4L1289.6,247.2L1292.6,247L1295.6,246.8L1298.6,246.7L1301.6,246.5L1304.6,246.3L1307.6,246.1L1310.6,245.9L1313.6,245.7L1316.6,245.6L1319.6,245.4L1322.6,245.2L1325.6,245L1328.6,244.9L1331.6,244.7L1334.6,244.5L1337.6,244.4L1340.6,244.2L1343.6,244L1346.6,243.9L1349.6,243.7L1352.5,243.5L1355.5,243.4L1358.5,243.2L1361.5,243.1L1364.5,242.9L1367.5,242.8L1370.5,242.6L1373.5,242.5L1376.5,242.3L1379.5,242.2L1382.5,242L1385.5,241.9L1388.5,241.7L1391.5,241.6L1394.5,241.4L1397.5,241.3L1400.4,241.2L1403.4,241L1406.4,240.9L1409.4,240.7L1412.4,240.6L1415.4,240.5L1418.4,240.3L1421.4,240.2L1424.4,240.1L1427.4,239.9L1430.4,239.8L1433.4,239.7L1436.4,239.5L1439.4,239.4L1442.3,239.3L1445.3,239.1L1448.3,239L1451.3,238.9L1454.3,238.7L1457.3,238.6L1460.3,238.5L1463.3,238.3L1466.3,238.2L1469.3,238.1L1472.3,237.9L1475.3,237.8L1478.3,237.7L1481.3,237.5L1484.2,237.4L1487.2,237.3L1490.2,237.2L1493.2,237L1496.2,236.9L1499.2,236.8L1502.2,236.6L1505.2,236.5L1508.2,236.4L1511.2,236.2L1514.2,236.1L1517.2,236L1520.2,235.8L1523.2,235.7L1526.2,235.6L1529.1,235.4L1532.1,235.3L1535.1,235.1L1538.1,235L1541.1,234.9L1544.1,234.7L1547.1,234.6L1550.1,234.4L1553.1,234.3L1556.1,234.2L1559.1,234L1562.1,233.9L1565.1,233.7L1568.1,233.6L1571.1,233.4L1574.1,233.3L1577.1,233.1L1580.1,233L1583.1,232.8L1586.1,232.7L1589.1,232.5L1592.1,232.4L1595.1,232.2L1598.1,232L1601.1,231.9L1604.1,231.7L1607.1,231.5L1610.1,231.4L1613.1,231.2L1616.1,231L1619.1,230.9L1622.1,230.7L1625.1,230.5L1628.1,230.4L1631.1,230.2L1634.1,230L1637.1,229.8L1640.1,229.6L1643.1,229.4L1646.1,229.3L1649.1,229.1L1652.1,228.9L1655.1,228.7L1658.1,228.5L1661.1,228.3L1664.1,228.1L1667.1,227.9L1670.1,227.7L1673.1,227.5L1676.1,227.3L1679.1,227.1L1682.1,226.8L1685.2,226.6L1688.2,226.4L1691.2,226.2L1694.2,226L1697.2,225.7L1700.2,225.5L1703.2,225.3L1706.2,225.1L1709.2,224.8L1712.2,224.6L1715.3,224.3L1718.3,224.1L1721.3,223.9L1724.3,223.6L1727.3,223.4L1730.3,223.2L1733.3,223L1736.3,222.8L1739.3,222.6L1742.3,222.5L1745.3,222.4L1748.3,222.3L1751.3,222.3L1754.3,222.3L1757.3,222.3L1760.3,222.4L1763.2,222.5L1766.2,222.7L1769.2,222.9L1772.1,223.2L1775.1,223.5L1778,224L1781,224.4L1783.9,225L1786.8,225.6L1789.7,226.3L1792.6,227.1L1795.5,227.9L1798.4,228.8L1801.3,229.8L1804.1,230.9L1806.9,232L1809.7,233.3L1812.5,234.5L1815.3,235.9L1818,237.3L1820.6,238.8L1823.3,240.3L1825.9,241.9L1828.4,243.5L1830.9,245.2L1833.4,246.9L1835.9,248.7L1838.3,250.5L1840.7,252.3L1843,254.2L1845.4,256.1L1847.7,258L1850,259.9L1852.3,261.8L1854.6,263.7L1856.9,265.7L1859.1,267.6L1861.4,269.6L1863.6,271.5L1865.9,273.5L1868.1,275.5L1870.3,277.5L1872.4,279.6L1874.6,281.7L1876.7,283.8L1878.8,285.9L1880.9,288L1883,290.2L1885,292.4L1887.1,294.7L1889,296.9" fill="none" stroke="#8c00ff" stroke-width="1.7" stroke-linejoin="round" transform="translate(0,-0.35)"/>
<path d="M241.2,742.9L241.4,739.9L241.7,736.9L241.9,733.9L242.2,730.9L242.4,727.9L242.7,724.9L243,721.9L243.3,718.9L243.6,715.9L243.9,713L244.2,710L244.5,707L244.8,704L245.2,701L245.5,698L245.9,695.1L246.2,692.1L246.6,689.1L247,686.1L247.4,683.2L247.8,680.2L248.2,677.2L248.6,674.3L249,671.3L249.4,668.3L249.8,665.4L250.2,662.4L250.7,659.4L251.1,656.5L251.6,653.5L252,650.6L252.5,647.6L253,644.6L253.4,641.7L253.9,638.7L254.4,635.8L254.9,632.8L255.4,629.9L255.9,626.9L256.4,623.9L256.9,621L257.4,618L257.9,615.1L258.4,612.1L258.9,609.2L259.4,606.2L260,603.3L260.5,600.3L261,597.4L261.6,594.4L262.1,591.5L262.7,588.5L263.2,585.6L263.8,582.6L264.3,579.7L264.9,576.7L265.4,573.8L266,570.8L266.6,567.9L267.1,564.9L267.7,562L268.3,559L268.8,556.1L269.4,553.1L270,550.1L270.6,547.2L271.2,544.2L271.7,541.3L272.3,538.3L272.9,535.4L273.6,532.4L274.2,529.5L274.8,526.6L275.4,523.6L276.1,520.7L276.7,517.8L277.4,514.8L278.1,511.9L278.8,509L279.5,506.1L280.2,503.2L281,500.3L281.7,497.3L282.5,494.5L283.3,491.6L284.1,488.7L284.9,485.8L285.8,482.9L286.6,480.1L287.5,477.2L288.4,474.4L289.3,471.5L290.3,468.7L291.3,465.9L292.3,463L293.3,460.2L294.3,457.4L295.4,454.6L296.5,451.9L297.6,449.1L298.8,446.3L300,443.6L301.2,440.8L302.5,438.1L303.7,435.4L305,432.7L306.4,430L307.8,427.4L309.2,424.7L310.6,422.1L312.1,419.5L313.6,416.9L315.1,414.3L316.6,411.7L318.1,409.1L319.7,406.6L321.3,404L322.9,401.5L324.5,399L326.1,396.5L327.8,394L329.5,391.6L331.2,389.2L333,386.8L334.8,384.4L336.6,382.1L338.5,379.7L340.4,377.4L342.3,375.1L344.2,372.8L346.2,370.5L348.1,368.3L350.1,366L352.2,363.8L354.2,361.6L356.3,359.4L358.4,357.2L360.5,355L362.7,352.9L364.9,350.8L367.1,348.8L369.4,346.8L371.6,344.8L374,342.9L376.3,341.1L378.7,339.3L381.1,337.5L383.6,335.8L386.1,334.2L388.6,332.5L391.2,331L393.8,329.5L396.4,328L399,326.6L401.7,325.2L404.4,323.9L407.1,322.6L409.8,321.4L412.6,320.1L415.3,319L418.1,317.8L420.9,316.7L423.8,315.7L426.6,314.6L429.4,313.6L432.3,312.7L435.1,311.7L438,310.8L440.9,309.9L443.8,309.1L446.6,308.2L449.5,307.4L452.4,306.7L455.3,305.9L458.3,305.2L461.2,304.5L464.1,303.8L467,303.1L469.9,302.5L472.9,301.9L475.8,301.3L478.7,300.7L481.7,300.1L484.6,299.6L487.6,299L490.5,298.5L493.5,298L496.4,297.5L499.4,297L502.4,296.5L505.3,296.1L508.3,295.6L511.3,295.2L514.2,294.8L517.2,294.4L520.2,293.9L523.2,293.5L526.1,293.1L529.1,292.7L532.1,292.3L535.1,292L538.1,291.6L541,291.2L544,290.8L547,290.4L550,290L553,289.7L555.9,289.3L558.9,288.9L561.9,288.5L564.9,288.1L567.8,287.7L570.8,287.4L573.8,287L576.8,286.6L579.8,286.3L582.7,285.9L585.7,285.6L588.7,285.2L591.7,284.9L594.7,284.5L597.6,284.2L600.6,283.8L603.6,283.5L606.6,283.2L609.6,282.9L612.5,282.6L615.5,282.3L618.5,282L621.5,281.8L624.5,281.5L627.5,281.2L630.5,281L633.4,280.8L636.4,280.5L639.4,280.3L642.4,280.1L645.4,279.9L648.4,279.7L651.4,279.5L654.4,279.4L657.4,279.2L660.4,279L663.4,278.9L666.4,278.7L669.4,278.5L672.4,278.4L675.4,278.2L678.4,278.1L681.4,277.9L684.4,277.8L687.4,277.7L690.4,277.5L693.4,277.4L696.4,277.2L699.4,277.1L702.3,276.9L705.3,276.8L708.3,276.7L711.3,276.5L714.3,276.4L717.3,276.2L720.3,276.1L723.3,275.9L726.3,275.8L729.3,275.6L732.3,275.5L735.3,275.4L738.3,275.2L741.3,275.1L744.3,274.9L747.3,274.8L750.3,274.7L753.3,274.5L756.3,274.4L759.3,274.3L762.3,274.1L765.3,274L768.3,273.9L771.3,273.8L774.3,273.7L777.3,273.6L780.3,273.5L783.3,273.4L786.3,273.3L789.3,273.2L792.3,273.1L795.3,273L798.3,272.9L801.3,272.8L804.3,272.7L807.3,272.6L810.3,272.5L813.3,272.5L816.3,272.4L819.3,272.3L822.2,272.2L825.2,272.1L828.2,272L831.2,271.9L834.2,271.8L837.2,271.7L840.2,271.6L843.2,271.5L846.2,271.4L849.2,271.3L852.2,271.2L855.2,271.1L858.2,270.9L861.2,270.8L864.2,270.6L867.2,270.5L870.2,270.3L873.2,270.2L876.2,270L879.2,269.8L882.2,269.7L885.2,269.5L888.2,269.3L891.2,269.2L894.2,269L897.2,268.8L900.2,268.6L903.2,268.4L906.2,268.3L909.2,268.1L912.1,267.9L915.1,267.7L918.1,267.6L921.1,267.4L924.1,267.2L927.1,267L930.1,266.9L933.1,266.7L936.1,266.6L939.1,266.4L942.1,266.3L945.1,266.1L948.1,266L951.1,265.8L954.1,265.7L957.1,265.6L960.1,265.4L963.1,265.3L966.1,265.2L969.1,265L972.1,264.9L975.1,264.8L978,264.6L981,264.5L984,264.4L987,264.2L990,264.1L993,264L996,263.8L999,263.7L1002,263.5L1005,263.4L1008,263.2L1011,263.1L1014,262.9L1017,262.7L1020,262.6L1023,262.4L1026,262.2L1029,262L1032,261.9L1035,261.7L1038,261.5L1041,261.3L1044,261.1L1047,260.9L1050,260.8L1053,260.6L1056,260.4L1059,260.2L1062,260L1065,259.8L1067.9,259.6L1070.9,259.4L1073.9,259.3L1076.9,259.1L1079.9,258.9L1082.9,258.7L1085.9,258.6L1088.9,258.4L1091.9,258.2L1094.9,258.1L1097.9,257.9L1100.9,257.8L1103.9,257.6L1106.9,257.5L1109.9,257.3L1112.9,257.2L1115.9,257L1118.8,256.9L1121.8,256.8L1124.8,256.6L1127.8,256.5L1130.8,256.4L1133.8,256.2L1136.8,256.1L1139.8,255.9L1142.8,255.8L1145.8,255.7L1148.8,255.5L1151.8,255.4L1154.8,255.3L1157.7,255.1L1160.7,255L1163.7,254.8L1166.7,254.7L1169.7,254.5L1172.7,254.4L1175.7,254.2L1178.7,254L1181.7,253.9L1184.7,253.7L1187.7,253.6L1190.7,253.4L1193.7,253.2L1196.7,253L1199.7,252.9L1202.7,252.7L1205.7,252.5L1208.7,252.3L1211.7,252.2L1214.7,252L1217.7,251.8L1220.7,251.6L1223.7,251.4L1226.7,251.2L1229.7,251.1L1232.7,250.9L1235.7,250.7L1238.6,250.5L1241.6,250.3L1244.6,250.1L1247.6,249.9L1250.6,249.7L1253.6,249.5L1256.6,249.3L1259.6,249.1L1262.6,248.9L1265.6,248.8L1268.6,248.6L1271.6,248.4L1274.6,248.2L1277.6,248L1280.6,247.8L1283.6,247.6L1286.6,247.4L1289.6,247.2L1292.6,247L1295.6,246.8L1298.6,246.7L1301.6,246.5L1304.6,246.3L1307.6,246.1L1310.6,245.9L1313.6,245.7L1316.6,245.6L1319.6,245.4L1322.6,245.2L1325.6,245L1328.6,244.9L1331.6,244.7L1334.6,244.5L1337.6,244.4L1340.6,244.2L1343.6,244L1346.6,243.9L1349.6,243.7L1352.5,243.5L1355.5,243.4L1358.5,243.2L1361.5,243.1L1364.5,242.9L1367.5,242.8L1370.5,242.6L1373.5,242.5L1376.5,242.3L1379.5,242.2L1382.5,242L1385.5,241.9L1388.5,241.7L1391.5,241.6L1394.5,241.4L1397.5,241.3L1400.4,241.2L1403.4,241L1406.4,240.9L1409.4,240.7L1412.4,240.6L1415.4,240.5L1418.4,240.3L1421.4,240.2L1424.4,240.1L1427.4,239.9L1430.4,239.8L1433.4,239.7L1436.4,239.5L1439.4,239.4L1442.3,239.3L1445.3,239.1L1448.3,239L1451.3,238.9L1454.3,238.7L1457.3,238.6L1460.3,238.5L1463.3,238.3L1466.3,238.2L1469.3,238.1L1472.3,237.9L1475.3,237.8L1478.3,237.7L1481.3,237.5L1484.2,237.4L1487.2,237.3L1490.2,237.2L1493.2,237L1496.2,236.9L1499.2,236.8L1502.2,236.6L1505.2,236.5L1508.2,236.4L1511.2,236.2L1514.2,236.1L1517.2,236L1520.2,235.8L1523.2,235.7L1526.2,235.6L1529.1,235.4L1532.1,235.3L1535.1,235.1L1538.1,235L1541.1,234.9L1544.1,234.7L1547.1,234.6L1550.1,234.4L1553.1,234.3L1556.1,234.2L1559.1,234L1562.1,233.9L1565.1,233.7L1568.1,233.6L1571.1,233.4L1574.1,233.3L1577.1,233.1L1580.1,233L1583.1,232.8L1586.1,232.7L1589.1,232.5L1592.1,232.4L1595.1,232.2L1598.1,232L1601.1,231.9L1604.1,231.7L1607.1,231.5L1610.1,231.4L1613.1,231.2L1616.1,231L1619.1,230.9L1622.1,230.7L1625.1,230.5L1628.1,230.4L1631.1,230.2L1634.1,230L1637.1,229.8L1640.1,229.6L1643.1,229.4L1646.1,229.3L1649.1,229.1L1652.1,228.9L1655.1,228.7L1658.1,228.5L1661.1,228.3L1664.1,228.1L1667.1,227.9L1670.1,227.7L1673.1,227.5L1676.1,227.3L1679.1,227.1L1682.1,226.8L1685.2,226.6L1688.2,226.4L1691.2,226.2L1694.2,226L1697.2,225.7L1700.2,225.5L1703.2,225.3L1706.2,225.1L1709.2,224.8L1712.2,224.6L1715.3,224.3L1718.3,224.1L1721.3,223.9L1724.3,223.6L1727.3,223.4L1730.3,223.2L1733.3,223L1736.3,222.8L1739.3,222.6L1742.3,222.5L1745.3,222.4L1748.3,222.3L1751.3,222.3L1754.3,222.3L1757.3,222.3L1760.3,222.4L1763.2,222.5L1766.2,222.7L1769.2,222.9L1772.1,223.2L1775.1,223.5L1778,224L1781,224.4L1783.9,225L1786.8,225.6L1789.7,226.3L1792.6,227.1L1795.5,227.9L1798.4,228.8L1801.3,229.8L1804.1,230.9L1806.9,232L1809.7,233.3L1812.5,234.5L1815.3,235.9L1818,237.3L1820.6,238.8L1823.3,240.3L1825.9,241.9L1828.4,243.5L1830.9,245.2L1833.4,246.9L1835.9,248.7L1838.3,250.5L1840.7,252.3L1843,254.2L1845.4,256.1L1847.7,258L1850,259.9L1852.3,261.8L1854.6,263.7L1856.9,265.7L1859.1,267.6L1861.4,269.6L1863.6,271.5L1865.9,273.5L1868.1,275.5L1870.3,277.5L1872.4,279.6L1874.6,281.7L1876.7,283.8L1878.8,285.9L1880.9,288L1883,290.2L1885,292.4L1887.1,294.7L1889,296.9" fill="none" stroke="#8c00ff" stroke-width="1.7" stroke-linejoin="round" transform="translate(0,0.35)"/>
<polygon points="252.5,742.9 235.5,733.3 235.5,752.5" fill="#8c00ff"/>
<polygon points="327.7,412.3 310.7,402.7 310.7,421.9" fill="#8c00ff"/>
<polygon points="404.5,329.6 387.5,320 387.5,339.2" fill="#8c00ff"/>
<polygon points="481.7,302.3 464.7,292.7 464.7,311.9" fill="#8c00ff"/>
<polygon points="558.6,290.4 541.6,280.8 541.6,300" fill="#8c00ff"/>
<polygon points="635.7,281.5 618.7,271.9 618.7,291.1" fill="#8c00ff"/>
<polygon points="712.6,277 695.6,267.4 695.6,286.6" fill="#8c00ff"/>
<polygon points="790.2,273.5 773.2,263.9 773.2,283.1" fill="#8c00ff"/>
<polygon points="867.7,271 850.7,261.4 850.7,280.6" fill="#8c00ff"/>
<polygon points="945,266.7 928,257.1 928,276.3" fill="#8c00ff"/>
<polygon points="1022.9,263 1005.9,253.4 1005.9,272.6" fill="#8c00ff"/>
<polygon points="1100.6,258.5 1083.6,248.9 1083.6,268.1" fill="#8c00ff"/>
<polygon points="1178.1,254.4 1161.1,244.8 1161.1,264" fill="#8c00ff"/>
<polygon points="1256.3,250.3 1239.3,240.7 1239.3,259.9" fill="#8c00ff"/>
<polygon points="1333.9,245.2 1316.9,235.6 1316.9,254.8" fill="#8c00ff"/>
<polygon points="1412.2,241.2 1395.2,231.6 1395.2,250.8" fill="#8c00ff"/>
<polygon points="1490.3,237.6 1473.3,228 1473.3,247.2" fill="#8c00ff"/>
<polygon points="1568.7,233.9 1551.7,224.3 1551.7,243.5" fill="#8c00ff"/>
<polygon points="1645.7,230 1628.7,220.4 1628.7,239.6" fill="#8c00ff"/>
<polygon points="1724.5,224.8 1707.5,215.2 1707.5,234.4" fill="#8c00ff"/>
<polygon points="1802.6,226.3 1785.6,216.7 1785.6,235.9" fill="#8c00ff"/>
<polygon points="1880.8,276.8 1863.8,267.2 1863.8,286.4" fill="#8c00ff"/>
<path d="M241.2,854.6L241.4,851.6L241.6,848.6L241.9,845.6L242.1,842.6L242.4,839.6L242.6,836.6L242.9,833.6L243.1,830.6L243.4,827.6L243.6,824.6L243.9,821.7L244.2,818.7L244.5,815.7L244.8,812.7L245,809.7L245.3,806.7L245.6,803.7L245.9,800.7L246.2,797.8L246.6,794.8L246.9,791.8L247.2,788.8L247.5,785.8L247.8,782.9L248.2,779.9L248.5,776.9L248.9,773.9L249.2,771L249.6,768L249.9,765L250.3,762L250.6,759.1L251,756.1L251.4,753.1L251.7,750.2L252.1,747.2L252.5,744.2L252.9,741.3L253.3,738.3L253.7,735.3L254.1,732.3L254.5,729.4L254.9,726.4L255.3,723.5L255.7,720.5L256.1,717.5L256.5,714.6L256.9,711.6L257.4,708.6L257.8,705.7L258.2,702.7L258.6,699.7L259.1,696.8L259.5,693.8L260,690.9L260.4,687.9L260.9,684.9L261.3,682L261.8,679L262.2,676L262.7,673.1L263.2,670.1L263.6,667.2L264.1,664.2L264.6,661.2L265,658.3L265.5,655.3L266,652.3L266.5,649.4L267,646.4L267.4,643.5L267.9,640.5L268.4,637.5L268.9,634.6L269.4,631.6L269.9,628.6L270.4,625.7L270.9,622.7L271.4,619.7L271.9,616.8L272.5,613.8L273,610.9L273.5,607.9L274,604.9L274.6,602L275.1,599L275.6,596.1L276.2,593.1L276.7,590.1L277.3,587.2L277.9,584.2L278.5,581.3L279,578.3L279.6,575.4L280.2,572.4L280.8,569.5L281.5,566.6L282.1,563.6L282.7,560.7L283.4,557.8L284,554.8L284.7,551.9L285.4,549L286,546.1L286.7,543.1L287.5,540.2L288.2,537.3L288.9,534.4L289.7,531.5L290.4,528.6L291.2,525.7L292,522.8L292.8,519.9L293.6,517.1L294.4,514.2L295.2,511.3L296.1,508.5L297,505.6L297.9,502.7L298.8,499.9L299.7,497L300.6,494.2L301.6,491.4L302.5,488.5L303.5,485.7L304.5,482.9L305.5,480.1L306.6,477.3L307.6,474.5L308.7,471.7L309.8,468.9L310.9,466.2L312.1,463.4L313.2,460.6L314.4,457.9L315.6,455.1L316.8,452.4L318,449.6L319.3,446.9L320.5,444.2L321.8,441.5L323.1,438.7L324.4,436L325.7,433.3L327,430.6L328.3,427.9L329.6,425.2L330.9,422.5L332.2,419.8L333.6,417.1L334.9,414.4L336.3,411.7L337.6,409L339,406.3L340.4,403.7L341.8,401.1L343.3,398.4L344.8,395.8L346.3,393.3L347.9,390.7L349.5,388.2L351.1,385.7L352.8,383.3L354.5,380.9L356.3,378.5L358.1,376.1L360,373.8L361.9,371.6L363.8,369.3L365.9,367.2L367.9,365L370.1,363L372.2,361L374.5,359L376.8,357.1L379.2,355.2L381.6,353.4L384,351.7L386.5,350L389.1,348.3L391.6,346.7L394.2,345.1L396.8,343.5L399.4,342L402,340.5L404.6,339L407.3,337.6L409.9,336.1L412.6,334.8L415.2,333.4L417.9,332L420.6,330.7L423.3,329.4L426,328.1L428.7,326.9L431.5,325.7L434.2,324.5L436.9,323.3L439.7,322.1L442.5,321L445.2,319.9L448,318.8L450.8,317.7L453.6,316.6L456.4,315.6L459.2,314.6L462,313.6L464.8,312.6L467.6,311.6L470.5,310.7L473.3,309.8L476.2,308.9L479,308L481.9,307.1L484.7,306.3L487.6,305.4L490.5,304.6L493.3,303.8L496.2,303L499.1,302.3L502,301.5L504.9,300.8L507.8,300L510.7,299.3L513.7,298.6L516.6,298L519.5,297.3L522.4,296.7L525.4,296L528.3,295.4L531.2,294.8L534.2,294.2L537.1,293.6L540.1,293.1L543,292.5L546,292L548.9,291.5L551.9,290.9L554.9,290.4L557.8,289.9L560.8,289.5L563.8,289L566.8,288.5L569.7,288.1L572.7,287.7L575.7,287.2L578.7,286.8L581.7,286.4L584.6,286L587.6,285.6L590.6,285.2L593.6,284.9L596.6,284.5L599.6,284.2L602.6,283.8L605.6,283.5L608.6,283.2L611.6,282.8L614.5,282.5L617.5,282.2L620.5,281.9L623.5,281.6L626.5,281.3L629.5,281.1L632.5,280.8L635.5,280.5L638.5,280.3L641.5,280L644.5,279.8L647.4,279.5L650.4,279.3L653.4,279L656.4,278.8L659.4,278.6L662.4,278.4L665.4,278.1L668.4,277.9L671.3,277.7L674.3,277.5L677.3,277.3L680.3,277.1L683.3,276.9L686.3,276.7L689.3,276.6L692.3,276.4L695.2,276.2L698.2,276L701.2,275.9L704.2,275.7L707.2,275.5L710.2,275.4L713.2,275.2L716.2,275.1L719.1,274.9L722.1,274.7L725.1,274.6L728.1,274.4L731.1,274.3L734.1,274.2L737.1,274L740.1,273.9L743.1,273.7L746.1,273.6L749,273.4L752,273.3L755,273.2L758,273L761,272.9L764,272.8L767,272.6L770,272.5L773,272.3L776,272.2L779,272.1L782,271.9L785,271.8L788,271.7L791,271.5L794,271.4L797,271.2L800,271.1L803,271L806,270.8L809,270.7L812,270.6L815,270.5L818,270.4L821,270.3L824,270.2L827,270.1L830,270L833,269.9L836,269.8L839,269.7L842,269.7L845,269.6L848,269.5L851,269.5L854,269.5L857,269.4L860,269.4L863,269.4L866,269.4L869,269.4L872,269.4L875,269.5L878,269.5L881,269.5L884,269.6L887,269.6L890,269.6L893,269.7L896,269.7L899,269.8L902,269.8L905,269.8L908,269.9L911,269.9L914,270L917,270L920,270L923,270L926,270L928.9,270L931.9,270L934.9,270L937.9,270L940.9,270L943.9,270L946.9,269.9L949.9,269.9L952.9,269.8L955.9,269.8L958.9,269.7L961.9,269.6L964.9,269.6L967.9,269.5L970.9,269.4L973.9,269.3L976.9,269.2L979.9,269.2L982.9,269.1L985.9,269L988.9,268.9L992,268.8L995,268.8L998,268.7L1001,268.6L1004,268.6L1007,268.5L1010,268.4L1013,268.4L1016,268.3L1019,268.3L1022,268.2L1025,268.2L1028,268.2L1031,268.2L1034,268.1L1036.9,268.1L1039.9,268.1L1042.9,268.1L1045.9,268.1L1048.9,268.1L1051.9,268.1L1054.9,268.1L1057.9,268.1L1060.9,268.2L1063.9,268.2L1066.9,268.2L1069.9,268.2L1072.9,268.3L1075.9,268.3L1078.9,268.3L1081.9,268.4L1084.9,268.4L1087.9,268.5L1090.9,268.5L1093.9,268.6L1096.9,268.6L1099.9,268.7L1102.9,268.8L1105.9,268.8L1108.9,268.9L1111.9,269L1114.9,269L1117.9,269.1L1120.9,269.2L1123.9,269.2L1126.9,269.3L1129.9,269.4L1132.8,269.5L1135.8,269.6L1138.8,269.7L1141.8,269.7L1144.8,269.8L1147.8,269.9L1150.8,270L1153.8,270.1L1156.8,270.2L1159.8,270.3L1162.8,270.3L1165.8,270.4L1168.8,270.5L1171.8,270.6L1174.8,270.7L1177.8,270.8L1180.8,270.9L1183.8,271L1186.8,271.1L1189.8,271.2L1192.8,271.2L1195.8,271.3L1198.8,271.4L1201.8,271.5L1204.8,271.6L1207.8,271.7L1210.8,271.8L1213.8,271.9L1216.8,272L1219.8,272.1L1222.8,272.1L1225.8,272.2L1228.8,272.3L1231.8,272.4L1234.8,272.5L1237.8,272.6L1240.8,272.7L1243.8,272.8L1246.8,272.8L1249.8,272.9L1252.8,273L1255.8,273.1L1258.8,273.2L1261.8,273.3L1264.8,273.4L1267.8,273.4L1270.8,273.5L1273.8,273.6L1276.8,273.7L1279.8,273.8L1282.8,273.8L1285.8,273.9L1288.8,274L1291.8,274.1L1294.8,274.1L1297.8,274.2L1300.8,274.3L1303.8,274.4L1306.8,274.4L1309.8,274.5L1312.8,274.6L1315.8,274.7L1318.8,274.7L1321.8,274.8L1324.8,274.9L1327.8,274.9L1330.8,275L1333.8,275.1L1336.8,275.1L1339.8,275.2L1342.8,275.3L1345.8,275.3L1348.8,275.4L1351.8,275.4L1354.8,275.5L1357.8,275.5L1360.8,275.6L1363.8,275.6L1366.8,275.7L1369.8,275.7L1372.8,275.8L1375.8,275.8L1378.8,275.9L1381.8,275.9L1384.8,276L1387.7,276L1390.7,276L1393.7,276.1L1396.7,276.1L1399.7,276.2L1402.7,276.2L1405.7,276.2L1408.7,276.3L1411.7,276.3L1414.7,276.3L1417.7,276.3L1420.7,276.4L1423.7,276.4L1426.7,276.4L1429.7,276.4L1432.7,276.5L1435.7,276.5L1438.7,276.5L1441.7,276.5L1444.6,276.5L1447.6,276.6L1450.6,276.6L1453.6,276.6L1456.6,276.6L1459.6,276.7L1462.6,276.7L1465.6,276.7L1468.6,276.7L1471.6,276.7L1474.6,276.8L1477.6,276.8L1480.6,276.8L1483.6,276.9L1486.6,276.9L1489.6,276.9L1492.6,277L1495.6,277L1498.6,277L1501.6,277.1L1504.6,277.1L1507.5,277.2L1510.5,277.2L1513.5,277.3L1516.5,277.3L1519.5,277.4L1522.5,277.4L1525.5,277.5L1528.5,277.6L1531.5,277.6L1534.5,277.7L1537.6,277.8L1540.6,277.9L1543.6,277.9L1546.6,278L1549.6,278.1L1552.6,278.2L1555.6,278.3L1558.6,278.4L1561.6,278.5L1564.6,278.6L1567.6,278.8L1570.6,278.9L1573.6,279L1576.6,279.1L1579.6,279.3L1582.6,279.4L1585.7,279.6L1588.7,279.7L1591.7,279.9L1594.7,280.1L1597.7,280.3L1600.7,280.5L1603.7,280.7L1606.7,280.9L1609.7,281.1L1612.7,281.3L1615.7,281.6L1618.7,281.8L1621.7,282.1L1624.7,282.3L1627.7,282.6L1630.7,282.9L1633.7,283.2L1636.6,283.5L1639.6,283.9L1642.6,284.2L1645.6,284.6L1648.6,284.9L1651.5,285.3L1654.5,285.7L1657.5,286.1L1660.4,286.6L1663.4,287L1666.4,287.4L1669.3,287.9L1672.3,288.4L1675.2,288.9L1678.2,289.4L1681.1,290L1684,290.5L1687,291.1L1689.9,291.7L1692.8,292.3L1695.7,292.9L1698.7,293.5L1701.6,294.2L1704.5,294.9L1707.4,295.6L1710.3,296.3L1713.2,297L1716,297.8L1718.9,298.6L1721.8,299.4L1724.7,300.2L1727.5,301L1730.4,301.9L1733.2,302.8L1736.1,303.7L1738.9,304.6L1741.8,305.6L1744.6,306.5L1747.4,307.5L1750.2,308.6L1753,309.6L1755.8,310.7L1758.6,311.8L1761.4,312.9L1764.2,314L1767,315.2L1769.7,316.4L1772.5,317.6L1775.3,318.9L1778,320.2L1780.7,321.5L1783.5,322.8L1786.2,324.2L1788.9,325.6L1791.6,327L1794.3,328.4L1797,329.9L1799.7,331.4L1802.3,332.9L1805,334.5L1807.7,336.1L1810.3,337.6L1812.9,339.2L1815.6,340.9L1818.2,342.5L1820.8,344.1L1823.4,345.8L1825.9,347.4L1828.5,349.1L1831.1,350.8L1833.6,352.4L1836.1,354.1L1838.7,355.8L1841.2,357.5L1843.7,359.1L1846.2,360.8L1848.6,362.5L1851.1,364.1L1853.5,365.7L1856,367.4L1858.4,369L1860.8,370.6L1863.2,372.2L1865.5,373.7L1867.9,375.3L1870.2,376.8L1872.6,378.3L1874.9,379.8L1877.2,381.4L1879.5,383.1L1881.8,384.8L1884.2,386.7L1886.5,388.8L1888.9,391.1" fill="none" stroke="#960096" stroke-width="1.7" stroke-linejoin="round" transform="translate(0,-0.35)"/>
<path d="M241.2,854.6L241.4,851.6L241.6,848.6L241.9,845.6L242.1,842.6L242.4,839.6L242.6,836.6L242.9,833.6L243.1,830.6L243.4,827.6L243.6,824.6L243.9,821.7L244.2,818.7L244.5,815.7L244.8,812.7L245,809.7L245.3,806.7L245.6,803.7L245.9,800.7L246.2,797.8L246.6,794.8L246.9,791.8L247.2,788.8L247.5,785.8L247.8,782.9L248.2,779.9L248.5,776.9L248.9,773.9L249.2,771L249.6,768L249.9,765L250.3,762L250.6,759.1L251,756.1L251.4,753.1L251.7,750.2L252.1,747.2L252.5,744.2L252.9,741.3L253.3,738.3L253.7,735.3L254.1,732.3L254.5,729.4L254.9,726.4L255.3,723.5L255.7,720.5L256.1,717.5L256.5,714.6L256.9,711.6L257.4,708.6L257.8,705.7L258.2,702.7L258.6,699.7L259.1,696.8L259.5,693.8L260,690.9L260.4,687.9L260.9,684.9L261.3,682L261.8,679L262.2,676L262.7,673.1L263.2,670.1L263.6,667.2L264.1,664.2L264.6,661.2L265,658.3L265.5,655.3L266,652.3L266.5,649.4L267,646.4L267.4,643.5L267.9,640.5L268.4,637.5L268.9,634.6L269.4,631.6L269.9,628.6L270.4,625.7L270.9,622.7L271.4,619.7L271.9,616.8L272.5,613.8L273,610.9L273.5,607.9L274,604.9L274.6,602L275.1,599L275.6,596.1L276.2,593.1L276.7,590.1L277.3,587.2L277.9,584.2L278.5,581.3L279,578.3L279.6,575.4L280.2,572.4L280.8,569.5L281.5,566.6L282.1,563.6L282.7,560.7L283.4,557.8L284,554.8L284.7,551.9L285.4,549L286,546.1L286.7,543.1L287.5,540.2L288.2,537.3L288.9,534.4L289.7,531.5L290.4,528.6L291.2,525.7L292,522.8L292.8,519.9L293.6,517.1L294.4,514.2L295.2,511.3L296.1,508.5L297,505.6L297.9,502.7L298.8,499.9L299.7,497L300.6,494.2L301.6,491.4L302.5,488.5L303.5,485.7L304.5,482.9L305.5,480.1L306.6,477.3L307.6,474.5L308.7,471.7L309.8,468.9L310.9,466.2L312.1,463.4L313.2,460.6L314.4,457.9L315.6,455.1L316.8,452.4L318,449.6L319.3,446.9L320.5,444.2L321.8,441.5L323.1,438.7L324.4,436L325.7,433.3L327,430.6L328.3,427.9L329.6,425.2L330.9,422.5L332.2,419.8L333.6,417.1L334.9,414.4L336.3,411.7L337.6,409L339,406.3L340.4,403.7L341.8,401.1L343.3,398.4L344.8,395.8L346.3,393.3L347.9,390.7L349.5,388.2L351.1,385.7L352.8,383.3L354.5,380.9L356.3,378.5L358.1,376.1L360,373.8L361.9,371.6L363.8,369.3L365.9,367.2L367.9,365L370.1,363L372.2,361L374.5,359L376.8,357.1L379.2,355.2L381.6,353.4L384,351.7L386.5,350L389.1,348.3L391.6,346.7L394.2,345.1L396.8,343.5L399.4,342L402,340.5L404.6,339L407.3,337.6L409.9,336.1L412.6,334.8L415.2,333.4L417.9,332L420.6,330.7L423.3,329.4L426,328.1L428.7,326.9L431.5,325.7L434.2,324.5L436.9,323.3L439.7,322.1L442.5,321L445.2,319.9L448,318.8L450.8,317.7L453.6,316.6L456.4,315.6L459.2,314.6L462,313.6L464.8,312.6L467.6,311.6L470.5,310.7L473.3,309.8L476.2,308.9L479,308L481.9,307.1L484.7,306.3L487.6,305.4L490.5,304.6L493.3,303.8L496.2,303L499.1,302.3L502,301.5L504.9,300.8L507.8,300L510.7,299.3L513.7,298.6L516.6,298L519.5,297.3L522.4,296.7L525.4,296L528.3,295.4L531.2,294.8L534.2,294.2L537.1,293.6L540.1,293.1L543,292.5L546,292L548.9,291.5L551.9,290.9L554.9,290.4L557.8,289.9L560.8,289.5L563.8,289L566.8,288.5L569.7,288.1L572.7,287.7L575.7,287.2L578.7,286.8L581.7,286.4L584.6,286L587.6,285.6L590.6,285.2L593.6,284.9L596.6,284.5L599.6,284.2L602.6,283.8L605.6,283.5L608.6,283.2L611.6,282.8L614.5,282.5L617.5,282.2L620.5,281.9L623.5,281.6L626.5,281.3L629.5,281.1L632.5,280.8L635.5,280.5L638.5,280.3L641.5,280L644.5,279.8L647.4,279.5L650.4,279.3L653.4,279L656.4,278.8L659.4,278.6L662.4,278.4L665.4,278.1L668.4,277.9L671.3,277.7L674.3,277.5L677.3,277.3L680.3,277.1L683.3,276.9L686.3,276.7L689.3,276.6L692.3,276.4L695.2,276.2L698.2,276L701.2,275.9L704.2,275.7L707.2,275.5L710.2,275.4L713.2,275.2L716.2,275.1L719.1,274.9L722.1,274.7L725.1,274.6L728.1,274.4L731.1,274.3L734.1,274.2L737.1,274L740.1,273.9L743.1,273.7L746.1,273.6L749,273.4L752,273.3L755,273.2L758,273L761,272.9L764,272.8L767,272.6L770,272.5L773,272.3L776,272.2L779,272.1L782,271.9L785,271.8L788,271.7L791,271.5L794,271.4L797,271.2L800,271.1L803,271L806,270.8L809,270.7L812,270.6L815,270.5L818,270.4L821,270.3L824,270.2L827,270.1L830,270L833,269.9L836,269.8L839,269.7L842,269.7L845,269.6L848,269.5L851,269.5L854,269.5L857,269.4L860,269.4L863,269.4L866,269.4L869,269.4L872,269.4L875,269.5L878,269.5L881,269.5L884,269.6L887,269.6L890,269.6L893,269.7L896,269.7L899,269.8L902,269.8L905,269.8L908,269.9L911,269.9L914,270L917,270L920,270L923,270L926,270L928.9,270L931.9,270L934.9,270L937.9,270L940.9,270L943.9,270L946.9,269.9L949.9,269.9L952.9,269.8L955.9,269.8L958.9,269.7L961.9,269.6L964.9,269.6L967.9,269.5L970.9,269.4L973.9,269.3L976.9,269.2L979.9,269.2L982.9,269.1L985.9,269L988.9,268.9L992,268.8L995,268.8L998,268.7L1001,268.6L1004,268.6L1007,268.5L1010,268.4L1013,268.4L1016,268.3L1019,268.3L1022,268.2L1025,268.2L1028,268.2L1031,268.2L1034,268.1L1036.9,268.1L1039.9,268.1L1042.9,268.1L1045.9,268.1L1048.9,268.1L1051.9,268.1L1054.9,268.1L1057.9,268.1L1060.9,268.2L1063.9,268.2L1066.9,268.2L1069.9,268.2L1072.9,268.3L1075.9,268.3L1078.9,268.3L1081.9,268.4L1084.9,268.4L1087.9,268.5L1090.9,268.5L1093.9,268.6L1096.9,268.6L1099.9,268.7L1102.9,268.8L1105.9,268.8L1108.9,268.9L1111.9,269L1114.9,269L1117.9,269.1L1120.9,269.2L1123.9,269.2L1126.9,269.3L1129.9,269.4L1132.8,269.5L1135.8,269.6L1138.8,269.7L1141.8,269.7L1144.8,269.8L1147.8,269.9L1150.8,270L1153.8,270.1L1156.8,270.2L1159.8,270.3L1162.8,270.3L1165.8,270.4L1168.8,270.5L1171.8,270.6L1174.8,270.7L1177.8,270.8L1180.8,270.9L1183.8,271L1186.8,271.1L1189.8,271.2L1192.8,271.2L1195.8,271.3L1198.8,271.4L1201.8,271.5L1204.8,271.6L1207.8,271.7L1210.8,271.8L1213.8,271.9L1216.8,272L1219.8,272.1L1222.8,272.1L1225.8,272.2L1228.8,272.3L1231.8,272.4L1234.8,272.5L1237.8,272.6L1240.8,272.7L1243.8,272.8L1246.8,272.8L1249.8,272.9L1252.8,273L1255.8,273.1L1258.8,273.2L1261.8,273.3L1264.8,273.4L1267.8,273.4L1270.8,273.5L1273.8,273.6L1276.8,273.7L1279.8,273.8L1282.8,273.8L1285.8,273.9L1288.8,274L1291.8,274.1L1294.8,274.1L1297.8,274.2L1300.8,274.3L1303.8,274.4L1306.8,274.4L1309.8,274.5L1312.8,274.6L1315.8,274.7L1318.8,274.7L1321.8,274.8L1324.8,274.9L1327.8,274.9L1330.8,275L1333.8,275.1L1336.8,275.1L1339.8,275.2L1342.8,275.3L1345.8,275.3L1348.8,275.4L1351.8,275.4L1354.8,275.5L1357.8,275.5L1360.8,275.6L1363.8,275.6L1366.8,275.7L1369.8,275.7L1372.8,275.8L1375.8,275.8L1378.8,275.9L1381.8,275.9L1384.8,276L1387.7,276L1390.7,276L1393.7,276.1L1396.7,276.1L1399.7,276.2L1402.7,276.2L1405.7,276.2L1408.7,276.3L1411.7,276.3L1414.7,276.3L1417.7,276.3L1420.7,276.4L1423.7,276.4L1426.7,276.4L1429.7,276.4L1432.7,276.5L1435.7,276.5L1438.7,276.5L1441.7,276.5L1444.6,276.5L1447.6,276.6L1450.6,276.6L1453.6,276.6L1456.6,276.6L1459.6,276.7L1462.6,276.7L1465.6,276.7L1468.6,276.7L1471.6,276.7L1474.6,276.8L1477.6,276.8L1480.6,276.8L1483.6,276.9L1486.6,276.9L1489.6,276.9L1492.6,277L1495.6,277L1498.6,277L1501.6,277.1L1504.6,277.1L1507.5,277.2L1510.5,277.2L1513.5,277.3L1516.5,277.3L1519.5,277.4L1522.5,277.4L1525.5,277.5L1528.5,277.6L1531.5,277.6L1534.5,277.7L1537.6,277.8L1540.6,277.9L1543.6,277.9L1546.6,278L1549.6,278.1L1552.6,278.2L1555.6,278.3L1558.6,278.4L1561.6,278.5L1564.6,278.6L1567.6,278.8L1570.6,278.9L1573.6,279L1576.6,279.1L1579.6,279.3L1582.6,279.4L1585.7,279.6L1588.7,279.7L1591.7,279.9L1594.7,280.1L1597.7,280.3L1600.7,280.5L1603.7,280.7L1606.7,280.9L1609.7,281.1L1612.7,281.3L1615.7,281.6L1618.7,281.8L1621.7,282.1L1624.7,282.3L1627.7,282.6L1630.7,282.9L1633.7,283.2L1636.6,283.5L1639.6,283.9L1642.6,284.2L1645.6,284.6L1648.6,284.9L1651.5,285.3L1654.5,285.7L1657.5,286.1L1660.4,286.6L1663.4,287L1666.4,287.4L1669.3,287.9L1672.3,288.4L1675.2,288.9L1678.2,289.4L1681.1,290L1684,290.5L1687,291.1L1689.9,291.7L1692.8,292.3L1695.7,292.9L1698.7,293.5L1701.6,294.2L1704.5,294.9L1707.4,295.6L1710.3,296.3L1713.2,297L1716,297.8L1718.9,298.6L1721.8,299.4L1724.7,300.2L1727.5,301L1730.4,301.9L1733.2,302.8L1736.1,303.7L1738.9,304.6L1741.8,305.6L1744.6,306.5L1747.4,307.5L1750.2,308.6L1753,309.6L1755.8,310.7L1758.6,311.8L1761.4,312.9L1764.2,314L1767,315.2L1769.7,316.4L1772.5,317.6L1775.3,318.9L1778,320.2L1780.7,321.5L1783.5,322.8L1786.2,324.2L1788.9,325.6L1791.6,327L1794.3,328.4L1797,329.9L1799.7,331.4L1802.3,332.9L1805,334.5L1807.7,336.1L1810.3,337.6L1812.9,339.2L1815.6,340.9L1818.2,342.5L1820.8,344.1L1823.4,345.8L1825.9,347.4L1828.5,349.1L1831.1,350.8L1833.6,352.4L1836.1,354.1L1838.7,355.8L1841.2,357.5L1843.7,359.1L1846.2,360.8L1848.6,362.5L1851.1,364.1L1853.5,365.7L1856,367.4L1858.4,369L1860.8,370.6L1863.2,372.2L1865.5,373.7L1867.9,375.3L1870.2,376.8L1872.6,378.3L1874.9,379.8L1877.2,381.4L1879.5,383.1L1881.8,384.8L1884.2,386.7L1886.5,388.8L1888.9,391.1" fill="none" stroke="#960096" stroke-width="1.7" stroke-linejoin="round" transform="translate(0,0.35)"/>
<polygon points="241.2,845.5 249.5,850.1 249.5,859.1 241.2,863.7 232.9,859.1 232.9,850.1" fill="#960096"/>
<polygon points="316.4,444.2 324.7,448.8 324.7,457.8 316.4,462.4 308.1,457.8 308.1,448.8" fill="#960096"/>
<polygon points="393.2,336.9 401.5,341.5 401.5,350.5 393.2,355.1 384.9,350.5 384.9,341.5" fill="#960096"/>
<polygon points="470.4,301.4 478.7,306 478.7,315 470.4,319.6 462.1,315 462.1,306" fill="#960096"/>
<polygon points="547.3,283.1 555.6,287.7 555.6,296.7 547.3,301.3 539,296.7 539,287.7" fill="#960096"/>
<polygon points="624.4,272.2 632.7,276.8 632.7,285.8 624.4,290.4 616.1,285.8 616.1,276.8" fill="#960096"/>
<polygon points="701.3,266.7 709.6,271.3 709.6,280.3 701.3,284.9 693,280.3 693,271.3" fill="#960096"/>
<polygon points="778.9,263.1 787.2,267.7 787.2,276.7 778.9,281.3 770.6,276.7 770.6,267.7" fill="#960096"/>
<polygon points="856.4,260.3 864.7,264.9 864.7,273.9 856.4,278.5 848.1,273.9 848.1,264.9" fill="#960096"/>
<polygon points="933.7,260.9 942,265.5 942,274.5 933.7,279.1 925.4,274.5 925.4,265.5" fill="#960096"/>
<polygon points="1011.6,259.4 1019.9,264 1019.9,273 1011.6,277.6 1003.3,273 1003.3,264" fill="#960096"/>
<polygon points="1089.3,259.4 1097.6,264 1097.6,273 1089.3,277.6 1081,273 1081,264" fill="#960096"/>
<polygon points="1166.8,261.1 1175.1,265.7 1175.1,274.7 1166.8,279.3 1158.5,274.7 1158.5,265.7" fill="#960096"/>
<polygon points="1245,263.9 1253.3,268.5 1253.3,277.5 1245,282.1 1236.7,277.5 1236.7,268.5" fill="#960096"/>
<polygon points="1322.6,265.9 1330.9,270.5 1330.9,279.5 1322.6,284.1 1314.3,279.5 1314.3,270.5" fill="#960096"/>
<polygon points="1400.9,266.8 1409.2,271.4 1409.2,280.4 1400.9,285 1392.6,280.4 1392.6,271.4" fill="#960096"/>
<polygon points="1479,267.7 1487.3,272.3 1487.3,281.3 1479,285.9 1470.7,281.3 1470.7,272.3" fill="#960096"/>
<polygon points="1557.4,269.5 1565.7,274.1 1565.7,283.1 1557.4,287.7 1549.1,283.1 1549.1,274.1" fill="#960096"/>
<polygon points="1634.4,274.1 1642.7,278.7 1642.7,287.7 1634.4,292.3 1626.1,287.7 1626.1,278.7" fill="#960096"/>
<polygon points="1713.2,287.8 1721.5,292.4 1721.5,301.4 1713.2,306 1704.9,301.4 1704.9,292.4" fill="#960096"/>
<polygon points="1791.3,317.9 1799.6,322.5 1799.6,331.5 1791.3,336.1 1783,331.5 1783,322.5" fill="#960096"/>
<polygon points="1869.5,367.1 1877.8,371.7 1877.8,380.7 1869.5,385.3 1861.2,380.7 1861.2,371.7" fill="#960096"/>
<path d="M241.2,482L242.1,479.2L243,476.3L243.8,473.5L244.7,470.7L245.5,467.8L246.3,464.9L247.1,462L247.9,459.2L248.7,456.3L249.5,453.4L250.3,450.5L251,447.6L251.8,444.6L252.6,441.7L253.3,438.8L254.1,435.9L254.9,433L255.7,430L256.5,427.1L257.3,424.2L258.1,421.3L258.9,418.4L259.7,415.5L260.6,412.6L261.4,409.7L262.3,406.8L263.2,403.9L264.2,401.1L265.1,398.2L266.1,395.4L267.1,392.5L268.1,389.7L269.1,386.9L270.2,384.1L271.3,381.3L272.5,378.5L273.7,375.8L274.9,373L276.1,370.3L277.4,367.6L278.7,364.9L280.1,362.3L281.5,359.7L283,357L284.5,354.5L286,351.9L287.6,349.4L289.3,346.8L290.9,344.4L292.7,341.9L294.4,339.5L296.2,337.1L298.1,334.8L300,332.5L301.9,330.2L303.9,328L305.9,325.8L308,323.6L310.1,321.5L312.2,319.5L314.4,317.5L316.7,315.5L319,313.6L321.3,311.7L323.7,309.9L326.1,308.1L328.6,306.4L331.1,304.7L333.6,303L336.1,301.4L338.7,299.9L341.3,298.4L343.9,296.9L346.6,295.5L349.2,294.1L351.9,292.7L354.6,291.4L357.3,290.2L360.1,288.9L362.8,287.8L365.6,286.6L368.4,285.5L371.1,284.5L373.9,283.5L376.8,282.5L379.6,281.6L382.4,280.7L385.3,279.8L388.1,279L391,278.2L393.9,277.5L396.8,276.7L399.7,276.1L402.6,275.4L405.5,274.8L408.4,274.2L411.3,273.6L414.3,273.1L417.2,272.6L420.2,272.1L423.1,271.6L426.1,271.2L429.1,270.8L432,270.4L435,270L438,269.6L441,269.3L444,268.9L447,268.6L450,268.3L453,268L456,267.7L459,267.4L462,267.2L465,266.9L468,266.7L471,266.4L474,266.2L477,265.9L480,265.7L483,265.5L486,265.2L489,265L492,264.8L495,264.6L498,264.4L501,264.1L504,263.9L507,263.7L510,263.5L513,263.4L516,263.2L519,263L522,262.8L525,262.6L528,262.4L530.9,262.3L533.9,262.1L536.9,261.9L539.9,261.8L542.9,261.6L545.9,261.4L548.9,261.3L551.9,261.1L554.9,261L557.9,260.8L560.9,260.7L563.9,260.6L566.9,260.4L569.9,260.3L572.9,260.2L575.9,260L578.9,259.9L581.9,259.8L584.9,259.6L587.8,259.5L590.8,259.4L593.8,259.3L596.8,259.2L599.8,259.1L602.8,259L605.8,258.8L608.8,258.7L611.8,258.6L614.8,258.5L617.8,258.4L620.8,258.3L623.8,258.2L626.8,258.1L629.8,258L632.8,257.9L635.8,257.9L638.8,257.8L641.7,257.7L644.7,257.6L647.7,257.5L650.7,257.4L653.7,257.3L656.7,257.3L659.7,257.2L662.7,257.1L665.7,257L668.7,256.9L671.7,256.9L674.7,256.8L677.7,256.7L680.7,256.6L683.7,256.6L686.7,256.5L689.7,256.4L692.7,256.4L695.7,256.3L698.7,256.2L701.7,256.2L704.7,256.1L707.7,256L710.7,256L713.7,255.9L716.7,255.9L719.7,255.8L722.7,255.8L725.7,255.7L728.7,255.6L731.6,255.6L734.6,255.5L737.6,255.5L740.6,255.4L743.6,255.4L746.6,255.3L749.6,255.3L752.6,255.2L755.6,255.2L758.6,255.1L761.6,255.1L764.6,255L767.6,255L770.6,255L773.6,254.9L776.6,254.9L779.6,254.8L782.6,254.8L785.6,254.7L788.6,254.7L791.6,254.7L794.6,254.6L797.6,254.6L800.6,254.5L803.6,254.5L806.6,254.5L809.6,254.4L812.6,254.4L815.6,254.3L818.6,254.3L821.6,254.3L824.6,254.2L827.6,254.2L830.6,254.2L833.6,254.1L836.6,254.1L839.6,254L842.6,254L845.6,254L848.6,253.9L851.6,253.9L854.6,253.9L857.6,253.8L860.6,253.8L863.6,253.8L866.6,253.7L869.6,253.7L872.6,253.6L875.6,253.6L878.6,253.6L881.6,253.5L884.6,253.5L887.6,253.5L890.6,253.4L893.6,253.4L896.6,253.3L899.6,253.3L902.6,253.3L905.6,253.2L908.6,253.2L911.6,253.1L914.6,253.1L917.6,253.1L920.6,253L923.6,253L926.6,252.9L929.6,252.9L932.6,252.9L935.6,252.8L938.6,252.8L941.6,252.7L944.6,252.7L947.6,252.6L950.6,252.6L953.6,252.5L956.6,252.5L959.6,252.4L962.6,252.4L965.6,252.3L968.6,252.3L971.6,252.2L974.6,252.2L977.6,252.1L980.6,252.1L983.6,252L986.6,252L989.6,251.9L992.6,251.9L995.6,251.8L998.6,251.7L1001.6,251.7L1004.6,251.6L1007.6,251.6L1010.5,251.5L1013.5,251.4L1016.5,251.4L1019.5,251.3L1022.5,251.2L1025.5,251.2L1028.5,251.1L1031.5,251L1034.5,251L1037.5,250.9L1040.5,250.8L1043.5,250.8L1046.5,250.7L1049.5,250.6L1052.5,250.5L1055.5,250.5L1058.5,250.4L1061.5,250.3L1064.5,250.3L1067.5,250.2L1070.5,250.1L1073.5,250.1L1076.5,250L1079.5,249.9L1082.5,249.8L1085.5,249.8L1088.5,249.7L1091.5,249.7L1094.5,249.6L1097.5,249.5L1100.5,249.5L1103.5,249.4L1106.5,249.3L1109.5,249.3L1112.5,249.2L1115.5,249.2L1118.5,249.1L1121.5,249.1L1124.4,249L1127.4,249L1130.4,248.9L1133.4,248.9L1136.4,248.9L1139.4,248.8L1142.4,248.8L1145.4,248.7L1148.4,248.7L1151.4,248.7L1154.4,248.7L1157.4,248.6L1160.4,248.6L1163.4,248.6L1166.4,248.6L1169.4,248.6L1172.4,248.6L1175.4,248.6L1178.4,248.6L1181.4,248.6L1184.4,248.6L1187.4,248.6L1190.4,248.6L1193.4,248.6L1196.4,248.6L1199.4,248.6L1202.4,248.6L1205.4,248.6L1208.4,248.6L1211.4,248.7L1214.4,248.7L1217.4,248.7L1220.4,248.7L1223.4,248.7L1226.4,248.8L1229.4,248.8L1232.4,248.8L1235.4,248.8L1238.4,248.9L1241.4,248.9L1244.4,248.9L1247.4,248.9L1250.4,249L1253.4,249L1256.4,249L1259.4,249L1262.4,249.1L1265.4,249.1L1268.4,249.1L1271.4,249.1L1274.4,249.2L1277.4,249.2L1280.4,249.2L1283.4,249.2L1286.4,249.2L1289.4,249.2L1292.4,249.3L1295.4,249.3L1298.4,249.3L1301.4,249.3L1304.4,249.3L1307.4,249.3L1310.4,249.3L1313.4,249.3L1316.4,249.3L1319.4,249.3L1322.4,249.2L1325.4,249.2L1328.4,249.2L1331.4,249.2L1334.4,249.2L1337.4,249.1L1340.4,249.1L1343.4,249.1L1346.4,249.1L1349.4,249L1352.4,249L1355.4,249L1358.4,248.9L1361.4,248.9L1364.4,248.9L1367.4,248.8L1370.4,248.8L1373.3,248.8L1376.3,248.8L1379.3,248.7L1382.3,248.7L1385.3,248.7L1388.3,248.7L1391.3,248.6L1394.3,248.6L1397.3,248.6L1400.3,248.6L1403.3,248.6L1406.3,248.6L1409.3,248.6L1412.3,248.6L1415.3,248.6L1418.3,248.6L1421.3,248.6L1424.3,248.6L1427.3,248.6L1430.3,248.7L1433.3,248.7L1436.3,248.7L1439.3,248.7L1442.3,248.7L1445.3,248.8L1448.3,248.8L1451.3,248.8L1454.3,248.8L1457.3,248.9L1460.3,248.9L1463.3,248.9L1466.3,248.9L1469.3,248.9L1472.3,249L1475.3,249L1478.3,249L1481.3,249L1484.3,249L1487.3,249L1490.3,249L1493.3,249L1496.3,249.1L1499.3,249.1L1502.3,249.1L1505.3,249.1L1508.3,249.1L1511.3,249.1L1514.3,249.1L1517.3,249.1L1520.3,249.1L1523.3,249.1L1526.3,249.1L1529.3,249.1L1532.3,249.1L1535.3,249.1L1538.3,249.1L1541.3,249.1L1544.3,249.1L1547.3,249.1L1550.3,249.2L1553.3,249.2L1556.3,249.2L1559.3,249.2L1562.3,249.3L1565.3,249.3L1568.3,249.3L1571.3,249.4L1574.3,249.4L1577.3,249.4L1580.3,249.5L1583.3,249.5L1586.3,249.6L1589.3,249.7L1592.3,249.7L1595.3,249.8L1598.2,249.9L1601.2,249.9L1604.2,250L1607.2,250.1L1610.2,250.2L1613.2,250.3L1616.2,250.4L1619.2,250.5L1622.2,250.7L1625.2,250.8L1628.2,250.9L1631.2,251.1L1634.2,251.2L1637.2,251.4L1640.2,251.5L1643.2,251.7L1646.2,251.9L1649.1,252.1L1652.1,252.3L1655.1,252.5L1658.1,252.7L1661.1,252.9L1664.1,253.1L1667.1,253.3L1670.1,253.6L1673.1,253.8L1676.1,254.1L1679.1,254.3L1682,254.6L1685,254.8L1688,255.1L1691,255.4L1694,255.7L1697,256L1700,256.3L1703,256.6L1705.9,256.9L1708.9,257.2L1711.9,257.6L1714.9,257.9L1717.9,258.3L1720.9,258.6L1723.9,259L1726.9,259.3L1729.8,259.7L1732.8,260.1L1735.8,260.5L1738.8,260.9L1741.7,261.3L1744.7,261.8L1747.7,262.2L1750.7,262.7L1753.6,263.2L1756.6,263.7L1759.5,264.2L1762.5,264.8L1765.4,265.3L1768.4,265.9L1771.3,266.5L1774.2,267.1L1777.2,267.8L1780.1,268.5L1783,269.2L1785.9,269.9L1788.8,270.6L1791.7,271.4L1794.6,272.2L1797.4,273L1800.3,273.9L1803.2,274.8L1806,275.7L1808.9,276.6L1811.7,277.6L1814.6,278.5L1817.4,279.5L1820.2,280.6L1823,281.6L1825.8,282.7L1828.6,283.7L1831.4,284.8L1834.2,285.9L1837,287.1L1839.8,288.2L1842.6,289.4L1845.3,290.5L1848.1,291.7L1850.9,292.9L1853.6,294.1L1856.4,295.4L1859.1,296.6L1861.8,297.8L1864.6,299.1L1867.3,300.4L1870,301.6L1872.7,302.9L1875.5,304.2L1878.2,305.5L1880.9,306.8L1883.6,308.1L1886.3,309.4L1889,310.7" fill="none" stroke="#a00000" stroke-width="1.7" stroke-linejoin="round" transform="translate(0,-0.35)"/>
<path d="M241.2,482L242.1,479.2L243,476.3L243.8,473.5L244.7,470.7L245.5,467.8L246.3,464.9L247.1,462L247.9,459.2L248.7,456.3L249.5,453.4L250.3,450.5L251,447.6L251.8,444.6L252.6,441.7L253.3,438.8L254.1,435.9L254.9,433L255.7,430L256.5,427.1L257.3,424.2L258.1,421.3L258.9,418.4L259.7,415.5L260.6,412.6L261.4,409.7L262.3,406.8L263.2,403.9L264.2,401.1L265.1,398.2L266.1,395.4L267.1,392.5L268.1,389.7L269.1,386.9L270.2,384.1L271.3,381.3L272.5,378.5L273.7,375.8L274.9,373L276.1,370.3L277.4,367.6L278.7,364.9L280.1,362.3L281.5,359.7L283,357L284.5,354.5L286,351.9L287.6,349.4L289.3,346.8L290.9,344.4L292.7,341.9L294.4,339.5L296.2,337.1L298.1,334.8L300,332.5L301.9,330.2L303.9,328L305.9,325.8L308,323.6L310.1,321.5L312.2,319.5L314.4,317.5L316.7,315.5L319,313.6L321.3,311.7L323.7,309.9L326.1,308.1L328.6,306.4L331.1,304.7L333.6,303L336.1,301.4L338.7,299.9L341.3,298.4L343.9,296.9L346.6,295.5L349.2,294.1L351.9,292.7L354.6,291.4L357.3,290.2L360.1,288.9L362.8,287.8L365.6,286.6L368.4,285.5L371.1,284.5L373.9,283.5L376.8,282.5L379.6,281.6L382.4,280.7L385.3,279.8L388.1,279L391,278.2L393.9,277.5L396.8,276.7L399.7,276.1L402.6,275.4L405.5,274.8L408.4,274.2L411.3,273.6L414.3,273.1L417.2,272.6L420.2,272.1L423.1,271.6L426.1,271.2L429.1,270.8L432,270.4L435,270L438,269.6L441,269.3L444,268.9L447,268.6L450,268.3L453,268L456,267.7L459,267.4L462,267.2L465,266.9L468,266.7L471,266.4L474,266.2L477,265.9L480,265.7L483,265.5L486,265.2L489,265L492,264.8L495,264.6L498,264.4L501,264.1L504,263.9L507,263.7L510,263.5L513,263.4L516,263.2L519,263L522,262.8L525,262.6L528,262.4L530.9,262.3L533.9,262.1L536.9,261.9L539.9,261.8L542.9,261.6L545.9,261.4L548.9,261.3L551.9,261.1L554.9,261L557.9,260.8L560.9,260.7L563.9,260.6L566.9,260.4L569.9,260.3L572.9,260.2L575.9,260L578.9,259.9L581.9,259.8L584.9,259.6L587.8,259.5L590.8,259.4L593.8,259.3L596.8,259.2L599.8,259.1L602.8,259L605.8,258.8L608.8,258.7L611.8,258.6L614.8,258.5L617.8,258.4L620.8,258.3L623.8,258.2L626.8,258.1L629.8,258L632.8,257.9L635.8,257.9L638.8,257.8L641.7,257.7L644.7,257.6L647.7,257.5L650.7,257.4L653.7,257.3L656.7,257.3L659.7,257.2L662.7,257.1L665.7,257L668.7,256.9L671.7,256.9L674.7,256.8L677.7,256.7L680.7,256.6L683.7,256.6L686.7,256.5L689.7,256.4L692.7,256.4L695.7,256.3L698.7,256.2L701.7,256.2L704.7,256.1L707.7,256L710.7,256L713.7,255.9L716.7,255.9L719.7,255.8L722.7,255.8L725.7,255.7L728.7,255.6L731.6,255.6L734.6,255.5L737.6,255.5L740.6,255.4L743.6,255.4L746.6,255.3L749.6,255.3L752.6,255.2L755.6,255.2L758.6,255.1L761.6,255.1L764.6,255L767.6,255L770.6,255L773.6,254.9L776.6,254.9L779.6,254.8L782.6,254.8L785.6,254.7L788.6,254.7L791.6,254.7L794.6,254.6L797.6,254.6L800.6,254.5L803.6,254.5L806.6,254.5L809.6,254.4L812.6,254.4L815.6,254.3L818.6,254.3L821.6,254.3L824.6,254.2L827.6,254.2L830.6,254.2L833.6,254.1L836.6,254.1L839.6,254L842.6,254L845.6,254L848.6,253.9L851.6,253.9L854.6,253.9L857.6,253.8L860.6,253.8L863.6,253.8L866.6,253.7L869.6,253.7L872.6,253.6L875.6,253.6L878.6,253.6L881.6,253.5L884.6,253.5L887.6,253.5L890.6,253.4L893.6,253.4L896.6,253.3L899.6,253.3L902.6,253.3L905.6,253.2L908.6,253.2L911.6,253.1L914.6,253.1L917.6,253.1L920.6,253L923.6,253L926.6,252.9L929.6,252.9L932.6,252.9L935.6,252.8L938.6,252.8L941.6,252.7L944.6,252.7L947.6,252.6L950.6,252.6L953.6,252.5L956.6,252.5L959.6,252.4L962.6,252.4L965.6,252.3L968.6,252.3L971.6,252.2L974.6,252.2L977.6,252.1L980.6,252.1L983.6,252L986.6,252L989.6,251.9L992.6,251.9L995.6,251.8L998.6,251.7L1001.6,251.7L1004.6,251.6L1007.6,251.6L1010.5,251.5L1013.5,251.4L1016.5,251.4L1019.5,251.3L1022.5,251.2L1025.5,251.2L1028.5,251.1L1031.5,251L1034.5,251L1037.5,250.9L1040.5,250.8L1043.5,250.8L1046.5,250.7L1049.5,250.6L1052.5,250.5L1055.5,250.5L1058.5,250.4L1061.5,250.3L1064.5,250.3L1067.5,250.2L1070.5,250.1L1073.5,250.1L1076.5,250L1079.5,249.9L1082.5,249.8L1085.5,249.8L1088.5,249.7L1091.5,249.7L1094.5,249.6L1097.5,249.5L1100.5,249.5L1103.5,249.4L1106.5,249.3L1109.5,249.3L1112.5,249.2L1115.5,249.2L1118.5,249.1L1121.5,249.1L1124.4,249L1127.4,249L1130.4,248.9L1133.4,248.9L1136.4,248.9L1139.4,248.8L1142.4,248.8L1145.4,248.7L1148.4,248.7L1151.4,248.7L1154.4,248.7L1157.4,248.6L1160.4,248.6L1163.4,248.6L1166.4,248.6L1169.4,248.6L1172.4,248.6L1175.4,248.6L1178.4,248.6L1181.4,248.6L1184.4,248.6L1187.4,248.6L1190.4,248.6L1193.4,248.6L1196.4,248.6L1199.4,248.6L1202.4,248.6L1205.4,248.6L1208.4,248.6L1211.4,248.7L1214.4,248.7L1217.4,248.7L1220.4,248.7L1223.4,248.7L1226.4,248.8L1229.4,248.8L1232.4,248.8L1235.4,248.8L1238.4,248.9L1241.4,248.9L1244.4,248.9L1247.4,248.9L1250.4,249L1253.4,249L1256.4,249L1259.4,249L1262.4,249.1L1265.4,249.1L1268.4,249.1L1271.4,249.1L1274.4,249.2L1277.4,249.2L1280.4,249.2L1283.4,249.2L1286.4,249.2L1289.4,249.2L1292.4,249.3L1295.4,249.3L1298.4,249.3L1301.4,249.3L1304.4,249.3L1307.4,249.3L1310.4,249.3L1313.4,249.3L1316.4,249.3L1319.4,249.3L1322.4,249.2L1325.4,249.2L1328.4,249.2L1331.4,249.2L1334.4,249.2L1337.4,249.1L1340.4,249.1L1343.4,249.1L1346.4,249.1L1349.4,249L1352.4,249L1355.4,249L1358.4,248.9L1361.4,248.9L1364.4,248.9L1367.4,248.8L1370.4,248.8L1373.3,248.8L1376.3,248.8L1379.3,248.7L1382.3,248.7L1385.3,248.7L1388.3,248.7L1391.3,248.6L1394.3,248.6L1397.3,248.6L1400.3,248.6L1403.3,248.6L1406.3,248.6L1409.3,248.6L1412.3,248.6L1415.3,248.6L1418.3,248.6L1421.3,248.6L1424.3,248.6L1427.3,248.6L1430.3,248.7L1433.3,248.7L1436.3,248.7L1439.3,248.7L1442.3,248.7L1445.3,248.8L1448.3,248.8L1451.3,248.8L1454.3,248.8L1457.3,248.9L1460.3,248.9L1463.3,248.9L1466.3,248.9L1469.3,248.9L1472.3,249L1475.3,249L1478.3,249L1481.3,249L1484.3,249L1487.3,249L1490.3,249L1493.3,249L1496.3,249.1L1499.3,249.1L1502.3,249.1L1505.3,249.1L1508.3,249.1L1511.3,249.1L1514.3,249.1L1517.3,249.1L1520.3,249.1L1523.3,249.1L1526.3,249.1L1529.3,249.1L1532.3,249.1L1535.3,249.1L1538.3,249.1L1541.3,249.1L1544.3,249.1L1547.3,249.1L1550.3,249.2L1553.3,249.2L1556.3,249.2L1559.3,249.2L1562.3,249.3L1565.3,249.3L1568.3,249.3L1571.3,249.4L1574.3,249.4L1577.3,249.4L1580.3,249.5L1583.3,249.5L1586.3,249.6L1589.3,249.7L1592.3,249.7L1595.3,249.8L1598.2,249.9L1601.2,249.9L1604.2,250L1607.2,250.1L1610.2,250.2L1613.2,250.3L1616.2,250.4L1619.2,250.5L1622.2,250.7L1625.2,250.8L1628.2,250.9L1631.2,251.1L1634.2,251.2L1637.2,251.4L1640.2,251.5L1643.2,251.7L1646.2,251.9L1649.1,252.1L1652.1,252.3L1655.1,252.5L1658.1,252.7L1661.1,252.9L1664.1,253.1L1667.1,253.3L1670.1,253.6L1673.1,253.8L1676.1,254.1L1679.1,254.3L1682,254.6L1685,254.8L1688,255.1L1691,255.4L1694,255.7L1697,256L1700,256.3L1703,256.6L1705.9,256.9L1708.9,257.2L1711.9,257.6L1714.9,257.9L1717.9,258.3L1720.9,258.6L1723.9,259L1726.9,259.3L1729.8,259.7L1732.8,260.1L1735.8,260.5L1738.8,260.9L1741.7,261.3L1744.7,261.8L1747.7,262.2L1750.7,262.7L1753.6,263.2L1756.6,263.7L1759.5,264.2L1762.5,264.8L1765.4,265.3L1768.4,265.9L1771.3,266.5L1774.2,267.1L1777.2,267.8L1780.1,268.5L1783,269.2L1785.9,269.9L1788.8,270.6L1791.7,271.4L1794.6,272.2L1797.4,273L1800.3,273.9L1803.2,274.8L1806,275.7L1808.9,276.6L1811.7,277.6L1814.6,278.5L1817.4,279.5L1820.2,280.6L1823,281.6L1825.8,282.7L1828.6,283.7L1831.4,284.8L1834.2,285.9L1837,287.1L1839.8,288.2L1842.6,289.4L1845.3,290.5L1848.1,291.7L1850.9,292.9L1853.6,294.1L1856.4,295.4L1859.1,296.6L1861.8,297.8L1864.6,299.1L1867.3,300.4L1870,301.6L1872.7,302.9L1875.5,304.2L1878.2,305.5L1880.9,306.8L1883.6,308.1L1886.3,309.4L1889,310.7" fill="none" stroke="#a00000" stroke-width="1.7" stroke-linejoin="round" transform="translate(0,0.35)"/>
<polygon points="241.2,471.9 243.5,478.8 250.8,478.9 244.9,483.2 247.1,490.2 241.2,485.9 235.3,490.2 237.5,483.2 231.6,478.9 238.9,478.8" fill="#a00000"/>
<polygon points="316.4,305.4 318.7,312.3 326,312.4 320.1,316.7 322.3,323.7 316.4,319.4 310.5,323.7 312.7,316.7 306.8,312.4 314.1,312.3" fill="#a00000"/>
<polygon points="393.2,267.5 395.5,274.4 402.8,274.5 396.9,278.8 399.1,285.8 393.2,281.5 387.3,285.8 389.5,278.8 383.6,274.5 390.9,274.4" fill="#a00000"/>
<polygon points="470.4,256.6 472.7,263.5 480,263.6 474.1,267.9 476.3,274.9 470.4,270.6 464.5,274.9 466.7,267.9 460.8,263.6 468.1,263.5" fill="#a00000"/>
<polygon points="547.3,251.1 549.6,258 556.9,258.1 551,262.4 553.2,269.4 547.3,265.1 541.4,269.4 543.6,262.4 537.7,258.1 545,258" fill="#a00000"/>
<polygon points="624.4,248 626.7,254.9 634,255 628.1,259.3 630.3,266.3 624.4,262 618.5,266.3 620.7,259.3 614.8,255 622.1,254.9" fill="#a00000"/>
<polygon points="701.3,246.2 703.6,253.1 710.9,253.2 705,257.5 707.2,264.5 701.3,260.2 695.4,264.5 697.6,257.5 691.7,253.2 699,253.1" fill="#a00000"/>
<polygon points="778.9,244.7 781.2,251.6 788.5,251.7 782.6,256 784.8,263 778.9,258.7 773,263 775.2,256 769.3,251.7 776.6,251.6" fill="#a00000"/>
<polygon points="856.4,243.8 858.7,250.7 866,250.8 860.1,255.1 862.3,262.1 856.4,257.8 850.5,262.1 852.7,255.1 846.8,250.8 854.1,250.7" fill="#a00000"/>
<polygon points="933.7,242.9 936,249.8 943.3,249.9 937.4,254.2 939.6,261.2 933.7,256.9 927.8,261.2 930,254.2 924.1,249.9 931.4,249.8" fill="#a00000"/>
<polygon points="1011.6,241.1 1013.9,248 1021.2,248.1 1015.3,252.4 1017.5,259.4 1011.6,255.1 1005.7,259.4 1007.9,252.4 1002,248.1 1009.3,248" fill="#a00000"/>
<polygon points="1089.3,239.6 1091.6,246.5 1098.9,246.6 1093,250.9 1095.2,257.9 1089.3,253.6 1083.4,257.9 1085.6,250.9 1079.7,246.6 1087,246.5" fill="#a00000"/>
<polygon points="1166.8,238.7 1169.1,245.6 1176.4,245.7 1170.5,250 1172.7,257 1166.8,252.7 1160.9,257 1163.1,250 1157.2,245.7 1164.5,245.6" fill="#a00000"/>
<polygon points="1245,238.6 1247.3,245.5 1254.6,245.6 1248.7,249.9 1250.9,256.9 1245,252.6 1239.1,256.9 1241.3,249.9 1235.4,245.6 1242.7,245.5" fill="#a00000"/>
<polygon points="1322.6,239.3 1324.9,246.2 1332.2,246.3 1326.3,250.6 1328.5,257.6 1322.6,253.3 1316.7,257.6 1318.9,250.6 1313,246.3 1320.3,246.2" fill="#a00000"/>
<polygon points="1400.9,238.4 1403.2,245.3 1410.5,245.4 1404.6,249.7 1406.8,256.7 1400.9,252.4 1395,256.7 1397.2,249.7 1391.3,245.4 1398.6,245.3" fill="#a00000"/>
<polygon points="1479,239 1481.3,245.9 1488.6,246 1482.7,250.3 1484.9,257.3 1479,253 1473.1,257.3 1475.3,250.3 1469.4,246 1476.7,245.9" fill="#a00000"/>
<polygon points="1557.4,239 1559.7,245.9 1567,246 1561.1,250.3 1563.3,257.3 1557.4,253 1551.5,257.3 1553.7,250.3 1547.8,246 1555.1,245.9" fill="#a00000"/>
<polygon points="1634.4,241.2 1636.7,248.1 1644,248.2 1638.1,252.5 1640.3,259.5 1634.4,255.2 1628.5,259.5 1630.7,252.5 1624.8,248.2 1632.1,248.1" fill="#a00000"/>
<polygon points="1713.2,247.6 1715.5,254.5 1722.8,254.6 1716.9,258.9 1719.1,265.9 1713.2,261.6 1707.3,265.9 1709.5,258.9 1703.6,254.6 1710.9,254.5" fill="#a00000"/>
<polygon points="1791.3,261.2 1793.6,268.1 1800.9,268.2 1795,272.5 1797.2,279.5 1791.3,275.2 1785.4,279.5 1787.6,272.5 1781.7,268.2 1789,268.1" fill="#a00000"/>
<polygon points="1869.5,291.3 1871.8,298.2 1879.1,298.3 1873.2,302.6 1875.4,309.6 1869.5,305.3 1863.6,309.6 1865.8,302.6 1859.9,298.3 1867.2,298.2" fill="#a00000"/>
</g>
<rect x="1226.3" y="680" width="661.1" height="592.2" fill="#fff" stroke="#000" stroke-width="1.6"/>
<rect x="1228.3" y="1273" width="655.9" height="2.6" fill="#979797"/>
<g font-family="'Liberation Sans', sans-serif" font-weight="bold" font-size="47.5" fill="#000">
<path d="M1275.9,752.4H1387.8" stroke="#000000" stroke-width="1.7" fill="none"/>
<rect x="1324.5" y="745.1" width="14.5" height="14.5" fill="#000000"/>
<text transform="translate(1399.5,769) scale(0.981,1)" text-anchor="start">T=300 nm ICP-0 min</text>
<path d="M1275.9,813.7H1387.8" stroke="#ff0000" stroke-width="1.7" fill="none"/>
<circle cx="1331.7" cy="813.7" r="8.2" fill="#ff0000"/>
<text transform="translate(1399.5,830.3) scale(0.981,1)" text-anchor="start">T=300 nm ICP-10 min</text>
<path d="M1275.9,875.1H1387.8" stroke="#0000ff" stroke-width="1.7" fill="none"/>
<polygon points="1331.7,863.8 1341.3,880.8 1322.1,880.8" fill="#0000ff"/>
<text transform="translate(1399.5,891.7) scale(0.981,1)" text-anchor="start">T=300 nm ICP-20 min</text>
<path d="M1275.9,936.4H1387.8" stroke="#ff00ff" stroke-width="1.7" fill="none"/>
<polygon points="1331.7,947.7 1341.3,930.7 1322.1,930.7" fill="#ff00ff"/>
<text transform="translate(1399.5,953) scale(0.981,1)" text-anchor="start">T=300 nm ICP-30 min</text>
<path d="M1275.9,997.7H1387.8" stroke="#008000" stroke-width="1.7" fill="none"/>
<polygon points="1331.7,986.9 1341.7,997.7 1331.7,1008.5 1321.7,997.7" fill="#008000"/>
<text transform="translate(1399.5,1014.3) scale(0.981,1)" text-anchor="start">T=300 nm ICP-40 min</text>
<path d="M1275.9,1059H1387.8" stroke="#00008c" stroke-width="1.7" fill="none"/>
<polygon points="1320.4,1059 1337.4,1049.5 1337.4,1068.6" fill="#00008c"/>
<text transform="translate(1399.5,1075.6) scale(0.981,1)" text-anchor="start">T=300 nm ICP-50 min</text>
<path d="M1275.9,1120.4H1387.8" stroke="#8c00ff" stroke-width="1.7" fill="none"/>
<polygon points="1343,1120.4 1326,1110.8 1326,1130" fill="#8c00ff"/>
<text transform="translate(1399.5,1137) scale(0.981,1)" text-anchor="start">T=300 nm ICP-60 min</text>
<path d="M1275.9,1181.7H1387.8" stroke="#960096" stroke-width="1.7" fill="none"/>
<polygon points="1331.7,1172.6 1340,1177.2 1340,1186.2 1331.7,1190.8 1323.4,1186.2 1323.4,1177.2" fill="#960096"/>
<text transform="translate(1399.5,1198.3) scale(0.981,1)" text-anchor="start">T=300 nm ICP-70 min</text>
<path d="M1275.9,1243H1387.8" stroke="#a00000" stroke-width="1.7" fill="none"/>
<polygon points="1331.7,1232.9 1334,1239.9 1341.3,1239.9 1335.4,1244.2 1337.6,1251.2 1331.7,1246.9 1325.8,1251.2 1328,1244.2 1322.1,1239.9 1329.4,1239.9" fill="#a00000"/>
<text transform="translate(1399.5,1259.6) scale(0.981,1)" text-anchor="start">Null</text>
</g>
<path d="M241.2,1279.2H1889" stroke="#000" stroke-width="9.3" stroke-linecap="round" fill="none"/>
<rect x="1887.4" y="678" width="6.2" height="601.2" fill="#000"/>
</svg>
</body>
</html>
